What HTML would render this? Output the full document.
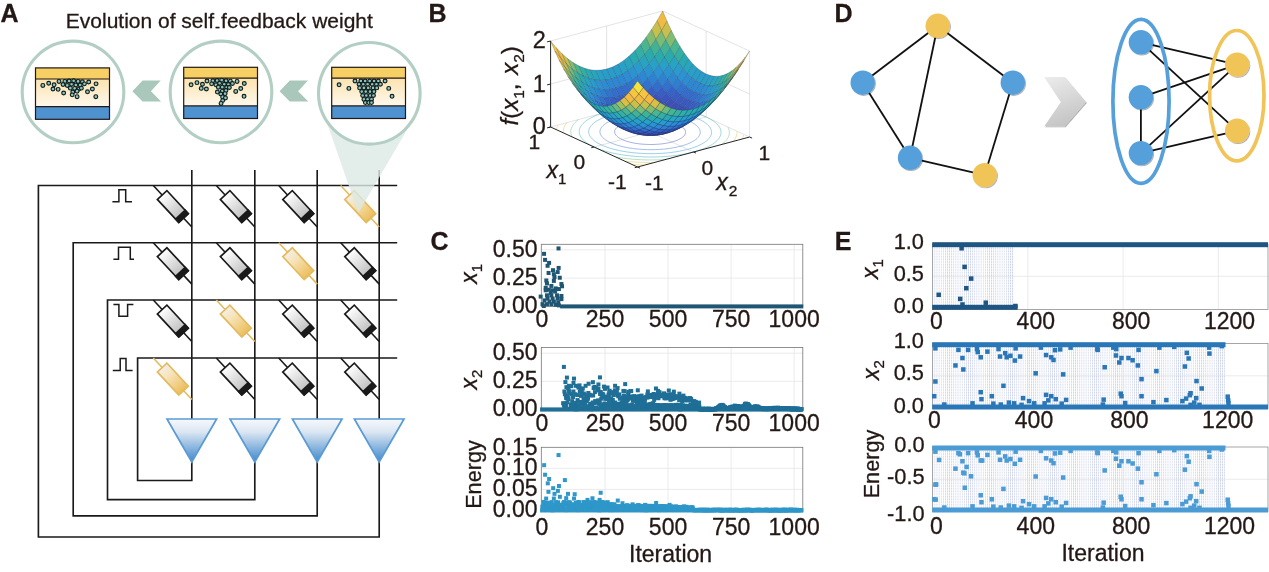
<!DOCTYPE html>
<html lang="en"><head><meta charset="utf-8"><title>Figure</title>
<style>
html,body{margin:0;padding:0;background:#fff;}
body{width:1269px;height:572px;overflow:hidden;font-family:'Liberation Sans', Arial, sans-serif;}
svg{display:block;font-family:'Liberation Sans', Arial, sans-serif;will-change:transform;}
svg text{stroke:#231815;stroke-width:0.3px;}
</style></head><body>
<svg width="1269" height="572" viewBox="0 0 1269 572">
<rect width="1269" height="572" fill="#ffffff"/>
<text x="0.4" y="22" font-size="25" font-weight="bold" fill="#231815">A</text>
<text x="65.8" y="28.3" font-size="21" fill="#231815">Evolution of self<tspan dx="1" dy="3.2" font-size="15">-</tspan><tspan dx="1" dy="-3.2">feedback weight</tspan></text>
<g stroke="#1a1a1a" stroke-width="1.65" fill="none" stroke-linejoin="miter">
<polyline points="397.2,185.5 38.4,185.5 38.4,537.0 379.2,537.0 379.2,462"/>
<polyline points="397.2,242.7 73.2,242.7 73.2,515.8 317.2,515.8 317.2,462"/>
<polyline points="397.2,300.0 107.5,300.0 107.5,499.6 254.8,499.6 254.8,462"/>
<polyline points="397.2,358.0 137.6,358.0 137.6,480.5 191.8,480.5 191.8,462"/>
<line x1="191.8" y1="170" x2="191.8" y2="419"/>
<line x1="254.8" y1="170" x2="254.8" y2="419"/>
<line x1="317.2" y1="170" x2="317.2" y2="419"/>
<line x1="379.2" y1="170" x2="379.2" y2="419"/>
</g>
<g stroke="#1a1a1a" stroke-width="1.5" fill="none">
<polyline points="112.4,201.8 118.9,201.8 118.9,189.7 125.7,189.7 125.7,201.8 132,201.8"/>
<polyline points="113.4,259.3 118.5,259.3 118.5,247.2 130.3,247.2 130.3,259.3 134,259.3"/>
<polyline points="113.4,304.6 118.9,304.6 118.9,316.2 127.6,316.2 127.6,304.6 133.4,304.6"/>
<polyline points="112.8,370.6 120.2,370.6 120.2,358.6 126,358.6 126,370.6 132.6,370.6"/>
</g>
<defs>
<linearGradient id="mg" x1="0" y1="0" x2="1" y2="0"><stop offset="0" stop-color="#ffffff"/><stop offset="1" stop-color="#b9b9b9"/></linearGradient>
<linearGradient id="my" x1="0" y1="0" x2="1" y2="0"><stop offset="0" stop-color="#f3efe6"/><stop offset="0.35" stop-color="#f6e3b8"/><stop offset="1" stop-color="#ecbe5c"/></linearGradient>
<g id="mem"><line x1="0" y1="0" x2="56.6" y2="0" stroke="#1a1a1a" stroke-width="1.6"/><rect x="13" y="-6.5" width="31.4" height="13" fill="url(#mg)" stroke="#1a1a1a" stroke-width="1.7"/><rect x="39.8" y="-6.5" width="4.6" height="13" fill="#1a1a1a" stroke="#1a1a1a" stroke-width="1.6"/></g>
<g id="memy"><line x1="0" y1="0" x2="56.6" y2="0" stroke="#e4ba5e" stroke-width="1.6"/><rect x="13" y="-6.5" width="31.4" height="13" fill="url(#my)" stroke="#e4ba5e" stroke-width="1.7"/></g>
</defs>
<use href="#mem" transform="translate(153.3,185.5) rotate(47.1)"/>
<use href="#mem" transform="translate(216.3,185.5) rotate(47.1)"/>
<use href="#mem" transform="translate(278.7,185.5) rotate(47.1)"/>
<use href="#memy" transform="translate(340.7,185.5) rotate(47.1)"/>
<use href="#mem" transform="translate(153.3,242.7) rotate(47.1)"/>
<use href="#mem" transform="translate(216.3,242.7) rotate(47.1)"/>
<use href="#memy" transform="translate(278.7,242.7) rotate(47.1)"/>
<use href="#mem" transform="translate(340.7,242.7) rotate(47.1)"/>
<use href="#mem" transform="translate(153.3,300) rotate(47.1)"/>
<use href="#memy" transform="translate(216.3,300) rotate(47.1)"/>
<use href="#mem" transform="translate(278.7,300) rotate(47.1)"/>
<use href="#mem" transform="translate(340.7,300) rotate(47.1)"/>
<use href="#memy" transform="translate(153.3,358) rotate(47.1)"/>
<use href="#mem" transform="translate(216.3,358) rotate(47.1)"/>
<use href="#mem" transform="translate(278.7,358) rotate(47.1)"/>
<use href="#mem" transform="translate(340.7,358) rotate(47.1)"/>
<defs><linearGradient id="tri" x1="0" y1="0" x2="0" y2="1"><stop offset="0" stop-color="#f7f9fc"/><stop offset="0.3" stop-color="#dbe6f2"/><stop offset="1" stop-color="#3f88cc"/></linearGradient></defs>
<polygon points="167,419 216.6,419 191.8,462" fill="url(#tri)" stroke="#5b9bd5" stroke-width="1.7" stroke-linejoin="miter"/>
<polygon points="230,419 279.6,419 254.8,462" fill="url(#tri)" stroke="#5b9bd5" stroke-width="1.7" stroke-linejoin="miter"/>
<polygon points="292.4,419 342,419 317.2,462" fill="url(#tri)" stroke="#5b9bd5" stroke-width="1.7" stroke-linejoin="miter"/>
<polygon points="354.4,419 404,419 379.2,462" fill="url(#tri)" stroke="#5b9bd5" stroke-width="1.7" stroke-linejoin="miter"/>
<polygon points="323.2,112 417.5,112 358.3,213" fill="#dce8e3" opacity="0.8"/>
<circle cx="73" cy="91.9" r="50.8" fill="#fff" stroke="#b3cfc3" stroke-width="3.1"/>
<circle cx="221" cy="91.9" r="50.8" fill="#fff" stroke="#b3cfc3" stroke-width="3.1"/>
<circle cx="369.3" cy="93.3" r="50.8" fill="#fff" stroke="#b3cfc3" stroke-width="3.1"/>
<polygon points="132.4,91.2 142.6,80.5 160.7,80.5 150.9,91.2 161.1,101.6 142.6,101.6" fill="#a9c7ba"/>
<polygon points="279.6,91.2 289.8,80.5 307.9,80.5 298.1,91.2 308.3,101.6 289.8,101.6" fill="#a9c7ba"/>
<defs><linearGradient id="cream" x1="0" y1="0" x2="0" y2="1"><stop offset="0" stop-color="#fce3b0"/><stop offset="1" stop-color="#fef8ec"/></linearGradient></defs>
<rect x="35.5" y="79" width="74" height="27.7" fill="url(#cream)"/>
<rect x="35.5" y="67.9" width="74" height="11.1" fill="#f6cf65"/>
<rect x="35.5" y="106.7" width="74" height="12.6" fill="#4e92d0"/>
<g stroke="#231815" stroke-width="1.2" fill="none"><rect x="35.5" y="67.9" width="74" height="51.4"/><line x1="35.5" y1="79" x2="109.5" y2="79"/><line x1="35.5" y1="106.7" x2="109.5" y2="106.7"/></g>
<g fill="#8cc4bd" stroke="#0f1c1c" stroke-width="1.15">
<circle cx="42.84" cy="85.44" r="1.9"/>
<circle cx="48.71" cy="83.24" r="1.9"/>
<circle cx="54.09" cy="84.83" r="1.9"/>
<circle cx="52.99" cy="88.99" r="1.9"/>
<circle cx="58.13" cy="89.35" r="1.9"/>
<circle cx="63.64" cy="93.02" r="1.9"/>
<circle cx="58.99" cy="81.4" r="1.9"/>
<circle cx="64.86" cy="81.4" r="1.9"/>
<circle cx="69.14" cy="81.04" r="1.9"/>
<circle cx="73.66" cy="80.79" r="1.9"/>
<circle cx="78.07" cy="81.4" r="1.9"/>
<circle cx="82.35" cy="81.77" r="1.9"/>
<circle cx="88.71" cy="82.02" r="1.9"/>
<circle cx="96.05" cy="83.85" r="1.9"/>
<circle cx="63.02" cy="84.46" r="1.9"/>
<circle cx="67.3" cy="85.44" r="1.9"/>
<circle cx="71.59" cy="84.22" r="1.9"/>
<circle cx="75.87" cy="85.07" r="1.9"/>
<circle cx="80.15" cy="85.07" r="1.9"/>
<circle cx="84.43" cy="83.85" r="1.9"/>
<circle cx="70.36" cy="88.13" r="1.9"/>
<circle cx="74.64" cy="88.38" r="1.9"/>
<circle cx="78.92" cy="89.11" r="1.9"/>
<circle cx="81.37" cy="88.13" r="1.9"/>
<circle cx="72.81" cy="92.05" r="1.9"/>
<circle cx="77.09" cy="91.19" r="1.9"/>
<circle cx="72.2" cy="94.86" r="1.9"/>
<circle cx="77.09" cy="96.69" r="1.9"/>
<circle cx="87.49" cy="91.8" r="1.9"/>
<circle cx="92.38" cy="88.99" r="1.9"/>
<circle cx="95.8" cy="96.69" r="1.9"/>
</g>
<rect x="183.7" y="78.1" width="73.8" height="27.8" fill="url(#cream)"/>
<rect x="183.7" y="67.3" width="73.8" height="10.8" fill="#f6cf65"/>
<rect x="183.7" y="105.9" width="73.8" height="12.6" fill="#4e92d0"/>
<g stroke="#231815" stroke-width="1.2" fill="none"><rect x="183.7" y="67.3" width="73.8" height="51.2"/><line x1="183.7" y1="78.1" x2="257.5" y2="78.1"/><line x1="183.7" y1="105.9" x2="257.5" y2="105.9"/></g>
<g fill="#8cc4bd" stroke="#0f1c1c" stroke-width="1.15">
<circle cx="191.09" cy="84.83" r="1.9"/>
<circle cx="196.96" cy="82.63" r="1.9"/>
<circle cx="202.46" cy="84.22" r="1.9"/>
<circle cx="201.24" cy="88.38" r="1.9"/>
<circle cx="206.38" cy="88.99" r="1.9"/>
<circle cx="206.99" cy="81.04" r="1.9"/>
<circle cx="212.86" cy="80.79" r="1.9"/>
<circle cx="217.14" cy="80.55" r="1.9"/>
<circle cx="221.66" cy="80.18" r="1.9"/>
<circle cx="226.07" cy="80.79" r="1.9"/>
<circle cx="230.35" cy="81.16" r="1.9"/>
<circle cx="237.08" cy="81.4" r="1.9"/>
<circle cx="244.29" cy="83.48" r="1.9"/>
<circle cx="211.64" cy="83.85" r="1.9"/>
<circle cx="215.92" cy="84.83" r="1.9"/>
<circle cx="219.59" cy="83.24" r="1.9"/>
<circle cx="224.23" cy="84.22" r="1.9"/>
<circle cx="228.39" cy="84.46" r="1.9"/>
<circle cx="232.43" cy="83.48" r="1.9"/>
<circle cx="218.36" cy="87.15" r="1.9"/>
<circle cx="222.28" cy="87.15" r="1.9"/>
<circle cx="226.68" cy="87.52" r="1.9"/>
<circle cx="229.37" cy="87.52" r="1.9"/>
<circle cx="217.38" cy="92.05" r="1.9"/>
<circle cx="222.28" cy="91.19" r="1.9"/>
<circle cx="225.95" cy="90.58" r="1.9"/>
<circle cx="220.81" cy="94" r="1.9"/>
<circle cx="225.09" cy="93.64" r="1.9"/>
<circle cx="222.64" cy="96.94" r="1.9"/>
<circle cx="225.46" cy="97.92" r="1.9"/>
<circle cx="222.64" cy="100.61" r="1.9"/>
<circle cx="221.05" cy="103.42" r="1.9"/>
<circle cx="235.73" cy="91.43" r="1.9"/>
<circle cx="240.74" cy="88.5" r="1.9"/>
<circle cx="244.05" cy="96.33" r="1.9"/>
</g>
<rect x="331.7" y="78.1" width="73.8" height="27.8" fill="url(#cream)"/>
<rect x="331.7" y="67.3" width="73.8" height="10.8" fill="#f6cf65"/>
<rect x="331.7" y="105.9" width="73.8" height="12.6" fill="#4e92d0"/>
<g stroke="#231815" stroke-width="1.2" fill="none"><rect x="331.7" y="67.3" width="73.8" height="51.2"/><line x1="331.7" y1="78.1" x2="405.5" y2="78.1"/><line x1="331.7" y1="105.9" x2="405.5" y2="105.9"/></g>
<g fill="#8cc4bd" stroke="#0f1c1c" stroke-width="1.15">
<circle cx="339.09" cy="84.83" r="1.9"/>
<circle cx="348.87" cy="88.38" r="1.9"/>
<circle cx="388.74" cy="88.38" r="1.9"/>
<circle cx="392.05" cy="96.33" r="1.9"/>
<circle cx="354.99" cy="81.04" r="1.9"/>
<circle cx="360.86" cy="81.04" r="1.9"/>
<circle cx="365.14" cy="81.04" r="1.9"/>
<circle cx="369.66" cy="81.04" r="1.9"/>
<circle cx="374.07" cy="81.04" r="1.9"/>
<circle cx="378.35" cy="81.04" r="1.9"/>
<circle cx="385.08" cy="81.04" r="1.9"/>
<circle cx="359.02" cy="84.22" r="1.9"/>
<circle cx="363.3" cy="84.22" r="1.9"/>
<circle cx="367.59" cy="84.22" r="1.9"/>
<circle cx="372.23" cy="84.22" r="1.9"/>
<circle cx="376.39" cy="84.22" r="1.9"/>
<circle cx="380.43" cy="84.22" r="1.9"/>
<circle cx="359.64" cy="87.89" r="1.9"/>
<circle cx="363.92" cy="87.89" r="1.9"/>
<circle cx="368.2" cy="87.89" r="1.9"/>
<circle cx="373.09" cy="87.89" r="1.9"/>
<circle cx="376.76" cy="87.89" r="1.9"/>
<circle cx="361.71" cy="91.56" r="1.9"/>
<circle cx="365.75" cy="91.56" r="1.9"/>
<circle cx="370.03" cy="91.56" r="1.9"/>
<circle cx="373.95" cy="91.56" r="1.9"/>
<circle cx="362.69" cy="95.47" r="1.9"/>
<circle cx="366.36" cy="95.47" r="1.9"/>
<circle cx="370.28" cy="95.47" r="1.9"/>
<circle cx="373.46" cy="95.47" r="1.9"/>
<circle cx="363.92" cy="99.38" r="1.9"/>
<circle cx="367.59" cy="99.38" r="1.9"/>
<circle cx="371.5" cy="99.38" r="1.9"/>
<circle cx="365.38" cy="102.56" r="1.9"/>
<circle cx="368.81" cy="102.56" r="1.9"/>
<circle cx="371.5" cy="102.56" r="1.9"/>
</g>
<text x="428.6" y="21.6" font-size="25" font-weight="bold" fill="#231815">B</text>
<g stroke="#dcdcdc" stroke-width="0.8" fill="none">
<polyline points="550.6,127 662.7,97 749.6,137"/>
<polyline points="550.6,41 662.7,11 749.6,51"/>
<line x1="662.7" y1="97" x2="662.7" y2="11"/>
<line x1="749.6" y1="137" x2="749.6" y2="51"/>
<polyline points="550.6,84 662.7,54 749.6,94"/>
<polyline points="606.65,26 606.65,112 693.55,152"/>
<polyline points="706.15,31 706.15,117 594.05,147"/>
</g>
<g fill="none" stroke-width="0.55" stroke-opacity="0.85">
<polyline points="628.38,122 629.12,121.81 629.87,121.62 630.64,121.44 631.42,121.27 632.22,121.11 633.03,120.95 633.85,120.8 634.68,120.66 635.52,120.53 636.37,120.4 637.23,120.28 638.1,120.17 638.98,120.07 639.86,119.98 640.75,119.89 641.65,119.81 642.56,119.75 643.47,119.69 644.38,119.63 645.3,119.59 646.22,119.55 647.14,119.53 648.07,119.51 649,119.5 649.92,119.5 650.85,119.51 651.78,119.53 652.71,119.55 653.63,119.58 654.55,119.63 655.47,119.68 656.39,119.74 657.3,119.8 658.21,119.88 659.11,119.96 660,120.05 660.89,120.15 661.77,120.26 662.64,120.38 663.51,120.5 664.36,120.64 665.21,120.78 666.04,120.93 666.87,121.08 667.68,121.24 668.48,121.41 669.27,121.59 670.04,121.78 670.8,121.97 671.55,122.17 672.28,122.37 673,122.58 673.7,122.8 674.38,123.03 675.05,123.26 675.7,123.5 676.33,123.74 676.95,123.99 677.55,124.24 678.12,124.5 678.68,124.76 679.22,125.03 679.74,125.31 680.24,125.59 680.72,125.87 681.18,126.16 681.61,126.45 682.03,126.74 682.42,127.04 682.79,127.34 683.14,127.65 683.47,127.96 683.77,128.27 684.05,128.58 684.31,128.9 684.54,129.22 684.75,129.54 684.93,129.86 685.1,130.18 685.23,130.5 685.35,130.83 685.44,131.16 685.5,131.48 685.54,131.81 685.56,132.14 685.55,132.46 685.52,132.79 685.46,133.12 685.38,133.44 685.28,133.77 685.15,134.09 685,134.41 684.82,134.73 684.62,135.05 684.4,135.37 684.15,135.68 683.88,135.99 683.58,136.3 683.27,136.61 682.93,136.91 682.56,137.21 682.18,137.51 681.77,137.8 681.35,138.08 680.9,138.37 680.43,138.65 679.93,138.92 679.42,139.19 678.89,139.46 678.34,139.72 677.77,139.97 677.18,140.22 676.57,140.47 675.94,140.7 675.3,140.94 674.64,141.16 673.96,141.38 673.26,141.59 672.55,141.8 671.83,142 671.08,142.19 670.33,142.38 669.56,142.56 668.78,142.73 667.98,142.89 667.17,143.05 666.35,143.2 665.52,143.34 664.68,143.47 663.83,143.6 662.97,143.72 662.1,143.83 661.22,143.93 660.34,144.02 659.45,144.11 658.55,144.19 657.64,144.25 656.73,144.31 655.82,144.37 654.9,144.41 653.98,144.45 653.06,144.47 652.13,144.49 651.2,144.5 650.28,144.5 649.35,144.49 648.42,144.47 647.49,144.45 646.57,144.42 645.65,144.37 644.73,144.32 643.81,144.26 642.9,144.2 641.99,144.12 641.09,144.04 640.2,143.95 639.31,143.85 638.43,143.74 637.56,143.62 636.69,143.5 635.84,143.36 634.99,143.22 634.16,143.07 633.33,142.92 632.52,142.76 631.72,142.59 630.93,142.41 630.16,142.22 629.4,142.03 628.65,141.83 627.92,141.63 627.2,141.42 626.5,141.2 625.82,140.97 625.15,140.74 624.5,140.5 623.87,140.26 623.25,140.01 622.65,139.76 622.08,139.5 621.52,139.24 620.98,138.97 620.46,138.69 619.96,138.41 619.48,138.13 619.02,137.84 618.59,137.55 618.17,137.26 617.78,136.96 617.41,136.66 617.06,136.35 616.73,136.04 616.43,135.73 616.15,135.42 615.89,135.1 615.66,134.78 615.45,134.46 615.27,134.14 615.1,133.82 614.97,133.5 614.85,133.17 614.76,132.84 614.7,132.52 614.66,132.19 614.64,131.86 614.65,131.54 614.68,131.21 614.74,130.88 614.82,130.56 614.92,130.23 615.05,129.91 615.2,129.59 615.38,129.27 615.58,128.95 615.8,128.63 616.05,128.32 616.32,128.01 616.62,127.7 616.93,127.39 617.27,127.09 617.64,126.79 618.02,126.49 618.43,126.2 618.85,125.92 619.3,125.63 619.77,125.35 620.27,125.08 620.78,124.81 621.31,124.54 621.86,124.28 622.43,124.03 623.02,123.78 623.63,123.53 624.26,123.3 624.9,123.06 625.56,122.84 626.24,122.62 626.94,122.41 627.65,122.2 628.38,122" stroke="#3d4db5"/>
<polyline points="619.38,117.86 620.42,117.59 621.49,117.32 622.58,117.07 623.69,116.83 624.81,116.59 625.95,116.37 627.11,116.16 628.29,115.96 629.48,115.77 630.68,115.59 631.9,115.43 633.13,115.27 634.37,115.13 635.62,115 636.88,114.88 638.15,114.77 639.43,114.67 640.72,114.58 642.01,114.51 643.31,114.45 644.61,114.4 645.92,114.36 647.23,114.34 648.54,114.32 649.85,114.32 651.17,114.33 652.48,114.36 653.79,114.39 655.1,114.44 656.4,114.5 657.7,114.57 659,114.65 660.28,114.75 661.57,114.86 662.84,114.98 664.11,115.11 665.36,115.25 666.61,115.4 667.84,115.57 669.06,115.74 670.27,115.93 671.47,116.13 672.65,116.34 673.81,116.56 674.96,116.79 676.09,117.03 677.2,117.28 678.3,117.54 679.38,117.81 680.43,118.09 681.47,118.39 682.48,118.68 683.47,118.99 684.44,119.31 685.38,119.64 686.3,119.97 687.2,120.32 688.07,120.67 688.92,121.03 689.73,121.39 690.52,121.77 691.29,122.15 692.02,122.54 692.73,122.93 693.4,123.33 694.05,123.74 694.67,124.15 695.26,124.57 695.81,124.99 696.33,125.42 696.83,125.85 697.29,126.28 697.72,126.72 698.11,127.17 698.47,127.61 698.8,128.06 699.1,128.51 699.36,128.97 699.59,129.43 699.79,129.89 699.95,130.35 700.07,130.81 700.17,131.27 700.22,131.73 700.25,132.19 700.24,132.66 700.19,133.12 700.11,133.58 700,134.04 699.85,134.5 699.67,134.96 699.45,135.41 699.2,135.87 698.92,136.32 698.6,136.76 698.25,137.21 697.87,137.65 697.45,138.08 697,138.52 696.52,138.94 696.01,139.37 695.47,139.79 694.89,140.2 694.29,140.61 693.65,141.01 692.99,141.4 692.29,141.79 691.57,142.17 690.82,142.55 690.03,142.92 689.23,143.28 688.39,143.63 687.53,143.97 686.65,144.31 685.73,144.64 684.8,144.96 683.84,145.27 682.86,145.57 681.85,145.86 680.82,146.14 679.78,146.41 678.71,146.68 677.62,146.93 676.51,147.17 675.39,147.41 674.25,147.63 673.09,147.84 671.91,148.04 670.72,148.23 669.52,148.41 668.3,148.57 667.07,148.73 665.83,148.87 664.58,149 663.32,149.12 662.05,149.23 660.77,149.33 659.48,149.42 658.19,149.49 656.89,149.55 655.59,149.6 654.28,149.64 652.97,149.66 651.66,149.68 650.35,149.68 649.03,149.67 647.72,149.64 646.41,149.61 645.1,149.56 643.8,149.5 642.5,149.43 641.2,149.35 639.92,149.25 638.63,149.14 637.36,149.02 636.09,148.89 634.84,148.75 633.59,148.6 632.36,148.43 631.14,148.26 629.93,148.07 628.73,147.87 627.55,147.66 626.39,147.44 625.24,147.21 624.11,146.97 623,146.72 621.9,146.46 620.82,146.19 619.77,145.91 618.73,145.61 617.72,145.32 616.73,145.01 615.76,144.69 614.82,144.36 613.9,144.03 613,143.68 612.13,143.33 611.28,142.97 610.47,142.61 609.68,142.23 608.91,141.85 608.18,141.46 607.47,141.07 606.8,140.67 606.15,140.26 605.53,139.85 604.94,139.43 604.39,139.01 603.87,138.58 603.37,138.15 602.91,137.72 602.48,137.28 602.09,136.83 601.73,136.39 601.4,135.94 601.1,135.49 600.84,135.03 600.61,134.57 600.41,134.11 600.25,133.65 600.13,133.19 600.03,132.73 599.98,132.27 599.95,131.81 599.96,131.34 600.01,130.88 600.09,130.42 600.2,129.96 600.35,129.5 600.53,129.04 600.75,128.59 601,128.13 601.28,127.68 601.6,127.24 601.95,126.79 602.33,126.35 602.75,125.92 603.2,125.48 603.68,125.06 604.19,124.63 604.73,124.21 605.31,123.8 605.91,123.39 606.55,122.99 607.21,122.6 607.91,122.21 608.63,121.83 609.38,121.45 610.17,121.08 610.97,120.72 611.81,120.37 612.67,120.03 613.55,119.69 614.47,119.36 615.4,119.04 616.36,118.73 617.34,118.43 618.35,118.14 619.38,117.86" stroke="#336ecd"/>
<polyline points="612.47,114.68 613.75,114.35 615.06,114.02 616.4,113.71 617.75,113.42 619.13,113.13 620.53,112.86 621.95,112.6 623.39,112.36 624.84,112.13 626.32,111.91 627.81,111.7 629.31,111.51 630.83,111.34 632.37,111.17 633.91,111.03 635.47,110.89 637.03,110.77 638.61,110.67 640.19,110.58 641.78,110.5 643.38,110.44 644.98,110.4 646.58,110.37 648.19,110.35 649.8,110.35 651.4,110.36 653.01,110.39 654.62,110.44 656.22,110.49 657.82,110.57 659.41,110.65 660.99,110.76 662.57,110.87 664.14,111 665.7,111.15 667.25,111.31 668.79,111.48 670.32,111.67 671.83,111.87 673.32,112.09 674.8,112.32 676.27,112.56 677.71,112.82 679.14,113.09 680.55,113.37 681.93,113.67 683.3,113.97 684.64,114.29 685.95,114.63 687.25,114.97 688.52,115.33 689.76,115.69 690.97,116.07 692.16,116.46 693.31,116.86 694.44,117.27 695.54,117.69 696.6,118.12 697.64,118.56 698.64,119.01 699.61,119.47 700.54,119.93 701.44,120.41 702.31,120.89 703.14,121.38 703.93,121.88 704.69,122.38 705.4,122.89 706.08,123.41 706.73,123.94 707.33,124.46 707.89,125 708.42,125.54 708.9,126.08 709.35,126.63 709.75,127.18 710.11,127.73 710.43,128.29 710.71,128.85 710.95,129.41 711.15,129.97 711.3,130.54 711.42,131.1 711.49,131.67 711.52,132.24 711.5,132.8 711.45,133.37 711.35,133.94 711.21,134.5 711.03,135.06 710.81,135.62 710.54,136.18 710.24,136.73 709.89,137.29 709.5,137.83 709.07,138.38 708.6,138.92 708.1,139.45 707.55,139.98 706.96,140.5 706.33,141.02 705.66,141.54 704.96,142.04 704.22,142.54 703.44,143.03 702.62,143.51 701.77,143.99 700.89,144.46 699.97,144.92 699.01,145.37 698.02,145.81 697,146.24 695.94,146.66 694.86,147.08 693.74,147.48 692.6,147.87 691.42,148.25 690.22,148.62 688.99,148.97 687.73,149.32 686.45,149.65 685.14,149.98 683.8,150.29 682.45,150.58 681.07,150.87 679.67,151.14 678.25,151.4 676.81,151.64 675.36,151.87 673.88,152.09 672.39,152.3 670.89,152.49 669.37,152.66 667.83,152.83 666.29,152.97 664.73,153.11 663.17,153.23 661.59,153.33 660.01,153.42 658.42,153.5 656.82,153.56 655.22,153.6 653.62,153.63 652.01,153.65 650.4,153.65 648.8,153.64 647.19,153.61 645.58,153.56 643.98,153.51 642.38,153.43 640.79,153.35 639.21,153.24 637.63,153.13 636.06,153 634.5,152.85 632.95,152.69 631.41,152.52 629.88,152.33 628.37,152.13 626.88,151.91 625.4,151.68 623.93,151.44 622.49,151.18 621.06,150.91 619.65,150.63 618.27,150.33 616.9,150.03 615.56,149.71 614.25,149.37 612.95,149.03 611.68,148.67 610.44,148.31 609.23,147.93 608.04,147.54 606.89,147.14 605.76,146.73 604.66,146.31 603.6,145.88 602.56,145.44 601.56,144.99 600.59,144.53 599.66,144.07 598.76,143.59 597.89,143.11 597.06,142.62 596.27,142.12 595.51,141.62 594.8,141.11 594.12,140.59 593.47,140.06 592.87,139.54 592.31,139 591.78,138.46 591.3,137.92 590.85,137.37 590.45,136.82 590.09,136.27 589.77,135.71 589.49,135.15 589.25,134.59 589.05,134.03 588.9,133.46 588.78,132.9 588.71,132.33 588.68,131.76 588.7,131.2 588.75,130.63 588.85,130.06 588.99,129.5 589.17,128.94 589.39,128.38 589.66,127.82 589.96,127.27 590.31,126.71 590.7,126.17 591.13,125.62 591.6,125.08 592.1,124.55 592.65,124.02 593.24,123.5 593.87,122.98 594.54,122.46 595.24,121.96 595.98,121.46 596.76,120.97 597.58,120.49 598.43,120.01 599.31,119.54 600.23,119.08 601.19,118.63 602.18,118.19 603.2,117.76 604.26,117.34 605.34,116.92 606.46,116.52 607.6,116.13 608.78,115.75 609.98,115.38 611.21,115.03 612.47,114.68" stroke="#2a95d2"/>
<polyline points="606.65,112 608.13,111.61 609.64,111.24 611.18,110.88 612.75,110.54 614.34,110.21 615.95,109.9 617.59,109.6 619.25,109.32 620.94,109.05 622.64,108.8 624.36,108.56 626.1,108.34 627.85,108.14 629.62,107.95 631.41,107.78 633.2,107.63 635.01,107.49 636.83,107.37 638.66,107.27 640.5,107.18 642.34,107.11 644.19,107.06 646.04,107.02 647.89,107 649.75,107 651.61,107.02 653.46,107.05 655.32,107.1 657.16,107.17 659.01,107.25 660.85,107.35 662.68,107.47 664.5,107.6 666.32,107.76 668.12,107.92 669.91,108.11 671.68,108.31 673.44,108.53 675.19,108.76 676.92,109.01 678.63,109.27 680.32,109.56 681.98,109.85 683.63,110.16 685.26,110.49 686.86,110.83 688.43,111.18 689.98,111.55 691.5,111.94 692.99,112.33 694.46,112.75 695.89,113.17 697.29,113.61 698.66,114.06 700,114.52 701.3,114.99 702.57,115.48 703.8,115.97 704.99,116.48 706.15,117 707.27,117.53 708.35,118.07 709.39,118.62 710.38,119.17 711.34,119.74 712.26,120.31 713.13,120.9 713.96,121.49 714.74,122.08 715.49,122.69 716.18,123.3 716.83,123.91 717.44,124.54 718,125.16 718.51,125.8 718.98,126.43 719.4,127.07 719.77,127.71 720.09,128.36 720.37,129.01 720.59,129.66 720.77,130.31 720.9,130.97 720.98,131.62 721.02,132.27 721,132.93 720.94,133.58 720.83,134.24 720.67,134.89 720.46,135.54 720.2,136.18 719.89,136.83 719.54,137.47 719.14,138.1 718.69,138.74 718.2,139.36 717.66,139.99 717.07,140.6 716.43,141.22 715.75,141.82 715.03,142.42 714.26,143.01 713.45,143.59 712.59,144.17 711.69,144.74 710.75,145.3 709.77,145.85 708.74,146.39 707.68,146.92 706.58,147.44 705.43,147.95 704.25,148.44 703.04,148.93 701.78,149.41 700.49,149.87 699.17,150.32 697.81,150.76 696.42,151.19 695,151.6 693.55,152 692.07,152.39 690.56,152.76 689.02,153.12 687.45,153.46 685.86,153.79 684.25,154.1 682.61,154.4 680.95,154.68 679.26,154.95 677.56,155.2 675.84,155.44 674.1,155.66 672.35,155.86 670.58,156.05 668.79,156.22 667,156.37 665.19,156.51 663.37,156.63 661.54,156.73 659.7,156.82 657.86,156.89 656.01,156.94 654.16,156.98 652.31,157 650.45,157 648.59,156.98 646.74,156.95 644.88,156.9 643.04,156.83 641.19,156.75 639.35,156.65 637.52,156.53 635.7,156.4 633.88,156.24 632.08,156.08 630.29,155.89 628.52,155.69 626.76,155.47 625.01,155.24 623.28,154.99 621.57,154.73 619.88,154.44 618.22,154.15 616.57,153.84 614.94,153.51 613.34,153.17 611.77,152.82 610.22,152.45 608.7,152.06 607.21,151.67 605.74,151.25 604.31,150.83 602.91,150.39 601.54,149.94 600.2,149.48 598.9,149.01 597.63,148.52 596.4,148.03 595.21,147.52 594.05,147 592.93,146.47 591.85,145.93 590.81,145.38 589.82,144.83 588.86,144.26 587.94,143.69 587.07,143.1 586.24,142.51 585.46,141.92 584.71,141.31 584.02,140.7 583.37,140.09 582.76,139.46 582.2,138.84 581.69,138.2 581.22,137.57 580.8,136.93 580.43,136.29 580.11,135.64 579.83,134.99 579.61,134.34 579.43,133.69 579.3,133.03 579.22,132.38 579.18,131.73 579.2,131.07 579.26,130.42 579.37,129.76 579.53,129.11 579.74,128.46 580,127.82 580.31,127.17 580.66,126.53 581.06,125.9 581.51,125.26 582,124.64 582.54,124.01 583.13,123.4 583.77,122.78 584.45,122.18 585.17,121.58 585.94,120.99 586.75,120.41 587.61,119.83 588.51,119.26 589.45,118.7 590.43,118.15 591.46,117.61 592.52,117.08 593.62,116.56 594.77,116.05 595.95,115.56 597.16,115.07 598.42,114.59 599.71,114.13 601.03,113.68 602.39,113.24 603.78,112.81 605.2,112.4 606.65,112" stroke="#29abae"/>
<polyline points="635.27,104.46 637.31,104.35 639.36,104.25 641.42,104.17 643.49,104.11 645.56,104.07 647.63,104.05 649.71,104.05 651.78,104.07 653.86,104.11 655.93,104.16 658,104.24 660.06,104.33 662.12,104.44 664.16,104.57 666.2,104.73 668.23,104.89 670.24,105.08 672.24,105.29 674.23,105.51 676.2,105.76 678.15,106.02 680.08,106.3 681.99,106.59 683.88,106.91" stroke="#68ba80"/>
<polyline points="727.99,127.21 728.35,127.93 728.66,128.66 728.91,129.38 729.11,130.11 729.26,130.84 729.35,131.58 729.39,132.31 729.37,133.04 729.3,133.77 729.18,134.5 729,135.23 728.76,135.95 728.47,136.68 728.13,137.4 727.74,138.11 727.29,138.82 726.79,139.53 726.23,140.23 725.63,140.93 724.97,141.62 724.26,142.3 723.5,142.98 722.69,143.65 721.83,144.31" stroke="#68ba80"/>
<polyline points="664.93,159.54 662.89,159.65 660.84,159.75 658.78,159.83 656.71,159.89 654.64,159.93 652.57,159.95 650.49,159.95 648.42,159.93 646.34,159.89 644.27,159.84 642.2,159.76 640.14,159.67 638.08,159.56 636.04,159.43 634,159.27 631.97,159.11 629.96,158.92 627.96,158.71 625.97,158.49 624,158.24 622.05,157.98 620.12,157.7 618.21,157.41 616.32,157.09" stroke="#68ba80"/>
<polyline points="572.21,136.79 571.85,136.07 571.54,135.34 571.29,134.62 571.09,133.89 570.94,133.16 570.85,132.42 570.81,131.69 570.83,130.96 570.9,130.23 571.02,129.5 571.2,128.77 571.44,128.05 571.73,127.32 572.07,126.6 572.46,125.89 572.91,125.18 573.41,124.47 573.97,123.77 574.57,123.07 575.23,122.38 575.94,121.7 576.7,121.02 577.51,120.35 578.37,119.69" stroke="#68ba80"/>
<polyline points="647.4,101.38 649.67,101.38 651.94,101.4 654.22,101.44 656.49,101.5 658.75,101.59 661.01,101.69 663.26,101.81 665.51,101.96 667.74,102.12 669.96,102.31 672.17,102.51 674.36,102.74" stroke="#dac044"/>
<polyline points="736.92,131.54 736.96,132.34 736.94,133.14 736.86,133.94 736.72,134.74 736.53,135.54 736.27,136.33 735.95,137.12 735.58,137.91 735.15,138.69 734.66,139.47 734.11,140.25 733.5,141.02" stroke="#dac044"/>
<polyline points="652.8,162.62 650.53,162.62 648.26,162.6 645.98,162.56 643.71,162.5 641.45,162.41 639.19,162.31 636.94,162.19 634.69,162.04 632.46,161.88 630.24,161.69 628.03,161.49 625.84,161.26" stroke="#dac044"/>
<polyline points="563.28,132.46 563.24,131.66 563.26,130.86 563.34,130.06 563.48,129.26 563.67,128.46 563.93,127.67 564.25,126.88 564.62,126.09 565.05,125.31 565.54,124.53 566.09,123.75 566.7,122.98" stroke="#dac044"/>
<polyline points="657,99.06 659.45,99.15 661.89,99.26 664.32,99.39 666.74,99.55" stroke="#f7c13f"/>
<polyline points="743.66,134.96 743.45,135.82 743.17,136.68 742.83,137.53 742.43,138.38" stroke="#f7c13f"/>
<polyline points="643.2,164.94 640.75,164.85 638.31,164.74 635.88,164.61 633.46,164.45" stroke="#f7c13f"/>
<polyline points="556.54,129.04 556.75,128.18 557.03,127.32 557.37,126.47 557.77,125.62" stroke="#f7c13f"/>
</g>
<g stroke="#10203a" stroke-opacity="0.5" stroke-width="0.4" stroke-linejoin="round">
<polygon points="661.44,30.84 657.1,20.67 662.7,11 667.04,21.17" fill="#f1ba41"/>
<polygon points="655.84,39.65 651.49,29.48 657.1,20.67 661.44,30.84" fill="#c7c04d"/>
<polygon points="665.79,40.15 661.44,30.84 667.04,21.17 671.39,30.48" fill="#c7c04d"/>
<polygon points="650.23,47.6 645.88,37.43 651.49,29.48 655.84,39.65" fill="#81bd71"/>
<polygon points="660.18,48.96 655.84,39.65 661.44,30.84 665.79,40.15" fill="#77bc77"/>
<polygon points="670.13,48.6 665.79,40.15 671.39,30.48 675.74,38.93" fill="#81bd71"/>
<polygon points="644.62,54.69 640.28,44.52 645.88,37.43 650.23,47.6" fill="#49b690"/>
<polygon points="654.58,56.91 650.23,47.6 655.84,39.65 660.18,48.96" fill="#40b397"/>
<polygon points="664.53,57.41 660.18,48.96 665.79,40.15 670.13,48.6" fill="#40b397"/>
<polygon points="674.47,56.19 670.13,48.6 675.74,38.93 680.08,46.52" fill="#49b690"/>
<polygon points="639.02,60.92 634.67,50.75 640.28,44.52 644.62,54.69" fill="#33afa4"/>
<polygon points="648.97,64 644.62,54.69 650.23,47.6 654.58,56.91" fill="#29abae"/>
<polygon points="658.92,65.36 654.58,56.91 660.18,48.96 664.53,57.41" fill="#29aab1"/>
<polygon points="668.87,65 664.53,57.41 670.13,48.6 674.47,56.19" fill="#29abae"/>
<polygon points="678.82,62.92 674.47,56.19 680.08,46.52 684.42,53.25" fill="#33afa4"/>
<polygon points="633.41,66.29 629.07,56.12 634.67,50.75 639.02,60.92" fill="#29a9b3"/>
<polygon points="643.37,70.23 639.02,60.92 644.62,54.69 648.97,64" fill="#27a4c1"/>
<polygon points="653.32,72.45 648.97,64 654.58,56.91 658.92,65.36" fill="#27a1c7"/>
<polygon points="663.26,72.95 658.92,65.36 664.53,57.41 668.87,65" fill="#27a1c7"/>
<polygon points="673.22,71.73 668.87,65 674.47,56.19 678.82,62.92" fill="#27a4c1"/>
<polygon points="627.81,70.8 623.47,60.63 629.07,56.12 633.41,66.29" fill="#28a5bf"/>
<polygon points="683.16,68.79 678.82,62.92 684.42,53.25 688.77,59.12" fill="#29a9b3"/>
<polygon points="637.76,75.6 633.41,66.29 639.02,60.92 643.37,70.23" fill="#299bcc"/>
<polygon points="647.71,78.68 643.37,70.23 648.97,64 653.32,72.45" fill="#2a94d3"/>
<polygon points="657.66,80.04 653.32,72.45 658.92,65.36 663.26,72.95" fill="#2b92d5"/>
<polygon points="667.61,79.68 663.26,72.95 668.87,65 673.22,71.73" fill="#2a94d3"/>
<polygon points="622.21,74.45 617.86,64.28 623.47,60.63 627.81,70.8" fill="#27a1c7"/>
<polygon points="677.56,77.6 673.22,71.73 678.82,62.92 683.16,68.79" fill="#299bcc"/>
<polygon points="632.16,80.11 627.81,70.8 633.41,66.29 637.76,75.6" fill="#2b93d4"/>
<polygon points="642.11,84.05 637.76,75.6 643.37,70.23 647.71,78.68" fill="#2d88d4"/>
<polygon points="687.51,73.8 683.16,68.79 688.77,59.12 693.12,64.13" fill="#28a5bf"/>
<polygon points="652.05,86.27 647.71,78.68 653.32,72.45 657.66,80.04" fill="#2e82d3"/>
<polygon points="662,86.77 657.66,80.04 663.26,72.95 667.61,79.68" fill="#2e82d3"/>
<polygon points="616.6,77.24 612.25,67.07 617.86,64.28 622.21,74.45" fill="#289dca"/>
<polygon points="626.55,83.76 622.21,74.45 627.81,70.8 632.16,80.11" fill="#2c8cd4"/>
<polygon points="671.96,85.55 667.61,79.68 673.22,71.73 677.56,77.6" fill="#2d88d4"/>
<polygon points="681.91,82.61 677.56,77.6 683.16,68.79 687.51,73.8" fill="#2b93d4"/>
<polygon points="636.5,88.56 632.16,80.11 637.76,75.6 642.11,84.05" fill="#2f7ed2"/>
<polygon points="646.45,91.64 642.11,84.05 647.71,78.68 652.05,86.27" fill="#3272ce"/>
<polygon points="691.86,77.95 687.51,73.8 693.12,64.13 697.46,68.28" fill="#27a1c7"/>
<polygon points="656.4,93 652.05,86.27 657.66,80.04 662,86.77" fill="#336ecd"/>
<polygon points="611,79.17 606.65,69 612.25,67.07 616.6,77.24" fill="#289ccb"/>
<polygon points="666.35,92.64 662,86.77 667.61,79.68 671.96,85.55" fill="#3272ce"/>
<polygon points="620.95,86.55 616.6,77.24 622.21,74.45 626.55,83.76" fill="#2d88d4"/>
<polygon points="630.9,92.21 626.55,83.76 632.16,80.11 636.5,88.56" fill="#3174cf"/>
<polygon points="676.3,90.56 671.96,85.55 677.56,77.6 681.91,82.61" fill="#2f7ed2"/>
<polygon points="686.25,86.76 681.91,82.61 687.51,73.8 691.86,77.95" fill="#2c8cd4"/>
<polygon points="640.85,96.15 636.5,88.56 642.11,84.05 646.45,91.64" fill="#3564c9"/>
<polygon points="696.2,81.24 691.86,77.95 697.46,68.28 701.8,71.57" fill="#289dca"/>
<polygon points="650.79,98.37 646.45,91.64 652.05,86.27 656.4,93" fill="#375ec5"/>
<polygon points="605.39,80.24 601.04,70.07 606.65,69 611,79.17" fill="#289dca"/>
<polygon points="660.75,98.87 656.4,93 662,86.77 666.35,92.64" fill="#375ec5"/>
<polygon points="615.34,88.48 611,79.17 616.6,77.24 620.95,86.55" fill="#2d87d3"/>
<polygon points="670.7,97.65 666.35,92.64 671.96,85.55 676.3,90.56" fill="#3564c9"/>
<polygon points="625.29,95 620.95,86.55 626.55,83.76 630.9,92.21" fill="#336ecd"/>
<polygon points="635.24,99.8 630.9,92.21 636.5,88.56 640.85,96.15" fill="#385dc4"/>
<polygon points="680.64,94.71 676.3,90.56 681.91,82.61 686.25,86.76" fill="#3174cf"/>
<polygon points="690.6,90.05 686.25,86.76 691.86,77.95 696.2,81.24" fill="#2d88d4"/>
<polygon points="645.19,102.88 640.85,96.15 646.45,91.64 650.79,98.37" fill="#3a56be"/>
<polygon points="599.78,80.45 595.44,70.28 601.04,70.07 605.39,80.24" fill="#27a1c7"/>
<polygon points="700.55,83.67 696.2,81.24 701.8,71.57 706.15,74" fill="#289ccb"/>
<polygon points="655.14,104.24 650.79,98.37 656.4,93 660.75,98.87" fill="#3b54bc"/>
<polygon points="609.74,89.55 605.39,80.24 611,79.17 615.34,88.48" fill="#2d88d4"/>
<polygon points="665.09,103.88 660.75,98.87 666.35,92.64 670.7,97.65" fill="#3a56be"/>
<polygon points="619.69,96.93 615.34,88.48 620.95,86.55 625.29,95" fill="#336ccc"/>
<polygon points="675.04,101.8 670.7,97.65 676.3,90.56 680.64,94.71" fill="#385dc4"/>
<polygon points="629.63,102.59 625.29,95 630.9,92.21 635.24,99.8" fill="#395ac1"/>
<polygon points="684.99,98 680.64,94.71 686.25,86.76 690.6,90.05" fill="#336ecd"/>
<polygon points="639.59,106.53 635.24,99.8 640.85,96.15 645.19,102.88" fill="#3c50b8"/>
<polygon points="594.18,79.8 589.83,69.63 595.44,70.28 599.78,80.45" fill="#28a5bf"/>
<polygon points="694.94,92.48 690.6,90.05 696.2,81.24 700.55,83.67" fill="#2d87d3"/>
<polygon points="649.54,108.75 645.19,102.88 650.79,98.37 655.14,104.24" fill="#3d4db5"/>
<polygon points="604.13,89.76 599.78,80.45 605.39,80.24 609.74,89.55" fill="#2c8cd4"/>
<polygon points="704.89,85.24 700.55,83.67 706.15,74 710.5,75.57" fill="#289dca"/>
<polygon points="659.49,109.25 655.14,104.24 660.75,98.87 665.09,103.88" fill="#3d4db5"/>
<polygon points="614.08,98 609.74,89.55 615.34,88.48 619.69,96.93" fill="#336ecd"/>
<polygon points="669.43,108.03 665.09,103.88 670.7,97.65 675.04,101.8" fill="#3c50b8"/>
<polygon points="624.03,104.52 619.69,96.93 625.29,95 629.63,102.59" fill="#3959c0"/>
<polygon points="679.38,105.09 675.04,101.8 680.64,94.71 684.99,98" fill="#395ac1"/>
<polygon points="633.98,109.32 629.63,102.59 635.24,99.8 639.59,106.53" fill="#3d4eb6"/>
<polygon points="588.58,78.29 584.23,68.12 589.83,69.63 594.18,79.8" fill="#29a9b3"/>
<polygon points="689.34,100.43 684.99,98 690.6,90.05 694.94,92.48" fill="#336ccc"/>
<polygon points="643.93,112.4 639.59,106.53 645.19,102.88 649.54,108.75" fill="#3e4ab0"/>
<polygon points="598.52,89.11 594.18,79.8 599.78,80.45 604.13,89.76" fill="#2b93d4"/>
<polygon points="699.29,94.05 694.94,92.48 700.55,83.67 704.89,85.24" fill="#2d88d4"/>
<polygon points="608.48,98.21 604.13,89.76 609.74,89.55 614.08,98" fill="#3174cf"/>
<polygon points="653.88,113.76 649.54,108.75 655.14,104.24 659.49,109.25" fill="#3e48af"/>
<polygon points="618.42,105.59 614.08,98 619.69,96.93 624.03,104.52" fill="#395ac1"/>
<polygon points="709.24,85.95 704.89,85.24 710.5,75.57 714.84,76.28" fill="#27a1c7"/>
<polygon points="663.83,113.4 659.49,109.25 665.09,103.88 669.43,108.03" fill="#3e4ab0"/>
<polygon points="628.38,111.25 624.03,104.52 629.63,102.59 633.98,109.32" fill="#3d4db5"/>
<polygon points="673.78,111.32 669.43,108.03 675.04,101.8 679.38,105.09" fill="#3d4eb6"/>
<polygon points="582.97,75.92 578.62,65.75 584.23,68.12 588.58,78.29" fill="#33afa4"/>
<polygon points="683.73,107.52 679.38,105.09 684.99,98 689.34,100.43" fill="#3959c0"/>
<polygon points="638.33,115.19 633.98,109.32 639.59,106.53 643.93,112.4" fill="#3e47ae"/>
<polygon points="592.92,87.6 588.58,78.29 594.18,79.8 598.52,89.11" fill="#299bcc"/>
<polygon points="693.68,102 689.34,100.43 694.94,92.48 699.29,94.05" fill="#336ecd"/>
<polygon points="648.28,117.41 643.93,112.4 649.54,108.75 653.88,113.76" fill="#3f44aa"/>
<polygon points="602.87,97.56 598.52,89.11 604.13,89.76 608.48,98.21" fill="#2f7ed2"/>
<polygon points="612.82,105.8 608.48,98.21 614.08,98 618.42,105.59" fill="#385dc4"/>
<polygon points="703.63,94.76 699.29,94.05 704.89,85.24 709.24,85.95" fill="#2c8cd4"/>
<polygon points="658.23,117.91 653.88,113.76 659.49,109.25 663.83,113.4" fill="#3f44aa"/>
<polygon points="622.77,112.32 618.42,105.59 624.03,104.52 628.38,111.25" fill="#3d4eb6"/>
<polygon points="713.58,85.8 709.24,85.95 714.84,76.28 719.18,76.13" fill="#28a5bf"/>
<polygon points="668.17,116.69 663.83,113.4 669.43,108.03 673.78,111.32" fill="#3e47ae"/>
<polygon points="577.37,72.69 573.02,62.52 578.62,65.75 582.97,75.92" fill="#49b690"/>
<polygon points="678.12,113.75 673.78,111.32 679.38,105.09 683.73,107.52" fill="#3d4db5"/>
<polygon points="632.72,117.12 628.38,111.25 633.98,109.32 638.33,115.19" fill="#3f47ad"/>
<polygon points="587.32,85.23 582.97,75.92 588.58,78.29 592.92,87.6" fill="#27a4c1"/>
<polygon points="688.08,109.09 683.73,107.52 689.34,100.43 693.68,102" fill="#395ac1"/>
<polygon points="642.67,120.2 638.33,115.19 643.93,112.4 648.28,117.41" fill="#3f42a7"/>
<polygon points="597.27,96.05 592.92,87.6 598.52,89.11 602.87,97.56" fill="#2d88d4"/>
<polygon points="652.62,121.56 648.28,117.41 653.88,113.76 658.23,117.91" fill="#3f41a5"/>
<polygon points="607.21,105.15 602.87,97.56 608.48,98.21 612.82,105.8" fill="#3564c9"/>
<polygon points="698.03,102.71 693.68,102 699.29,94.05 703.63,94.76" fill="#3174cf"/>
<polygon points="617.16,112.53 612.82,105.8 618.42,105.59 622.77,112.32" fill="#3c50b8"/>
<polygon points="707.98,94.61 703.63,94.76 709.24,85.95 713.58,85.8" fill="#2b93d4"/>
<polygon points="662.57,121.2 658.23,117.91 663.83,113.4 668.17,116.69" fill="#3f42a7"/>
<polygon points="571.76,68.6 567.41,58.43 573.02,62.52 577.37,72.69" fill="#81bd71"/>
<polygon points="672.52,119.12 668.17,116.69 673.78,111.32 678.12,113.75" fill="#3f47ad"/>
<polygon points="627.12,118.19 622.77,112.32 628.38,111.25 632.72,117.12" fill="#3e47ae"/>
<polygon points="717.92,84.79 713.58,85.8 719.18,76.13 723.53,75.12" fill="#29a9b3"/>
<polygon points="581.71,82 577.37,72.69 582.97,75.92 587.32,85.23" fill="#29abae"/>
<polygon points="682.47,115.32 678.12,113.75 683.73,107.52 688.08,109.09" fill="#3d4eb6"/>
<polygon points="637.07,122.13 632.72,117.12 638.33,115.19 642.67,120.2" fill="#3f42a6"/>
<polygon points="591.66,93.68 587.32,85.23 592.92,87.6 597.27,96.05" fill="#2a94d3"/>
<polygon points="692.42,109.8 688.08,109.09 693.68,102 698.03,102.71" fill="#385dc4"/>
<polygon points="647.01,124.35 642.67,120.2 648.28,117.41 652.62,121.56" fill="#403fa1"/>
<polygon points="601.61,103.64 597.27,96.05 602.87,97.56 607.21,105.15" fill="#3272ce"/>
<polygon points="611.56,111.88 607.21,105.15 612.82,105.8 617.16,112.53" fill="#3a56be"/>
<polygon points="656.97,124.85 652.62,121.56 658.23,117.91 662.57,121.2" fill="#403fa1"/>
<polygon points="702.37,102.56 698.03,102.71 703.63,94.76 707.98,94.61" fill="#2f7ed2"/>
<polygon points="566.15,63.65 561.81,53.48 567.41,58.43 571.76,68.6" fill="#c7c04d"/>
<polygon points="666.92,123.63 662.57,121.2 668.17,116.69 672.52,119.12" fill="#3f42a6"/>
<polygon points="712.32,93.6 707.98,94.61 713.58,85.8 717.92,84.79" fill="#299bcc"/>
<polygon points="621.51,118.4 617.16,112.53 622.77,112.32 627.12,118.19" fill="#3e4ab0"/>
<polygon points="576.11,77.91 571.76,68.6 577.37,72.69 581.71,82" fill="#40b397"/>
<polygon points="676.87,120.69 672.52,119.12 678.12,113.75 682.47,115.32" fill="#3e47ae"/>
<polygon points="586.06,90.45 581.71,82 587.32,85.23 591.66,93.68" fill="#27a1c7"/>
<polygon points="631.46,123.2 627.12,118.19 632.72,117.12 637.07,122.13" fill="#3f42a7"/>
<polygon points="722.27,82.92 717.92,84.79 723.53,75.12 727.88,73.25" fill="#33afa4"/>
<polygon points="686.82,116.03 682.47,115.32 688.08,109.09 692.42,109.8" fill="#3c50b8"/>
<polygon points="641.41,126.28 637.07,122.13 642.67,120.2 647.01,124.35" fill="#403fa0"/>
<polygon points="596,101.27 591.66,93.68 597.27,96.05 601.61,103.64" fill="#2e82d3"/>
<polygon points="696.76,109.65 692.42,109.8 698.03,102.71 702.37,102.56" fill="#3564c9"/>
<polygon points="651.36,127.64 647.01,124.35 652.62,121.56 656.97,124.85" fill="#403d9e"/>
<polygon points="605.96,110.37 601.61,103.64 607.21,105.15 611.56,111.88" fill="#375ec5"/>
<polygon points="560.55,57.84 556.2,47.67 561.81,53.48 566.15,63.65" fill="#f1ba41"/>
<polygon points="661.31,127.28 656.97,124.85 662.57,121.2 666.92,123.63" fill="#403fa0"/>
<polygon points="570.5,72.96 566.15,63.65 571.76,68.6 576.11,77.91" fill="#77bc77"/>
<polygon points="615.9,117.75 611.56,111.88 617.16,112.53 621.51,118.4" fill="#3d4db5"/>
<polygon points="706.72,101.55 702.37,102.56 707.98,94.61 712.32,93.6" fill="#2d88d4"/>
<polygon points="580.45,86.36 576.11,77.91 581.71,82 586.06,90.45" fill="#29aab1"/>
<polygon points="716.67,91.73 712.32,93.6 717.92,84.79 722.27,82.92" fill="#27a4c1"/>
<polygon points="671.26,125.2 666.92,123.63 672.52,119.12 676.87,120.69" fill="#3f42a7"/>
<polygon points="625.86,123.41 621.51,118.4 627.12,118.19 631.46,123.2" fill="#3f44aa"/>
<polygon points="590.4,98.04 586.06,90.45 591.66,93.68 596,101.27" fill="#2b92d5"/>
<polygon points="635.8,127.35 631.46,123.2 637.07,122.13 641.41,126.28" fill="#403fa1"/>
<polygon points="681.21,121.4 676.87,120.69 682.47,115.32 686.82,116.03" fill="#3e4ab0"/>
<polygon points="726.62,80.19 722.27,82.92 727.88,73.25 732.22,70.52" fill="#49b690"/>
<polygon points="645.75,129.57 641.41,126.28 647.01,124.35 651.36,127.64" fill="#403d9d"/>
<polygon points="691.16,115.88 686.82,116.03 692.42,109.8 696.76,109.65" fill="#3a56be"/>
<polygon points="600.35,108 596,101.27 601.61,103.64 605.96,110.37" fill="#336ecd"/>
<polygon points="554.95,51.17 550.6,41 556.2,47.67 560.55,57.84" fill="#f8c63e"/>
<polygon points="655.71,130.07 651.36,127.64 656.97,124.85 661.31,127.28" fill="#403d9d"/>
<polygon points="701.11,108.64 696.76,109.65 702.37,102.56 706.72,101.55" fill="#3272ce"/>
<polygon points="610.3,116.24 605.96,110.37 611.56,111.88 615.9,117.75" fill="#3b54bc"/>
<polygon points="564.89,67.15 560.55,57.84 566.15,63.65 570.5,72.96" fill="#c7c04d"/>
<polygon points="574.85,81.41 570.5,72.96 576.11,77.91 580.45,86.36" fill="#40b397"/>
<polygon points="665.66,128.85 661.31,127.28 666.92,123.63 671.26,125.2" fill="#403fa1"/>
<polygon points="620.25,122.76 615.9,117.75 621.51,118.4 625.86,123.41" fill="#3e48af"/>
<polygon points="711.06,99.68 706.72,101.55 712.32,93.6 716.67,91.73" fill="#2a94d3"/>
<polygon points="584.79,93.95 580.45,86.36 586.06,90.45 590.4,98.04" fill="#27a1c7"/>
<polygon points="675.61,125.91 671.26,125.2 676.87,120.69 681.21,121.4" fill="#3f44aa"/>
<polygon points="630.2,127.56 625.86,123.41 631.46,123.2 635.8,127.35" fill="#3f41a5"/>
<polygon points="721.01,89 716.67,91.73 722.27,82.92 726.62,80.19" fill="#29abae"/>
<polygon points="730.96,76.6 726.62,80.19 732.22,70.52 736.56,66.93" fill="#81bd71"/>
<polygon points="640.15,130.64 635.8,127.35 641.41,126.28 645.75,129.57" fill="#403d9e"/>
<polygon points="594.75,104.77 590.4,98.04 596,101.27 600.35,108" fill="#2e82d3"/>
<polygon points="685.55,121.25 681.21,121.4 686.82,116.03 691.16,115.88" fill="#3d4db5"/>
<polygon points="650.1,132 645.75,129.57 651.36,127.64 655.71,130.07" fill="#403c9c"/>
<polygon points="695.5,114.87 691.16,115.88 696.76,109.65 701.11,108.64" fill="#375ec5"/>
<polygon points="559.29,60.48 554.95,51.17 560.55,57.84 564.89,67.15" fill="#f5b940"/>
<polygon points="604.7,113.87 600.35,108 605.96,110.37 610.3,116.24" fill="#375ec5"/>
<polygon points="660.05,131.64 655.71,130.07 661.31,127.28 665.66,128.85" fill="#403d9e"/>
<polygon points="705.46,106.77 701.11,108.64 706.72,101.55 711.06,99.68" fill="#2e82d3"/>
<polygon points="569.24,75.6 564.89,67.15 570.5,72.96 574.85,81.41" fill="#81bd71"/>
<polygon points="614.65,121.25 610.3,116.24 615.9,117.75 620.25,122.76" fill="#3d4db5"/>
<polygon points="579.19,89 574.85,81.41 580.45,86.36 584.79,93.95" fill="#29abae"/>
<polygon points="670,129.56 665.66,128.85 671.26,125.2 675.61,125.91" fill="#3f41a5"/>
<polygon points="624.59,126.91 620.25,122.76 625.86,123.41 630.2,127.56" fill="#3f44aa"/>
<polygon points="715.41,96.95 711.06,99.68 716.67,91.73 721.01,89" fill="#27a1c7"/>
<polygon points="725.36,85.41 721.01,89 726.62,80.19 730.96,76.6" fill="#40b397"/>
<polygon points="589.14,100.68 584.79,93.95 590.4,98.04 594.75,104.77" fill="#2a94d3"/>
<polygon points="634.54,130.85 630.2,127.56 635.8,127.35 640.15,130.64" fill="#403fa1"/>
<polygon points="679.95,125.76 675.61,125.91 681.21,121.4 685.55,121.25" fill="#3e48af"/>
<polygon points="644.5,133.07 640.15,130.64 645.75,129.57 650.1,132" fill="#403d9d"/>
<polygon points="735.31,72.15 730.96,76.6 736.56,66.93 740.91,62.48" fill="#c7c04d"/>
<polygon points="689.9,120.24 685.55,121.25 691.16,115.88 695.5,114.87" fill="#3b54bc"/>
<polygon points="599.09,110.64 594.75,104.77 600.35,108 604.7,113.87" fill="#3272ce"/>
<polygon points="563.64,68.93 559.29,60.48 564.89,67.15 569.24,75.6" fill="#d8c044"/>
<polygon points="654.45,133.57 650.1,132 655.71,130.07 660.05,131.64" fill="#403d9d"/>
<polygon points="699.85,113 695.5,114.87 701.11,108.64 705.46,106.77" fill="#336ecd"/>
<polygon points="609.04,118.88 604.7,113.87 610.3,116.24 614.65,121.25" fill="#3a56be"/>
<polygon points="664.4,132.35 660.05,131.64 665.66,128.85 670,129.56" fill="#403fa1"/>
<polygon points="573.58,83.19 569.24,75.6 574.85,81.41 579.19,89" fill="#49b690"/>
<polygon points="709.8,104.04 705.46,106.77 711.06,99.68 715.41,96.95" fill="#2b92d5"/>
<polygon points="618.99,125.4 614.65,121.25 620.25,122.76 624.59,126.91" fill="#3e4ab0"/>
<polygon points="583.53,95.73 579.19,89 584.79,93.95 589.14,100.68" fill="#27a4c1"/>
<polygon points="719.75,93.36 715.41,96.95 721.01,89 725.36,85.41" fill="#29aab1"/>
<polygon points="628.94,130.2 624.59,126.91 630.2,127.56 634.54,130.85" fill="#3f42a7"/>
<polygon points="674.35,129.41 670,129.56 675.61,125.91 679.95,125.76" fill="#3f44aa"/>
<polygon points="638.89,133.28 634.54,130.85 640.15,130.64 644.5,133.07" fill="#403fa0"/>
<polygon points="729.7,80.96 725.36,85.41 730.96,76.6 735.31,72.15" fill="#77bc77"/>
<polygon points="593.49,106.55 589.14,100.68 594.75,104.77 599.09,110.64" fill="#2d88d4"/>
<polygon points="684.3,124.75 679.95,125.76 685.55,121.25 689.9,120.24" fill="#3d4db5"/>
<polygon points="648.84,134.64 644.5,133.07 650.1,132 654.45,133.57" fill="#403d9e"/>
<polygon points="694.25,118.37 689.9,120.24 695.5,114.87 699.85,113" fill="#375ec5"/>
<polygon points="603.44,115.65 599.09,110.64 604.7,113.87 609.04,118.88" fill="#3564c9"/>
<polygon points="739.65,66.84 735.31,72.15 740.91,62.48 745.25,57.17" fill="#f1ba41"/>
<polygon points="567.98,76.52 563.64,68.93 569.24,75.6 573.58,83.19" fill="#a0c060"/>
<polygon points="658.79,134.28 654.45,133.57 660.05,131.64 664.4,132.35" fill="#403fa0"/>
<polygon points="704.2,110.27 699.85,113 705.46,106.77 709.8,104.04" fill="#2e82d3"/>
<polygon points="613.38,123.03 609.04,118.88 614.65,121.25 618.99,125.4" fill="#3c50b8"/>
<polygon points="714.14,100.45 709.8,104.04 715.41,96.95 719.75,93.36" fill="#27a1c7"/>
<polygon points="577.93,89.92 573.58,83.19 579.19,89 583.53,95.73" fill="#34afa4"/>
<polygon points="668.74,132.2 664.4,132.35 670,129.56 674.35,129.41" fill="#3f42a7"/>
<polygon points="623.34,128.69 618.99,125.4 624.59,126.91 628.94,130.2" fill="#3e47ae"/>
<polygon points="633.28,132.63 628.94,130.2 634.54,130.85 638.89,133.28" fill="#3f42a6"/>
<polygon points="587.88,101.6 583.53,95.73 589.14,100.68 593.49,106.55" fill="#299bcc"/>
<polygon points="678.69,128.4 674.35,129.41 679.95,125.76 684.3,124.75" fill="#3e4ab0"/>
<polygon points="724.1,88.91 719.75,93.36 725.36,85.41 729.7,80.96" fill="#40b397"/>
<polygon points="643.24,134.85 638.89,133.28 644.5,133.07 648.84,134.64" fill="#403fa1"/>
<polygon points="597.83,111.56 593.49,106.55 599.09,110.64 603.44,115.65" fill="#2f7ed2"/>
<polygon points="688.64,122.88 684.3,124.75 689.9,120.24 694.25,118.37" fill="#3a56be"/>
<polygon points="734.05,75.65 729.7,80.96 735.31,72.15 739.65,66.84" fill="#c7c04d"/>
<polygon points="744,60.67 739.65,66.84 745.25,57.17 749.6,51" fill="#f8c63e"/>
<polygon points="653.19,135.35 648.84,134.64 654.45,133.57 658.79,134.28" fill="#403fa1"/>
<polygon points="607.78,119.8 603.44,115.65 609.04,118.88 613.38,123.03" fill="#385dc4"/>
<polygon points="698.59,115.64 694.25,118.37 699.85,113 704.2,110.27" fill="#3272ce"/>
<polygon points="708.54,106.68 704.2,110.27 709.8,104.04 714.14,100.45" fill="#2a94d3"/>
<polygon points="572.33,83.25 567.98,76.52 573.58,83.19 577.93,89.92" fill="#68ba80"/>
<polygon points="663.13,134.13 658.79,134.28 664.4,132.35 668.74,132.2" fill="#3f42a6"/>
<polygon points="617.73,126.32 613.38,123.03 618.99,125.4 623.34,128.69" fill="#3d4eb6"/>
<polygon points="718.49,96 714.14,100.45 719.75,93.36 724.1,88.91" fill="#29abae"/>
<polygon points="673.09,131.19 668.74,132.2 674.35,129.41 678.69,128.4" fill="#3e47ae"/>
<polygon points="627.68,131.12 623.34,128.69 628.94,130.2 633.28,132.63" fill="#3f47ad"/>
<polygon points="582.27,95.79 577.93,89.92 583.53,95.73 587.88,101.6" fill="#29a9b3"/>
<polygon points="637.63,134.2 633.28,132.63 638.89,133.28 643.24,134.85" fill="#3f42a7"/>
<polygon points="592.23,106.61 587.88,101.6 593.49,106.55 597.83,111.56" fill="#2b93d4"/>
<polygon points="683.04,126.53 678.69,128.4 684.3,124.75 688.64,122.88" fill="#3c50b8"/>
<polygon points="728.44,83.6 724.1,88.91 729.7,80.96 734.05,75.65" fill="#81bd71"/>
<polygon points="738.39,69.48 734.05,75.65 739.65,66.84 744,60.67" fill="#f5b940"/>
<polygon points="647.58,135.56 643.24,134.85 648.84,134.64 653.19,135.35" fill="#3f41a5"/>
<polygon points="602.17,115.71 597.83,111.56 603.44,115.65 607.78,119.8" fill="#3174cf"/>
<polygon points="692.99,120.15 688.64,122.88 694.25,118.37 698.59,115.64" fill="#3564c9"/>
<polygon points="702.93,112.05 698.59,115.64 704.2,110.27 708.54,106.68" fill="#2d88d4"/>
<polygon points="657.53,135.2 653.19,135.35 658.79,134.28 663.13,134.13" fill="#3f42a7"/>
<polygon points="612.12,123.09 607.78,119.8 613.38,123.03 617.73,126.32" fill="#395ac1"/>
<polygon points="712.88,102.23 708.54,106.68 714.14,100.45 718.49,96" fill="#27a4c1"/>
<polygon points="667.48,133.12 663.13,134.13 668.74,132.2 673.09,131.19" fill="#3f47ad"/>
<polygon points="622.08,128.75 617.73,126.32 623.34,128.69 627.68,131.12" fill="#3d4db5"/>
<polygon points="576.67,89.12 572.33,83.25 577.93,89.92 582.27,95.79" fill="#45b592"/>
<polygon points="677.43,129.32 673.09,131.19 678.69,128.4 683.04,126.53" fill="#3d4eb6"/>
<polygon points="632.03,132.69 627.68,131.12 633.28,132.63 637.63,134.2" fill="#3e47ae"/>
<polygon points="722.84,90.69 718.49,96 724.1,88.91 728.44,83.6" fill="#49b690"/>
<polygon points="586.62,100.8 582.27,95.79 587.88,101.6 592.23,106.61" fill="#28a5bf"/>
<polygon points="732.79,77.43 728.44,83.6 734.05,75.65 738.39,69.48" fill="#d8c044"/>
<polygon points="641.98,134.91 637.63,134.2 643.24,134.85 647.58,135.56" fill="#3f44aa"/>
<polygon points="596.57,110.76 592.23,106.61 597.83,111.56 602.17,115.71" fill="#2c8cd4"/>
<polygon points="687.38,123.8 683.04,126.53 688.64,122.88 692.99,120.15" fill="#385dc4"/>
<polygon points="697.33,116.56 692.99,120.15 698.59,115.64 702.93,112.05" fill="#2f7ed2"/>
<polygon points="651.92,135.41 647.58,135.56 653.19,135.35 657.53,135.2" fill="#3f44aa"/>
<polygon points="606.52,119 602.17,115.71 607.78,119.8 612.12,123.09" fill="#336ecd"/>
<polygon points="661.88,134.19 657.53,135.2 663.13,134.13 667.48,133.12" fill="#3e47ae"/>
<polygon points="616.47,125.52 612.12,123.09 617.73,126.32 622.08,128.75" fill="#3959c0"/>
<polygon points="707.28,107.6 702.93,112.05 708.54,106.68 712.88,102.23" fill="#299bcc"/>
<polygon points="671.83,131.25 667.48,133.12 673.09,131.19 677.43,129.32" fill="#3d4db5"/>
<polygon points="626.42,130.32 622.08,128.75 627.68,131.12 632.03,132.69" fill="#3d4eb6"/>
<polygon points="581.02,94.13 576.67,89.12 582.27,95.79 586.62,100.8" fill="#39b19e"/>
<polygon points="717.23,96.92 712.88,102.23 718.49,96 722.84,90.69" fill="#34afa4"/>
<polygon points="727.18,84.52 722.84,90.69 728.44,83.6 732.79,77.43" fill="#a0c060"/>
<polygon points="681.78,126.59 677.43,129.32 683.04,126.53 687.38,123.8" fill="#395ac1"/>
<polygon points="636.37,133.4 632.03,132.69 637.63,134.2 641.98,134.91" fill="#3e4ab0"/>
<polygon points="590.96,104.95 586.62,100.8 592.23,106.61 596.57,110.76" fill="#27a1c7"/>
<polygon points="691.73,120.21 687.38,123.8 692.99,120.15 697.33,116.56" fill="#3174cf"/>
<polygon points="600.91,114.05 596.57,110.76 602.17,115.71 606.52,119" fill="#2d88d4"/>
<polygon points="646.32,134.76 641.98,134.91 647.58,135.56 651.92,135.41" fill="#3e48af"/>
<polygon points="610.87,121.43 606.52,119 612.12,123.09 616.47,125.52" fill="#336ccc"/>
<polygon points="656.27,134.4 651.92,135.41 657.53,135.2 661.88,134.19" fill="#3e4ab0"/>
<polygon points="701.68,112.11 697.33,116.56 702.93,112.05 707.28,107.6" fill="#2b93d4"/>
<polygon points="666.22,132.32 661.88,134.19 667.48,133.12 671.83,131.25" fill="#3d4eb6"/>
<polygon points="620.82,127.09 616.47,125.52 622.08,128.75 626.42,130.32" fill="#395ac1"/>
<polygon points="711.62,102.29 707.28,107.6 712.88,102.23 717.23,96.92" fill="#29a9b3"/>
<polygon points="721.58,90.75 717.23,96.92 722.84,90.69 727.18,84.52" fill="#68ba80"/>
<polygon points="585.36,98.28 581.02,94.13 586.62,100.8 590.96,104.95" fill="#30aea7"/>
<polygon points="676.17,128.52 671.83,131.25 677.43,129.32 681.78,126.59" fill="#3959c0"/>
<polygon points="630.77,131.03 626.42,130.32 632.03,132.69 636.37,133.4" fill="#3c50b8"/>
<polygon points="686.12,123 681.78,126.59 687.38,123.8 691.73,120.21" fill="#336ecd"/>
<polygon points="595.31,108.24 590.96,104.95 596.57,110.76 600.91,114.05" fill="#289dca"/>
<polygon points="640.72,133.25 636.37,133.4 641.98,134.91 646.32,134.76" fill="#3d4db5"/>
<polygon points="605.26,116.48 600.91,114.05 606.52,119 610.87,121.43" fill="#2d87d3"/>
<polygon points="696.07,115.76 691.73,120.21 697.33,116.56 701.68,112.11" fill="#2c8cd4"/>
<polygon points="650.66,133.75 646.32,134.76 651.92,135.41 656.27,134.4" fill="#3d4db5"/>
<polygon points="615.21,123 610.87,121.43 616.47,125.52 620.82,127.09" fill="#336ecd"/>
<polygon points="660.62,132.53 656.27,134.4 661.88,134.19 666.22,132.32" fill="#3c50b8"/>
<polygon points="706.02,106.8 701.68,112.11 707.28,107.6 711.62,102.29" fill="#28a5bf"/>
<polygon points="715.97,96.12 711.62,102.29 717.23,96.92 721.58,90.75" fill="#45b592"/>
<polygon points="670.57,129.59 666.22,132.32 671.83,131.25 676.17,128.52" fill="#395ac1"/>
<polygon points="625.16,127.8 620.82,127.09 626.42,130.32 630.77,131.03" fill="#385dc4"/>
<polygon points="680.51,124.93 676.17,128.52 681.78,126.59 686.12,123" fill="#336ccc"/>
<polygon points="589.71,101.57 585.36,98.28 590.96,104.95 595.31,108.24" fill="#2bacac"/>
<polygon points="635.11,130.88 630.77,131.03 636.37,133.4 640.72,133.25" fill="#3a56be"/>
<polygon points="690.47,118.55 686.12,123 691.73,120.21 696.07,115.76" fill="#2d88d4"/>
<polygon points="599.65,110.67 595.31,108.24 600.91,114.05 605.26,116.48" fill="#289ccb"/>
<polygon points="645.06,132.24 640.72,133.25 646.32,134.76 650.66,133.75" fill="#3b54bc"/>
<polygon points="609.61,118.05 605.26,116.48 610.87,121.43 615.21,123" fill="#2d88d4"/>
<polygon points="700.42,110.45 696.07,115.76 701.68,112.11 706.02,106.8" fill="#27a1c7"/>
<polygon points="655.01,131.88 650.66,133.75 656.27,134.4 660.62,132.53" fill="#3a56be"/>
<polygon points="710.37,100.63 706.02,106.8 711.62,102.29 715.97,96.12" fill="#39b19e"/>
<polygon points="619.56,123.71 615.21,123 620.82,127.09 625.16,127.8" fill="#3174cf"/>
<polygon points="664.96,129.8 660.62,132.53 666.22,132.32 670.57,129.59" fill="#385dc4"/>
<polygon points="674.91,126 670.57,129.59 676.17,128.52 680.51,124.93" fill="#336ecd"/>
<polygon points="629.5,127.65 625.16,127.8 630.77,131.03 635.11,130.88" fill="#3564c9"/>
<polygon points="684.86,120.48 680.51,124.93 686.12,123 690.47,118.55" fill="#2d87d3"/>
<polygon points="639.46,129.87 635.11,130.88 640.72,133.25 645.06,132.24" fill="#375ec5"/>
<polygon points="594.05,104 589.71,101.57 595.31,108.24 599.65,110.67" fill="#29abae"/>
<polygon points="604,112.24 599.65,110.67 605.26,116.48 609.61,118.05" fill="#289dca"/>
<polygon points="694.81,113.24 690.47,118.55 696.07,115.76 700.42,110.45" fill="#289dca"/>
<polygon points="649.41,130.37 645.06,132.24 650.66,133.75 655.01,131.88" fill="#375ec5"/>
<polygon points="704.76,104.28 700.42,110.45 706.02,106.8 710.37,100.63" fill="#30aea7"/>
<polygon points="613.95,118.76 609.61,118.05 615.21,123 619.56,123.71" fill="#2c8cd4"/>
<polygon points="659.36,129.15 655.01,131.88 660.62,132.53 664.96,129.8" fill="#3564c9"/>
<polygon points="669.3,126.21 664.96,129.8 670.57,129.59 674.91,126" fill="#3174cf"/>
<polygon points="623.9,123.56 619.56,123.71 625.16,127.8 629.5,127.65" fill="#2f7ed2"/>
<polygon points="679.25,121.55 674.91,126 680.51,124.93 684.86,120.48" fill="#2d88d4"/>
<polygon points="633.85,126.64 629.5,127.65 635.11,130.88 639.46,129.87" fill="#3272ce"/>
<polygon points="598.4,105.57 594.05,104 599.65,110.67 604,112.24" fill="#2bacac"/>
<polygon points="689.21,115.17 684.86,120.48 690.47,118.55 694.81,113.24" fill="#289ccb"/>
<polygon points="643.8,128 639.46,129.87 645.06,132.24 649.41,130.37" fill="#336ecd"/>
<polygon points="699.16,107.07 694.81,113.24 700.42,110.45 704.76,104.28" fill="#2bacac"/>
<polygon points="608.35,112.95 604,112.24 609.61,118.05 613.95,118.76" fill="#27a1c7"/>
<polygon points="653.75,127.64 649.41,130.37 655.01,131.88 659.36,129.15" fill="#3272ce"/>
<polygon points="663.7,125.56 659.36,129.15 664.96,129.8 669.3,126.21" fill="#2f7ed2"/>
<polygon points="618.29,118.61 613.95,118.76 619.56,123.71 623.9,123.56" fill="#2b93d4"/>
<polygon points="673.65,121.76 669.3,126.21 674.91,126 679.25,121.55" fill="#2c8cd4"/>
<polygon points="628.25,122.55 623.9,123.56 629.5,127.65 633.85,126.64" fill="#2d88d4"/>
<polygon points="638.2,124.77 633.85,126.64 639.46,129.87 643.8,128" fill="#2e82d3"/>
<polygon points="683.6,116.24 679.25,121.55 684.86,120.48 689.21,115.17" fill="#289dca"/>
<polygon points="693.55,109 689.21,115.17 694.81,113.24 699.16,107.07" fill="#29abae"/>
<polygon points="602.74,106.28 598.4,105.57 604,112.24 608.35,112.95" fill="#30aea7"/>
<polygon points="648.15,125.27 643.8,128 649.41,130.37 653.75,127.64" fill="#2e82d3"/>
<polygon points="658.1,124.05 653.75,127.64 659.36,129.15 663.7,125.56" fill="#2d88d4"/>
<polygon points="612.69,112.8 608.35,112.95 613.95,118.76 618.29,118.61" fill="#28a5bf"/>
<polygon points="622.64,117.6 618.29,118.61 623.9,123.56 628.25,122.55" fill="#299bcc"/>
<polygon points="668.04,121.11 663.7,125.56 669.3,126.21 673.65,121.76" fill="#2b93d4"/>
<polygon points="678,116.45 673.65,121.76 679.25,121.55 683.6,116.24" fill="#27a1c7"/>
<polygon points="632.59,120.68 628.25,122.55 633.85,126.64 638.2,124.77" fill="#2a94d3"/>
<polygon points="687.95,110.07 683.6,116.24 689.21,115.17 693.55,109" fill="#2bacac"/>
<polygon points="642.54,122.04 638.2,124.77 643.8,128 648.15,125.27" fill="#2b92d5"/>
<polygon points="652.49,121.68 648.15,125.27 653.75,127.64 658.1,124.05" fill="#2a94d3"/>
<polygon points="607.09,106.13 602.74,106.28 608.35,112.95 612.69,112.8" fill="#39b19e"/>
<polygon points="662.44,119.6 658.1,124.05 663.7,125.56 668.04,121.11" fill="#299bcc"/>
<polygon points="617.03,111.79 612.69,112.8 618.29,118.61 622.64,117.6" fill="#29a9b3"/>
<polygon points="626.99,115.73 622.64,117.6 628.25,122.55 632.59,120.68" fill="#27a4c1"/>
<polygon points="672.39,115.8 668.04,121.11 673.65,121.76 678,116.45" fill="#28a5bf"/>
<polygon points="682.34,110.28 678,116.45 683.6,116.24 687.95,110.07" fill="#30aea7"/>
<polygon points="636.94,117.95 632.59,120.68 638.2,124.77 642.54,122.04" fill="#27a1c7"/>
<polygon points="646.88,118.45 642.54,122.04 648.15,125.27 652.49,121.68" fill="#27a1c7"/>
<polygon points="656.84,117.23 652.49,121.68 658.1,124.05 662.44,119.6" fill="#27a4c1"/>
<polygon points="611.43,105.12 607.09,106.13 612.69,112.8 617.03,111.79" fill="#45b592"/>
<polygon points="621.38,109.92 617.03,111.79 622.64,117.6 626.99,115.73" fill="#34afa4"/>
<polygon points="666.79,114.29 662.44,119.6 668.04,121.11 672.39,115.8" fill="#29a9b3"/>
<polygon points="676.74,109.63 672.39,115.8 678,116.45 682.34,110.28" fill="#39b19e"/>
<polygon points="631.33,113 626.99,115.73 632.59,120.68 636.94,117.95" fill="#29abae"/>
<polygon points="641.28,114.36 636.94,117.95 642.54,122.04 646.88,118.45" fill="#29aab1"/>
<polygon points="651.23,114 646.88,118.45 652.49,121.68 656.84,117.23" fill="#29abae"/>
<polygon points="615.78,103.25 611.43,105.12 617.03,111.79 621.38,109.92" fill="#68ba80"/>
<polygon points="661.18,111.92 656.84,117.23 662.44,119.6 666.79,114.29" fill="#34afa4"/>
<polygon points="671.13,108.12 666.79,114.29 672.39,115.8 676.74,109.63" fill="#45b592"/>
<polygon points="625.73,107.19 621.38,109.92 626.99,115.73 631.33,113" fill="#49b690"/>
<polygon points="635.67,109.41 631.33,113 636.94,117.95 641.28,114.36" fill="#40b397"/>
<polygon points="645.62,109.91 641.28,114.36 646.88,118.45 651.23,114" fill="#40b397"/>
<polygon points="655.58,108.69 651.23,114 656.84,117.23 661.18,111.92" fill="#49b690"/>
<polygon points="665.53,105.75 661.18,111.92 666.79,114.29 671.13,108.12" fill="#68ba80"/>
<polygon points="620.12,100.52 615.78,103.25 621.38,109.92 625.73,107.19" fill="#a0c060"/>
<polygon points="630.07,103.6 625.73,107.19 631.33,113 635.67,109.41" fill="#81bd71"/>
<polygon points="640.02,104.96 635.67,109.41 641.28,114.36 645.62,109.91" fill="#77bc77"/>
<polygon points="649.97,104.6 645.62,109.91 651.23,114 655.58,108.69" fill="#81bd71"/>
<polygon points="659.92,102.52 655.58,108.69 661.18,111.92 665.53,105.75" fill="#a0c060"/>
<polygon points="624.47,96.93 620.12,100.52 625.73,107.19 630.07,103.6" fill="#d8c044"/>
<polygon points="634.41,99.15 630.07,103.6 635.67,109.41 640.02,104.96" fill="#c7c04d"/>
<polygon points="644.37,99.65 640.02,104.96 645.62,109.91 649.97,104.6" fill="#c7c04d"/>
<polygon points="654.32,98.43 649.97,104.6 655.58,108.69 659.92,102.52" fill="#d8c044"/>
<polygon points="628.81,92.48 624.47,96.93 630.07,103.6 634.41,99.15" fill="#f5b940"/>
<polygon points="638.76,93.84 634.41,99.15 640.02,104.96 644.37,99.65" fill="#f1ba41"/>
<polygon points="648.71,93.48 644.37,99.65 649.97,104.6 654.32,98.43" fill="#f5b940"/>
<polygon points="633.16,87.17 628.81,92.48 634.41,99.15 638.76,93.84" fill="#f8c63e"/>
<polygon points="643.11,87.67 638.76,93.84 644.37,99.65 648.71,93.48" fill="#f8c63e"/>
<polygon points="637.5,81 633.16,87.17 638.76,93.84 643.11,87.67" fill="#f2e43c"/>
</g>
<g stroke="#262626" stroke-width="1" fill="none">
<polyline points="550.6,41 550.6,127 637.5,167 749.6,137"/>
<line x1="550.6" y1="127" x2="547.1" y2="127.9"/>
<line x1="550.6" y1="84" x2="547.1" y2="84.9"/>
<line x1="550.6" y1="41" x2="547.1" y2="41.9"/>
<line x1="550.6" y1="127" x2="547.8" y2="127.7"/>
<line x1="594.05" y1="147" x2="591.25" y2="147.7"/>
<line x1="637.5" y1="167" x2="634.7" y2="167.7"/>
<line x1="637.5" y1="167" x2="640" y2="168.1"/>
<line x1="693.55" y1="152" x2="696.05" y2="153.1"/>
<line x1="749.6" y1="137" x2="752.1" y2="138.1"/>
</g>
<text x="545.8" y="47.6" text-anchor="end" font-size="23.5" fill="#231815">2</text>
<text x="545.8" y="91.7" text-anchor="end" font-size="23.5" fill="#231815">1</text>
<text x="545.8" y="133.6" text-anchor="end" font-size="23.5" fill="#231815">0</text>
<text x="540.2" y="149.3" text-anchor="end" font-size="21" fill="#231815">1</text>
<text x="585.3" y="169" text-anchor="end" font-size="21" fill="#231815">0</text>
<text x="626.6" y="188.8" text-anchor="end" font-size="21" fill="#231815">-1</text>
<text x="645" y="190" font-size="21" fill="#231815">-1</text>
<text x="701.5" y="174.7" font-size="21" fill="#231815">0</text>
<text x="758.5" y="160" font-size="21" fill="#231815">1</text>
<text x="546.5" y="178.3" font-size="23" font-style="italic" fill="#231815">x<tspan font-size="15" font-style="normal" dy="5.5">1</tspan></text>
<text x="716.3" y="190" font-size="23" font-style="italic" fill="#231815">x<tspan font-size="15.5" font-style="normal" dx="1" dy="5.5">2</tspan></text>
<text transform="translate(518,125.5) rotate(-90)" font-size="24" fill="#231815"><tspan font-style="italic">f</tspan>(<tspan font-style="italic">x</tspan><tspan font-size="15.5" dy="5.5">1</tspan><tspan dy="-5.5">, </tspan><tspan font-style="italic" dx="2">x</tspan><tspan font-size="15.5" dy="5.5">2</tspan><tspan dy="-5.5">)</tspan></text>
<text x="430.4" y="249.8" font-size="25" font-weight="bold" fill="#231815">C</text>
<rect x="541.3" y="244.3" width="261.5" height="62.2" fill="#fff" stroke="none"/>
<g stroke="#e6e6e6" stroke-width="0.8">
<line x1="605" y1="244.3" x2="605" y2="306.5"/>
<line x1="668.05" y1="244.3" x2="668.05" y2="306.5"/>
<line x1="731.1" y1="244.3" x2="731.1" y2="306.5"/>
<line x1="794.15" y1="244.3" x2="794.15" y2="306.5"/>
<line x1="541.3" y1="249.8" x2="802.8" y2="249.8"/>
<line x1="541.3" y1="278.1" x2="802.8" y2="278.1"/>
</g>
<rect x="541.3" y="244.3" width="261.5" height="62.2" fill="none" stroke="#757575" stroke-width="0.8"/>
<g fill="#1e5674">
<rect x="556.52" y="246.43" width="4" height="4"/>
<rect x="542.06" y="251.84" width="4" height="4"/>
<rect x="543.06" y="257.87" width="4" height="4"/>
<rect x="547.09" y="260.89" width="4" height="4"/>
<rect x="545.58" y="263.79" width="4" height="4"/>
<rect x="556.65" y="265.92" width="4" height="4"/>
<rect x="550.99" y="268.19" width="4" height="4"/>
<rect x="555.64" y="270.08" width="4" height="4"/>
<rect x="546.58" y="270.96" width="4" height="4"/>
<rect x="551.87" y="272.21" width="4" height="4"/>
<rect x="552.5" y="275.11" width="4" height="4"/>
<rect x="557.78" y="275.74" width="4" height="4"/>
<rect x="544.32" y="278.5" width="4" height="4"/>
<rect x="551.87" y="278.88" width="4" height="4"/>
<rect x="544.95" y="281.4" width="4" height="4"/>
<rect x="559.42" y="282.03" width="4" height="4"/>
<rect x="560.04" y="284.29" width="4" height="4"/>
<rect x="549.35" y="283.91" width="4" height="4"/>
<rect x="543.69" y="285.8" width="4" height="4"/>
<rect x="553.75" y="286.43" width="4" height="4"/>
<rect x="556.9" y="287.06" width="4" height="4"/>
<rect x="546.84" y="287.69" width="4" height="4"/>
<rect x="550.61" y="288.31" width="4" height="4"/>
<rect x="543.69" y="288.31" width="4" height="4"/>
<rect x="553.13" y="289.57" width="4" height="4"/>
<rect x="548.72" y="290.83" width="4" height="4"/>
<rect x="538.66" y="294.6" width="4" height="4"/>
<rect x="544.95" y="293.35" width="4" height="4"/>
<rect x="549.35" y="293.35" width="4" height="4"/>
<rect x="555.01" y="293.35" width="4" height="4"/>
<rect x="559.42" y="293.97" width="4" height="4"/>
<rect x="545.58" y="296.49" width="4" height="4"/>
<rect x="550.61" y="296.49" width="4" height="4"/>
<rect x="555.64" y="296.49" width="4" height="4"/>
<rect x="559.42" y="297.12" width="4" height="4"/>
<rect x="542.43" y="298.38" width="4" height="4"/>
<rect x="547.47" y="299.64" width="4" height="4"/>
<rect x="551.87" y="299.64" width="4" height="4"/>
<rect x="556.27" y="300.26" width="4" height="4"/>
<rect x="540.55" y="302.15" width="4" height="4"/>
<rect x="544.95" y="302.15" width="4" height="4"/>
<rect x="549.35" y="302.15" width="4" height="4"/>
<rect x="553.75" y="302.78" width="4" height="4"/>
<rect x="541.81" y="304.04" width="4" height="4"/>
<rect x="556.9" y="303.41" width="4" height="4"/>
<rect x="560.11" y="304.4" width="243.19" height="4.0"/>
</g>
<text x="537.5" y="256.6" text-anchor="end" font-size="23" fill="#231815">0.50</text>
<text x="537.5" y="284.9" text-anchor="end" font-size="23" fill="#231815">0.25</text>
<text x="537.5" y="312.8" text-anchor="end" font-size="23" fill="#231815">0.00</text>
<text x="541.95" y="327" text-anchor="middle" font-size="23" fill="#231815">0</text>
<text x="605" y="327" text-anchor="middle" font-size="23" fill="#231815">250</text>
<text x="668.05" y="327" text-anchor="middle" font-size="23" fill="#231815">500</text>
<text x="731.1" y="327" text-anchor="middle" font-size="23" fill="#231815">750</text>
<text x="794.15" y="327" text-anchor="middle" font-size="23" fill="#231815">1000</text>
<text transform="translate(477,273.8) rotate(-90)" text-anchor="middle" font-size="23" font-style="italic" fill="#231815">x<tspan font-size="15" font-style="normal" dy="5">1</tspan></text>
<rect x="541.3" y="347.5" width="261.5" height="62.3" fill="#fff" stroke="none"/>
<g stroke="#e6e6e6" stroke-width="0.8">
<line x1="605" y1="347.5" x2="605" y2="409.8"/>
<line x1="668.05" y1="347.5" x2="668.05" y2="409.8"/>
<line x1="731.1" y1="347.5" x2="731.1" y2="409.8"/>
<line x1="794.15" y1="347.5" x2="794.15" y2="409.8"/>
<line x1="541.3" y1="353.2" x2="802.8" y2="353.2"/>
<line x1="541.3" y1="381.3" x2="802.8" y2="381.3"/>
</g>
<rect x="541.3" y="347.5" width="261.5" height="62.3" fill="none" stroke="#757575" stroke-width="0.8"/>
<g fill="#1f6f97">
<rect x="540.05" y="407.4" width="263.25" height="4.2"/>
<rect x="561.13" y="401.19" width="4" height="4"/>
<rect x="561.89" y="402.75" width="4" height="4"/>
<rect x="562.14" y="403.87" width="4" height="4"/>
<rect x="562.4" y="389.45" width="4" height="4"/>
<rect x="562.9" y="392.29" width="4" height="4"/>
<rect x="563.15" y="402.81" width="4" height="4"/>
<rect x="563.4" y="403.81" width="4" height="4"/>
<rect x="563.66" y="401.14" width="4" height="4"/>
<rect x="563.91" y="403.58" width="4" height="4"/>
<rect x="564.16" y="395.86" width="4" height="4"/>
<rect x="564.41" y="393.74" width="4" height="4"/>
<rect x="564.67" y="395.97" width="4" height="4"/>
<rect x="564.92" y="394.4" width="4" height="4"/>
<rect x="565.17" y="406.74" width="4" height="4"/>
<rect x="565.42" y="400.24" width="4" height="4"/>
<rect x="565.93" y="395.98" width="4" height="4"/>
<rect x="566.18" y="386.1" width="4" height="4"/>
<rect x="566.43" y="397.17" width="4" height="4"/>
<rect x="566.68" y="388.58" width="4" height="4"/>
<rect x="567.19" y="391.73" width="4" height="4"/>
<rect x="567.44" y="389.58" width="4" height="4"/>
<rect x="568.7" y="402.5" width="4" height="4"/>
<rect x="568.95" y="404.31" width="4" height="4"/>
<rect x="569.21" y="384.2" width="4" height="4"/>
<rect x="569.46" y="405.38" width="4" height="4"/>
<rect x="569.71" y="392.22" width="4" height="4"/>
<rect x="569.96" y="406.09" width="4" height="4"/>
<rect x="570.21" y="399.12" width="4" height="4"/>
<rect x="570.47" y="405.32" width="4" height="4"/>
<rect x="570.72" y="394.79" width="4" height="4"/>
<rect x="570.97" y="394.94" width="4" height="4"/>
<rect x="571.22" y="403.02" width="4" height="4"/>
<rect x="571.48" y="389.5" width="4" height="4"/>
<rect x="572.23" y="406.49" width="4" height="4"/>
<rect x="572.99" y="407.26" width="4" height="4"/>
<rect x="573.24" y="392.24" width="4" height="4"/>
<rect x="573.49" y="405.35" width="4" height="4"/>
<rect x="573.74" y="401.82" width="4" height="4"/>
<rect x="574" y="400.91" width="4" height="4"/>
<rect x="574.25" y="405.91" width="4" height="4"/>
<rect x="574.75" y="404.43" width="4" height="4"/>
<rect x="575.01" y="407.25" width="4" height="4"/>
<rect x="575.26" y="393.05" width="4" height="4"/>
<rect x="575.51" y="398.07" width="4" height="4"/>
<rect x="575.76" y="404.41" width="4" height="4"/>
<rect x="576.01" y="399.52" width="4" height="4"/>
<rect x="576.27" y="384.33" width="4" height="4"/>
<rect x="576.52" y="385.6" width="4" height="4"/>
<rect x="576.77" y="405.4" width="4" height="4"/>
<rect x="577.28" y="403.51" width="4" height="4"/>
<rect x="577.53" y="383.38" width="4" height="4"/>
<rect x="577.78" y="389.81" width="4" height="4"/>
<rect x="578.03" y="406.29" width="4" height="4"/>
<rect x="578.28" y="402.34" width="4" height="4"/>
<rect x="578.54" y="386.57" width="4" height="4"/>
<rect x="579.04" y="393.87" width="4" height="4"/>
<rect x="579.29" y="399.97" width="4" height="4"/>
<rect x="579.55" y="393.68" width="4" height="4"/>
<rect x="579.8" y="389.4" width="4" height="4"/>
<rect x="580.05" y="392" width="4" height="4"/>
<rect x="580.55" y="392.27" width="4" height="4"/>
<rect x="580.81" y="386.52" width="4" height="4"/>
<rect x="581.06" y="400.45" width="4" height="4"/>
<rect x="581.31" y="403.75" width="4" height="4"/>
<rect x="581.56" y="397.39" width="4" height="4"/>
<rect x="581.82" y="391.54" width="4" height="4"/>
<rect x="582.07" y="406.05" width="4" height="4"/>
<rect x="582.32" y="397.54" width="4" height="4"/>
<rect x="582.57" y="405.41" width="4" height="4"/>
<rect x="582.82" y="392.63" width="4" height="4"/>
<rect x="583.08" y="396.71" width="4" height="4"/>
<rect x="583.33" y="401.59" width="4" height="4"/>
<rect x="583.83" y="406.43" width="4" height="4"/>
<rect x="584.09" y="396.15" width="4" height="4"/>
<rect x="584.34" y="404.28" width="4" height="4"/>
<rect x="584.84" y="398.98" width="4" height="4"/>
<rect x="585.09" y="396.1" width="4" height="4"/>
<rect x="585.35" y="397.3" width="4" height="4"/>
<rect x="585.6" y="396.6" width="4" height="4"/>
<rect x="585.85" y="396.39" width="4" height="4"/>
<rect x="586.1" y="394.71" width="4" height="4"/>
<rect x="586.35" y="390.99" width="4" height="4"/>
<rect x="586.61" y="393.28" width="4" height="4"/>
<rect x="587.62" y="392.71" width="4" height="4"/>
<rect x="587.87" y="403.69" width="4" height="4"/>
<rect x="588.12" y="401.96" width="4" height="4"/>
<rect x="588.37" y="405.16" width="4" height="4"/>
<rect x="588.62" y="393.36" width="4" height="4"/>
<rect x="588.88" y="404.5" width="4" height="4"/>
<rect x="589.38" y="407.29" width="4" height="4"/>
<rect x="589.63" y="401.6" width="4" height="4"/>
<rect x="589.89" y="404.52" width="4" height="4"/>
<rect x="590.14" y="402.97" width="4" height="4"/>
<rect x="590.89" y="400.47" width="4" height="4"/>
<rect x="591.15" y="393.5" width="4" height="4"/>
<rect x="591.65" y="386.04" width="4" height="4"/>
<rect x="592.16" y="401.05" width="4" height="4"/>
<rect x="592.41" y="384.9" width="4" height="4"/>
<rect x="592.66" y="407.03" width="4" height="4"/>
<rect x="592.91" y="390.1" width="4" height="4"/>
<rect x="593.16" y="399.07" width="4" height="4"/>
<rect x="593.42" y="406.06" width="4" height="4"/>
<rect x="593.92" y="405.65" width="4" height="4"/>
<rect x="594.17" y="405.77" width="4" height="4"/>
<rect x="595.18" y="399.86" width="4" height="4"/>
<rect x="595.43" y="400.7" width="4" height="4"/>
<rect x="595.69" y="388.35" width="4" height="4"/>
<rect x="595.94" y="388.22" width="4" height="4"/>
<rect x="596.19" y="398.31" width="4" height="4"/>
<rect x="596.44" y="386.76" width="4" height="4"/>
<rect x="596.7" y="401.23" width="4" height="4"/>
<rect x="597.2" y="400.13" width="4" height="4"/>
<rect x="597.45" y="402.51" width="4" height="4"/>
<rect x="597.7" y="399.33" width="4" height="4"/>
<rect x="597.96" y="406.51" width="4" height="4"/>
<rect x="598.21" y="392.05" width="4" height="4"/>
<rect x="598.46" y="391.16" width="4" height="4"/>
<rect x="598.71" y="389.9" width="4" height="4"/>
<rect x="598.96" y="404.73" width="4" height="4"/>
<rect x="599.22" y="396.67" width="4" height="4"/>
<rect x="599.47" y="406.9" width="4" height="4"/>
<rect x="599.97" y="406.09" width="4" height="4"/>
<rect x="600.23" y="394.19" width="4" height="4"/>
<rect x="600.48" y="392.89" width="4" height="4"/>
<rect x="600.73" y="391.82" width="4" height="4"/>
<rect x="600.98" y="403.79" width="4" height="4"/>
<rect x="601.23" y="402.39" width="4" height="4"/>
<rect x="601.49" y="393.56" width="4" height="4"/>
<rect x="601.74" y="404.57" width="4" height="4"/>
<rect x="601.99" y="384.62" width="4" height="4"/>
<rect x="602.24" y="394.87" width="4" height="4"/>
<rect x="602.5" y="401.46" width="4" height="4"/>
<rect x="602.75" y="406.81" width="4" height="4"/>
<rect x="603" y="386.86" width="4" height="4"/>
<rect x="603.25" y="396.83" width="4" height="4"/>
<rect x="603.5" y="403.19" width="4" height="4"/>
<rect x="603.76" y="395.11" width="4" height="4"/>
<rect x="604.01" y="405.98" width="4" height="4"/>
<rect x="604.26" y="403.3" width="4" height="4"/>
<rect x="604.51" y="401.92" width="4" height="4"/>
<rect x="604.77" y="396.93" width="4" height="4"/>
<rect x="605.02" y="395.54" width="4" height="4"/>
<rect x="605.52" y="402.55" width="4" height="4"/>
<rect x="605.77" y="395.26" width="4" height="4"/>
<rect x="606.03" y="406.24" width="4" height="4"/>
<rect x="606.28" y="394.56" width="4" height="4"/>
<rect x="606.53" y="392.48" width="4" height="4"/>
<rect x="606.78" y="394.82" width="4" height="4"/>
<rect x="607.04" y="398.49" width="4" height="4"/>
<rect x="607.29" y="390.32" width="4" height="4"/>
<rect x="607.54" y="388.71" width="4" height="4"/>
<rect x="607.79" y="402.48" width="4" height="4"/>
<rect x="608.04" y="398.63" width="4" height="4"/>
<rect x="608.3" y="402.53" width="4" height="4"/>
<rect x="608.55" y="403.39" width="4" height="4"/>
<rect x="608.8" y="403.66" width="4" height="4"/>
<rect x="609.05" y="396.29" width="4" height="4"/>
<rect x="609.31" y="397.39" width="4" height="4"/>
<rect x="609.56" y="402.3" width="4" height="4"/>
<rect x="609.81" y="390.45" width="4" height="4"/>
<rect x="610.06" y="391.59" width="4" height="4"/>
<rect x="610.31" y="390.25" width="4" height="4"/>
<rect x="610.57" y="406.93" width="4" height="4"/>
<rect x="610.82" y="398" width="4" height="4"/>
<rect x="611.07" y="401.63" width="4" height="4"/>
<rect x="611.32" y="400.83" width="4" height="4"/>
<rect x="611.57" y="391.34" width="4" height="4"/>
<rect x="611.83" y="393.05" width="4" height="4"/>
<rect x="612.08" y="401.86" width="4" height="4"/>
<rect x="612.33" y="391.06" width="4" height="4"/>
<rect x="612.58" y="403.57" width="4" height="4"/>
<rect x="612.84" y="388.32" width="4" height="4"/>
<rect x="613.09" y="400.51" width="4" height="4"/>
<rect x="613.34" y="402.14" width="4" height="4"/>
<rect x="613.59" y="405.46" width="4" height="4"/>
<rect x="613.84" y="402.54" width="4" height="4"/>
<rect x="614.1" y="389.52" width="4" height="4"/>
<rect x="614.35" y="402.32" width="4" height="4"/>
<rect x="614.6" y="403.77" width="4" height="4"/>
<rect x="614.85" y="389.13" width="4" height="4"/>
<rect x="615.11" y="402.96" width="4" height="4"/>
<rect x="615.36" y="404.63" width="4" height="4"/>
<rect x="615.61" y="404.84" width="4" height="4"/>
<rect x="615.86" y="393.41" width="4" height="4"/>
<rect x="616.11" y="393.02" width="4" height="4"/>
<rect x="616.37" y="394.32" width="4" height="4"/>
<rect x="616.62" y="406.46" width="4" height="4"/>
<rect x="616.87" y="402.86" width="4" height="4"/>
<rect x="617.12" y="401.71" width="4" height="4"/>
<rect x="617.38" y="392.38" width="4" height="4"/>
<rect x="617.63" y="403.72" width="4" height="4"/>
<rect x="617.88" y="396.75" width="4" height="4"/>
<rect x="618.13" y="404.2" width="4" height="4"/>
<rect x="618.38" y="403.43" width="4" height="4"/>
<rect x="618.64" y="402.43" width="4" height="4"/>
<rect x="618.89" y="403.2" width="4" height="4"/>
<rect x="619.14" y="402.81" width="4" height="4"/>
<rect x="619.39" y="403.72" width="4" height="4"/>
<rect x="619.65" y="400.87" width="4" height="4"/>
<rect x="619.9" y="402.83" width="4" height="4"/>
<rect x="620.15" y="396.52" width="4" height="4"/>
<rect x="620.4" y="403.95" width="4" height="4"/>
<rect x="620.65" y="395.57" width="4" height="4"/>
<rect x="620.91" y="400.2" width="4" height="4"/>
<rect x="621.16" y="406.21" width="4" height="4"/>
<rect x="621.41" y="388.91" width="4" height="4"/>
<rect x="621.66" y="397.78" width="4" height="4"/>
<rect x="621.92" y="393.61" width="4" height="4"/>
<rect x="622.17" y="403.99" width="4" height="4"/>
<rect x="622.42" y="399.76" width="4" height="4"/>
<rect x="622.67" y="389.17" width="4" height="4"/>
<rect x="622.92" y="403.52" width="4" height="4"/>
<rect x="623.18" y="404.02" width="4" height="4"/>
<rect x="623.43" y="394.76" width="4" height="4"/>
<rect x="623.68" y="405.48" width="4" height="4"/>
<rect x="623.93" y="399.92" width="4" height="4"/>
<rect x="624.18" y="404.16" width="4" height="4"/>
<rect x="624.44" y="402.9" width="4" height="4"/>
<rect x="624.69" y="405.32" width="4" height="4"/>
<rect x="624.94" y="397.42" width="4" height="4"/>
<rect x="625.19" y="398.58" width="4" height="4"/>
<rect x="625.45" y="404.71" width="4" height="4"/>
<rect x="625.7" y="397.63" width="4" height="4"/>
<rect x="625.95" y="396.86" width="4" height="4"/>
<rect x="626.2" y="392.45" width="4" height="4"/>
<rect x="626.45" y="389.82" width="4" height="4"/>
<rect x="626.71" y="395.92" width="4" height="4"/>
<rect x="626.96" y="395.24" width="4" height="4"/>
<rect x="627.21" y="394.99" width="4" height="4"/>
<rect x="627.46" y="406.06" width="4" height="4"/>
<rect x="627.72" y="396.26" width="4" height="4"/>
<rect x="627.97" y="403.13" width="4" height="4"/>
<rect x="628.22" y="394.68" width="4" height="4"/>
<rect x="628.47" y="389.08" width="4" height="4"/>
<rect x="628.72" y="396.04" width="4" height="4"/>
<rect x="628.98" y="405.33" width="4" height="4"/>
<rect x="629.23" y="389.04" width="4" height="4"/>
<rect x="629.48" y="396.11" width="4" height="4"/>
<rect x="629.73" y="406.98" width="4" height="4"/>
<rect x="629.99" y="394.51" width="4" height="4"/>
<rect x="630.24" y="402.48" width="4" height="4"/>
<rect x="630.49" y="395.48" width="4" height="4"/>
<rect x="630.74" y="397.05" width="4" height="4"/>
<rect x="630.99" y="398.67" width="4" height="4"/>
<rect x="631.25" y="395.48" width="4" height="4"/>
<rect x="631.5" y="404.76" width="4" height="4"/>
<rect x="631.75" y="398.56" width="4" height="4"/>
<rect x="632" y="405.3" width="4" height="4"/>
<rect x="632.26" y="394.08" width="4" height="4"/>
<rect x="632.51" y="396.72" width="4" height="4"/>
<rect x="632.76" y="405.39" width="4" height="4"/>
<rect x="633.01" y="396.44" width="4" height="4"/>
<rect x="633.26" y="395.86" width="4" height="4"/>
<rect x="633.52" y="404.12" width="4" height="4"/>
<rect x="633.77" y="397.23" width="4" height="4"/>
<rect x="634.02" y="396.11" width="4" height="4"/>
<rect x="634.27" y="397.13" width="4" height="4"/>
<rect x="634.53" y="399.64" width="4" height="4"/>
<rect x="634.78" y="403.32" width="4" height="4"/>
<rect x="635.03" y="402.41" width="4" height="4"/>
<rect x="635.28" y="397.1" width="4" height="4"/>
<rect x="635.53" y="394.65" width="4" height="4"/>
<rect x="635.79" y="398.08" width="4" height="4"/>
<rect x="636.04" y="405.03" width="4" height="4"/>
<rect x="636.29" y="396.01" width="4" height="4"/>
<rect x="636.54" y="395.78" width="4" height="4"/>
<rect x="636.79" y="397.03" width="4" height="4"/>
<rect x="637.05" y="402.64" width="4" height="4"/>
<rect x="637.3" y="394.19" width="4" height="4"/>
<rect x="637.55" y="395.76" width="4" height="4"/>
<rect x="637.8" y="399.65" width="4" height="4"/>
<rect x="638.06" y="398.5" width="4" height="4"/>
<rect x="638.31" y="404.02" width="4" height="4"/>
<rect x="638.56" y="399.17" width="4" height="4"/>
<rect x="638.81" y="394.42" width="4" height="4"/>
<rect x="639.06" y="395.9" width="4" height="4"/>
<rect x="639.32" y="399.38" width="4" height="4"/>
<rect x="639.57" y="393.6" width="4" height="4"/>
<rect x="639.82" y="395.48" width="4" height="4"/>
<rect x="640.07" y="403.3" width="4" height="4"/>
<rect x="640.33" y="397.62" width="4" height="4"/>
<rect x="640.58" y="404.42" width="4" height="4"/>
<rect x="640.83" y="404.34" width="4" height="4"/>
<rect x="641.08" y="396.68" width="4" height="4"/>
<rect x="641.33" y="403.74" width="4" height="4"/>
<rect x="641.59" y="405.22" width="4" height="4"/>
<rect x="641.84" y="402.93" width="4" height="4"/>
<rect x="642.09" y="399.29" width="4" height="4"/>
<rect x="642.34" y="402.85" width="4" height="4"/>
<rect x="642.6" y="396.83" width="4" height="4"/>
<rect x="642.85" y="399.94" width="4" height="4"/>
<rect x="643.1" y="396.14" width="4" height="4"/>
<rect x="643.35" y="403.73" width="4" height="4"/>
<rect x="643.6" y="405.25" width="4" height="4"/>
<rect x="643.86" y="403.93" width="4" height="4"/>
<rect x="644.11" y="394.84" width="4" height="4"/>
<rect x="644.36" y="403" width="4" height="4"/>
<rect x="644.61" y="403.22" width="4" height="4"/>
<rect x="644.87" y="395.51" width="4" height="4"/>
<rect x="645.12" y="403.38" width="4" height="4"/>
<rect x="645.37" y="392.53" width="4" height="4"/>
<rect x="645.62" y="403.67" width="4" height="4"/>
<rect x="645.87" y="395.03" width="4" height="4"/>
<rect x="646.13" y="395.22" width="4" height="4"/>
<rect x="646.38" y="404.02" width="4" height="4"/>
<rect x="646.63" y="395.07" width="4" height="4"/>
<rect x="646.88" y="404.07" width="4" height="4"/>
<rect x="647.13" y="404.7" width="4" height="4"/>
<rect x="647.39" y="402.12" width="4" height="4"/>
<rect x="647.64" y="393.11" width="4" height="4"/>
<rect x="647.89" y="404.39" width="4" height="4"/>
<rect x="648.14" y="393.22" width="4" height="4"/>
<rect x="648.4" y="394.97" width="4" height="4"/>
<rect x="648.65" y="402.84" width="4" height="4"/>
<rect x="648.9" y="403.77" width="4" height="4"/>
<rect x="649.15" y="402.56" width="4" height="4"/>
<rect x="649.4" y="394.42" width="4" height="4"/>
<rect x="649.66" y="401.74" width="4" height="4"/>
<rect x="649.91" y="402.56" width="4" height="4"/>
<rect x="650.16" y="402.77" width="4" height="4"/>
<rect x="650.41" y="403.17" width="4" height="4"/>
<rect x="650.67" y="394.68" width="4" height="4"/>
<rect x="650.92" y="392.83" width="4" height="4"/>
<rect x="651.17" y="401.18" width="4" height="4"/>
<rect x="651.42" y="404.69" width="4" height="4"/>
<rect x="651.67" y="391.96" width="4" height="4"/>
<rect x="651.93" y="393.52" width="4" height="4"/>
<rect x="652.18" y="397.87" width="4" height="4"/>
<rect x="652.43" y="403.96" width="4" height="4"/>
<rect x="652.68" y="394.79" width="4" height="4"/>
<rect x="652.94" y="393.64" width="4" height="4"/>
<rect x="653.19" y="402.9" width="4" height="4"/>
<rect x="653.44" y="403.54" width="4" height="4"/>
<rect x="653.69" y="393.63" width="4" height="4"/>
<rect x="653.94" y="403.32" width="4" height="4"/>
<rect x="654.2" y="392.53" width="4" height="4"/>
<rect x="654.45" y="403.98" width="4" height="4"/>
<rect x="654.7" y="393.88" width="4" height="4"/>
<rect x="654.95" y="395.82" width="4" height="4"/>
<rect x="655.21" y="394.35" width="4" height="4"/>
<rect x="655.46" y="394.17" width="4" height="4"/>
<rect x="655.71" y="395.12" width="4" height="4"/>
<rect x="655.96" y="392.27" width="4" height="4"/>
<rect x="656.21" y="404.09" width="4" height="4"/>
<rect x="656.47" y="396.25" width="4" height="4"/>
<rect x="656.72" y="403.02" width="4" height="4"/>
<rect x="656.97" y="392.68" width="4" height="4"/>
<rect x="657.22" y="391.09" width="4" height="4"/>
<rect x="657.48" y="390.17" width="4" height="4"/>
<rect x="657.73" y="392.78" width="4" height="4"/>
<rect x="657.98" y="404.89" width="4" height="4"/>
<rect x="658.23" y="393.32" width="4" height="4"/>
<rect x="658.48" y="403.99" width="4" height="4"/>
<rect x="658.74" y="403.82" width="4" height="4"/>
<rect x="658.99" y="404.39" width="4" height="4"/>
<rect x="659.24" y="394.36" width="4" height="4"/>
<rect x="659.49" y="393.51" width="4" height="4"/>
<rect x="659.75" y="403.88" width="4" height="4"/>
<rect x="660" y="393.85" width="4" height="4"/>
<rect x="660.25" y="403.73" width="4" height="4"/>
<rect x="660.5" y="393.75" width="4" height="4"/>
<rect x="660.75" y="403.35" width="4" height="4"/>
<rect x="661.01" y="393.85" width="4" height="4"/>
<rect x="661.26" y="405.9" width="4" height="4"/>
<rect x="661.51" y="403.18" width="4" height="4"/>
<rect x="661.76" y="403.62" width="4" height="4"/>
<rect x="662.01" y="391.35" width="4" height="4"/>
<rect x="662.27" y="392.03" width="4" height="4"/>
<rect x="662.52" y="396.18" width="4" height="4"/>
<rect x="662.77" y="395.32" width="4" height="4"/>
<rect x="663.02" y="392.71" width="4" height="4"/>
<rect x="663.28" y="393.82" width="4" height="4"/>
<rect x="663.53" y="403.15" width="4" height="4"/>
<rect x="663.78" y="396.4" width="4" height="4"/>
<rect x="664.03" y="395" width="4" height="4"/>
<rect x="664.28" y="403.74" width="4" height="4"/>
<rect x="664.54" y="403.83" width="4" height="4"/>
<rect x="664.79" y="404.99" width="4" height="4"/>
<rect x="665.04" y="403.79" width="4" height="4"/>
<rect x="665.29" y="395.17" width="4" height="4"/>
<rect x="665.55" y="395.73" width="4" height="4"/>
<rect x="665.8" y="395.57" width="4" height="4"/>
<rect x="666.05" y="394.16" width="4" height="4"/>
<rect x="666.3" y="403.18" width="4" height="4"/>
<rect x="666.55" y="393.76" width="4" height="4"/>
<rect x="666.81" y="392.97" width="4" height="4"/>
<rect x="667.06" y="395.26" width="4" height="4"/>
<rect x="667.31" y="394.41" width="4" height="4"/>
<rect x="667.56" y="392.6" width="4" height="4"/>
<rect x="667.82" y="394.26" width="4" height="4"/>
<rect x="668.07" y="404.5" width="4" height="4"/>
<rect x="668.32" y="396.8" width="4" height="4"/>
<rect x="668.57" y="397.79" width="4" height="4"/>
<rect x="668.82" y="392.39" width="4" height="4"/>
<rect x="669.08" y="403.19" width="4" height="4"/>
<rect x="669.33" y="404.67" width="4" height="4"/>
<rect x="669.58" y="393.45" width="4" height="4"/>
<rect x="669.83" y="404.73" width="4" height="4"/>
<rect x="670.09" y="403.79" width="4" height="4"/>
<rect x="670.34" y="403.21" width="4" height="4"/>
<rect x="670.59" y="397.09" width="4" height="4"/>
<rect x="670.84" y="393.46" width="4" height="4"/>
<rect x="671.09" y="404.78" width="4" height="4"/>
<rect x="671.35" y="392.85" width="4" height="4"/>
<rect x="671.6" y="394.83" width="4" height="4"/>
<rect x="671.85" y="396.35" width="4" height="4"/>
<rect x="672.1" y="396.08" width="4" height="4"/>
<rect x="672.36" y="395.56" width="4" height="4"/>
<rect x="672.61" y="393.83" width="4" height="4"/>
<rect x="672.86" y="404.89" width="4" height="4"/>
<rect x="673.11" y="395.96" width="4" height="4"/>
<rect x="673.36" y="404.75" width="4" height="4"/>
<rect x="673.62" y="405.45" width="4" height="4"/>
<rect x="673.87" y="402.85" width="4" height="4"/>
<rect x="674.12" y="403.92" width="4" height="4"/>
<rect x="674.37" y="404.49" width="4" height="4"/>
<rect x="674.62" y="405.44" width="4" height="4"/>
<rect x="674.88" y="394.76" width="4" height="4"/>
<rect x="675.13" y="404.87" width="4" height="4"/>
<rect x="675.38" y="404.48" width="4" height="4"/>
<rect x="675.63" y="395.47" width="4" height="4"/>
<rect x="675.89" y="394.34" width="4" height="4"/>
<rect x="676.14" y="404.03" width="4" height="4"/>
<rect x="676.39" y="402.69" width="4" height="4"/>
<rect x="676.64" y="404.34" width="4" height="4"/>
<rect x="676.89" y="406.75" width="4" height="4"/>
<rect x="677.15" y="398.01" width="4" height="4"/>
<rect x="677.4" y="404.84" width="4" height="4"/>
<rect x="677.65" y="403.38" width="4" height="4"/>
<rect x="677.9" y="396.6" width="4" height="4"/>
<rect x="678.16" y="407.35" width="4" height="4"/>
<rect x="678.41" y="394.7" width="4" height="4"/>
<rect x="678.66" y="397.69" width="4" height="4"/>
<rect x="678.91" y="403.19" width="4" height="4"/>
<rect x="679.16" y="403.31" width="4" height="4"/>
<rect x="679.42" y="394.92" width="4" height="4"/>
<rect x="679.67" y="395.96" width="4" height="4"/>
<rect x="679.92" y="397.51" width="4" height="4"/>
<rect x="680.17" y="399.11" width="4" height="4"/>
<rect x="680.43" y="404.94" width="4" height="4"/>
<rect x="680.68" y="397.08" width="4" height="4"/>
<rect x="680.93" y="403.38" width="4" height="4"/>
<rect x="681.18" y="405.02" width="4" height="4"/>
<rect x="681.43" y="393.6" width="4" height="4"/>
<rect x="681.69" y="404.32" width="4" height="4"/>
<rect x="681.94" y="404.93" width="4" height="4"/>
<rect x="682.19" y="396.94" width="4" height="4"/>
<rect x="682.44" y="396" width="4" height="4"/>
<rect x="682.7" y="395.83" width="4" height="4"/>
<rect x="682.95" y="404.39" width="4" height="4"/>
<rect x="683.2" y="403.88" width="4" height="4"/>
<rect x="683.45" y="403.79" width="4" height="4"/>
<rect x="683.7" y="397.98" width="4" height="4"/>
<rect x="683.96" y="398.48" width="4" height="4"/>
<rect x="684.21" y="396.83" width="4" height="4"/>
<rect x="684.46" y="403.98" width="4" height="4"/>
<rect x="684.71" y="404.27" width="4" height="4"/>
<rect x="684.97" y="404.35" width="4" height="4"/>
<rect x="685.22" y="405.7" width="4" height="4"/>
<rect x="685.47" y="396.91" width="4" height="4"/>
<rect x="685.72" y="396.75" width="4" height="4"/>
<rect x="685.97" y="397.06" width="4" height="4"/>
<rect x="686.23" y="397.81" width="4" height="4"/>
<rect x="686.48" y="405.64" width="4" height="4"/>
<rect x="686.73" y="404.37" width="4" height="4"/>
<rect x="686.98" y="396.51" width="4" height="4"/>
<rect x="687.23" y="404.95" width="4" height="4"/>
<rect x="687.49" y="404.36" width="4" height="4"/>
<rect x="687.74" y="403.87" width="4" height="4"/>
<rect x="687.99" y="396.05" width="4" height="4"/>
<rect x="688.24" y="398.72" width="4" height="4"/>
<rect x="688.5" y="402.77" width="4" height="4"/>
<rect x="688.75" y="405.11" width="4" height="4"/>
<rect x="689" y="396.86" width="4" height="4"/>
<rect x="689.25" y="397.87" width="4" height="4"/>
<rect x="689.5" y="404.95" width="4" height="4"/>
<rect x="689.76" y="403.25" width="4" height="4"/>
<rect x="690.01" y="404.39" width="4" height="4"/>
<rect x="690.26" y="403.65" width="4" height="4"/>
<rect x="690.51" y="405.01" width="4" height="4"/>
<rect x="690.77" y="404.47" width="4" height="4"/>
<rect x="691.02" y="403.67" width="4" height="4"/>
<rect x="691.27" y="399.93" width="4" height="4"/>
<rect x="691.52" y="401.11" width="4" height="4"/>
<rect x="691.77" y="399.73" width="4" height="4"/>
<rect x="692.03" y="401.52" width="4" height="4"/>
<rect x="692.28" y="399.12" width="4" height="4"/>
<rect x="692.53" y="403.9" width="4" height="4"/>
<rect x="692.78" y="404.28" width="4" height="4"/>
<rect x="693.04" y="404.58" width="4" height="4"/>
<rect x="693.29" y="400.65" width="4" height="4"/>
<rect x="693.54" y="405.77" width="4" height="4"/>
<rect x="693.79" y="399.94" width="4" height="4"/>
<rect x="694.04" y="405.72" width="4" height="4"/>
<rect x="694.3" y="402.05" width="4" height="4"/>
<rect x="694.55" y="401.74" width="4" height="4"/>
<rect x="694.8" y="403.77" width="4" height="4"/>
<rect x="695.05" y="405.43" width="4" height="4"/>
<rect x="695.31" y="404.35" width="4" height="4"/>
<rect x="695.56" y="402.32" width="4" height="4"/>
<rect x="695.81" y="404.03" width="4" height="4"/>
<rect x="696.06" y="402.06" width="4" height="4"/>
<rect x="696.31" y="403.38" width="4" height="4"/>
<rect x="696.57" y="403.52" width="4" height="4"/>
<rect x="696.82" y="405.11" width="4" height="4"/>
<rect x="697.07" y="400.61" width="4" height="4"/>
<rect x="697.32" y="404.42" width="4" height="4"/>
<rect x="697.58" y="407.12" width="4" height="4"/>
<rect x="697.83" y="407.18" width="4" height="4"/>
<rect x="698.08" y="407.25" width="4" height="4"/>
<rect x="698.33" y="406.99" width="4" height="4"/>
<rect x="698.58" y="406.99" width="4" height="4"/>
<rect x="698.84" y="407.4" width="4" height="4"/>
<rect x="699.09" y="407.12" width="4" height="4"/>
<rect x="699.34" y="407.01" width="4" height="4"/>
<rect x="699.59" y="407.26" width="4" height="4"/>
<rect x="699.84" y="407.13" width="4" height="4"/>
<rect x="700.1" y="407.16" width="4" height="4"/>
<rect x="700.35" y="406.95" width="4" height="4"/>
<rect x="700.6" y="407.39" width="4" height="4"/>
<rect x="700.85" y="406.57" width="4" height="4"/>
<rect x="701.11" y="406.89" width="4" height="4"/>
<rect x="701.36" y="407.19" width="4" height="4"/>
<rect x="701.61" y="407.12" width="4" height="4"/>
<rect x="701.86" y="407.05" width="4" height="4"/>
<rect x="702.11" y="407.4" width="4" height="4"/>
<rect x="702.37" y="406.96" width="4" height="4"/>
<rect x="702.62" y="407.4" width="4" height="4"/>
<rect x="702.87" y="407.1" width="4" height="4"/>
<rect x="703.12" y="407.03" width="4" height="4"/>
<rect x="703.38" y="407.24" width="4" height="4"/>
<rect x="703.63" y="406.81" width="4" height="4"/>
<rect x="703.88" y="407.25" width="4" height="4"/>
<rect x="704.13" y="406.86" width="4" height="4"/>
<rect x="704.38" y="406.97" width="4" height="4"/>
<rect x="704.64" y="407.26" width="4" height="4"/>
<rect x="704.89" y="406.85" width="4" height="4"/>
<rect x="705.14" y="407.4" width="4" height="4"/>
<rect x="705.39" y="407.09" width="4" height="4"/>
<rect x="705.65" y="406.87" width="4" height="4"/>
<rect x="705.9" y="407.34" width="4" height="4"/>
<rect x="706.15" y="407.14" width="4" height="4"/>
<rect x="706.4" y="407.11" width="4" height="4"/>
<rect x="706.65" y="407.4" width="4" height="4"/>
<rect x="706.91" y="407.03" width="4" height="4"/>
<rect x="707.16" y="406.64" width="4" height="4"/>
<rect x="707.41" y="407.12" width="4" height="4"/>
<rect x="707.66" y="407.4" width="4" height="4"/>
<rect x="707.92" y="407.4" width="4" height="4"/>
<rect x="708.17" y="406.84" width="4" height="4"/>
<rect x="708.42" y="407.38" width="4" height="4"/>
<rect x="708.67" y="406.94" width="4" height="4"/>
<rect x="708.92" y="407.35" width="4" height="4"/>
<rect x="709.18" y="407.39" width="4" height="4"/>
<rect x="709.43" y="407.29" width="4" height="4"/>
<rect x="709.68" y="407" width="4" height="4"/>
<rect x="709.93" y="407.4" width="4" height="4"/>
<rect x="710.19" y="407.18" width="4" height="4"/>
<rect x="710.44" y="407.21" width="4" height="4"/>
<rect x="710.69" y="407.15" width="4" height="4"/>
<rect x="710.94" y="407.07" width="4" height="4"/>
<rect x="711.19" y="407.2" width="4" height="4"/>
<rect x="711.45" y="407.13" width="4" height="4"/>
<rect x="711.7" y="407.04" width="4" height="4"/>
<rect x="711.95" y="407.08" width="4" height="4"/>
<rect x="712.2" y="406.74" width="4" height="4"/>
<rect x="712.45" y="407" width="4" height="4"/>
<rect x="712.71" y="407.3" width="4" height="4"/>
<rect x="712.96" y="407.03" width="4" height="4"/>
<rect x="713.21" y="407.2" width="4" height="4"/>
<rect x="713.46" y="407.2" width="4" height="4"/>
<rect x="713.72" y="407.17" width="4" height="4"/>
<rect x="713.97" y="406.46" width="4" height="4"/>
<rect x="714.22" y="406.24" width="4" height="4"/>
<rect x="714.47" y="406.69" width="4" height="4"/>
<rect x="714.72" y="406.58" width="4" height="4"/>
<rect x="714.98" y="406.55" width="4" height="4"/>
<rect x="715.23" y="406.15" width="4" height="4"/>
<rect x="715.48" y="406.35" width="4" height="4"/>
<rect x="715.73" y="406.01" width="4" height="4"/>
<rect x="715.99" y="405.37" width="4" height="4"/>
<rect x="716.24" y="405.6" width="4" height="4"/>
<rect x="716.49" y="405.77" width="4" height="4"/>
<rect x="716.74" y="405.91" width="4" height="4"/>
<rect x="716.99" y="405.42" width="4" height="4"/>
<rect x="717.25" y="404.34" width="4" height="4"/>
<rect x="717.5" y="405" width="4" height="4"/>
<rect x="717.75" y="404.29" width="4" height="4"/>
<rect x="718" y="403.57" width="4" height="4"/>
<rect x="718.26" y="404.15" width="4" height="4"/>
<rect x="718.51" y="403.88" width="4" height="4"/>
<rect x="718.76" y="404.66" width="4" height="4"/>
<rect x="719.01" y="403.53" width="4" height="4"/>
<rect x="719.26" y="403.62" width="4" height="4"/>
<rect x="719.52" y="403.56" width="4" height="4"/>
<rect x="719.77" y="403.79" width="4" height="4"/>
<rect x="720.02" y="403.21" width="4" height="4"/>
<rect x="720.27" y="402.9" width="4" height="4"/>
<rect x="720.53" y="403.64" width="4" height="4"/>
<rect x="720.78" y="403.69" width="4" height="4"/>
<rect x="721.03" y="404.3" width="4" height="4"/>
<rect x="721.28" y="403.61" width="4" height="4"/>
<rect x="721.53" y="404.3" width="4" height="4"/>
<rect x="721.79" y="405.14" width="4" height="4"/>
<rect x="722.04" y="404.89" width="4" height="4"/>
<rect x="722.29" y="405.42" width="4" height="4"/>
<rect x="722.54" y="404.99" width="4" height="4"/>
<rect x="722.8" y="405.1" width="4" height="4"/>
<rect x="723.05" y="405.34" width="4" height="4"/>
<rect x="723.3" y="406.05" width="4" height="4"/>
<rect x="723.55" y="406.42" width="4" height="4"/>
<rect x="723.8" y="406.64" width="4" height="4"/>
<rect x="724.06" y="405.92" width="4" height="4"/>
<rect x="724.31" y="406.65" width="4" height="4"/>
<rect x="724.56" y="406.26" width="4" height="4"/>
<rect x="724.81" y="406.27" width="4" height="4"/>
<rect x="725.06" y="406.54" width="4" height="4"/>
<rect x="725.32" y="406.52" width="4" height="4"/>
<rect x="725.57" y="406.65" width="4" height="4"/>
<rect x="725.82" y="406.5" width="4" height="4"/>
<rect x="726.07" y="405.88" width="4" height="4"/>
<rect x="726.33" y="406.26" width="4" height="4"/>
<rect x="726.58" y="406.24" width="4" height="4"/>
<rect x="726.83" y="406.18" width="4" height="4"/>
<rect x="727.08" y="405.99" width="4" height="4"/>
<rect x="727.33" y="406.53" width="4" height="4"/>
<rect x="727.59" y="406.2" width="4" height="4"/>
<rect x="727.84" y="406.66" width="4" height="4"/>
<rect x="728.09" y="405.21" width="4" height="4"/>
<rect x="728.34" y="406.14" width="4" height="4"/>
<rect x="728.6" y="405.53" width="4" height="4"/>
<rect x="728.85" y="406.1" width="4" height="4"/>
<rect x="729.1" y="405.93" width="4" height="4"/>
<rect x="729.35" y="405.97" width="4" height="4"/>
<rect x="729.6" y="405.07" width="4" height="4"/>
<rect x="729.86" y="405.56" width="4" height="4"/>
<rect x="730.11" y="404.68" width="4" height="4"/>
<rect x="730.36" y="405.22" width="4" height="4"/>
<rect x="730.61" y="404.96" width="4" height="4"/>
<rect x="730.87" y="404.7" width="4" height="4"/>
<rect x="731.12" y="405.96" width="4" height="4"/>
<rect x="731.37" y="405.5" width="4" height="4"/>
<rect x="731.62" y="405.2" width="4" height="4"/>
<rect x="731.87" y="405.16" width="4" height="4"/>
<rect x="732.13" y="404.84" width="4" height="4"/>
<rect x="732.38" y="405" width="4" height="4"/>
<rect x="732.63" y="404.55" width="4" height="4"/>
<rect x="732.88" y="403.62" width="4" height="4"/>
<rect x="733.14" y="404.44" width="4" height="4"/>
<rect x="733.39" y="404.07" width="4" height="4"/>
<rect x="733.64" y="405.34" width="4" height="4"/>
<rect x="733.89" y="404.73" width="4" height="4"/>
<rect x="734.14" y="404.52" width="4" height="4"/>
<rect x="734.4" y="404.52" width="4" height="4"/>
<rect x="734.65" y="404.02" width="4" height="4"/>
<rect x="734.9" y="404.76" width="4" height="4"/>
<rect x="735.15" y="404.05" width="4" height="4"/>
<rect x="735.4" y="404.21" width="4" height="4"/>
<rect x="735.66" y="404.71" width="4" height="4"/>
<rect x="735.91" y="404.08" width="4" height="4"/>
<rect x="736.16" y="404.91" width="4" height="4"/>
<rect x="736.41" y="405.3" width="4" height="4"/>
<rect x="736.67" y="404.32" width="4" height="4"/>
<rect x="736.92" y="404.85" width="4" height="4"/>
<rect x="737.17" y="405.53" width="4" height="4"/>
<rect x="737.42" y="406.23" width="4" height="4"/>
<rect x="737.67" y="404.89" width="4" height="4"/>
<rect x="737.93" y="404.55" width="4" height="4"/>
<rect x="738.18" y="405.58" width="4" height="4"/>
<rect x="738.43" y="405.96" width="4" height="4"/>
<rect x="738.68" y="405.89" width="4" height="4"/>
<rect x="738.94" y="406.06" width="4" height="4"/>
<rect x="739.19" y="405" width="4" height="4"/>
<rect x="739.44" y="405.1" width="4" height="4"/>
<rect x="739.69" y="405.54" width="4" height="4"/>
<rect x="739.94" y="405.84" width="4" height="4"/>
<rect x="740.2" y="405.2" width="4" height="4"/>
<rect x="740.45" y="404.9" width="4" height="4"/>
<rect x="740.7" y="404.5" width="4" height="4"/>
<rect x="740.95" y="405.86" width="4" height="4"/>
<rect x="741.21" y="405.37" width="4" height="4"/>
<rect x="741.46" y="404.55" width="4" height="4"/>
<rect x="741.71" y="404.16" width="4" height="4"/>
<rect x="741.96" y="404.31" width="4" height="4"/>
<rect x="742.21" y="404.79" width="4" height="4"/>
<rect x="742.47" y="403.64" width="4" height="4"/>
<rect x="742.72" y="403.48" width="4" height="4"/>
<rect x="742.97" y="402.13" width="4" height="4"/>
<rect x="743.22" y="403.9" width="4" height="4"/>
<rect x="743.48" y="401.94" width="4" height="4"/>
<rect x="743.73" y="401.61" width="4" height="4"/>
<rect x="743.98" y="402.31" width="4" height="4"/>
<rect x="744.23" y="403.92" width="4" height="4"/>
<rect x="744.48" y="401.89" width="4" height="4"/>
<rect x="744.74" y="402.44" width="4" height="4"/>
<rect x="744.99" y="403.62" width="4" height="4"/>
<rect x="745.24" y="402.82" width="4" height="4"/>
<rect x="745.49" y="402.28" width="4" height="4"/>
<rect x="745.75" y="402.46" width="4" height="4"/>
<rect x="746" y="403.99" width="4" height="4"/>
<rect x="746.25" y="402.43" width="4" height="4"/>
<rect x="746.5" y="404.78" width="4" height="4"/>
<rect x="746.75" y="403.33" width="4" height="4"/>
<rect x="747.01" y="403.68" width="4" height="4"/>
<rect x="747.26" y="404.09" width="4" height="4"/>
<rect x="747.51" y="404.17" width="4" height="4"/>
<rect x="747.76" y="405.38" width="4" height="4"/>
<rect x="748.01" y="405.78" width="4" height="4"/>
<rect x="748.27" y="404.94" width="4" height="4"/>
<rect x="748.52" y="405.62" width="4" height="4"/>
<rect x="748.77" y="406.04" width="4" height="4"/>
<rect x="749.02" y="405.62" width="4" height="4"/>
<rect x="749.28" y="405.95" width="4" height="4"/>
<rect x="749.53" y="405.92" width="4" height="4"/>
<rect x="749.78" y="405.46" width="4" height="4"/>
<rect x="750.03" y="405.71" width="4" height="4"/>
<rect x="750.28" y="405.98" width="4" height="4"/>
<rect x="750.54" y="405.11" width="4" height="4"/>
<rect x="750.79" y="405.87" width="4" height="4"/>
<rect x="751.04" y="406.2" width="4" height="4"/>
<rect x="751.29" y="405.32" width="4" height="4"/>
<rect x="751.55" y="405.79" width="4" height="4"/>
<rect x="751.8" y="405.35" width="4" height="4"/>
<rect x="752.05" y="405.3" width="4" height="4"/>
<rect x="752.3" y="405.64" width="4" height="4"/>
<rect x="752.55" y="404.6" width="4" height="4"/>
<rect x="752.81" y="405.33" width="4" height="4"/>
<rect x="753.06" y="404.67" width="4" height="4"/>
<rect x="753.31" y="404.81" width="4" height="4"/>
<rect x="753.56" y="404.65" width="4" height="4"/>
<rect x="753.82" y="404.76" width="4" height="4"/>
<rect x="754.07" y="405.39" width="4" height="4"/>
<rect x="754.32" y="405.04" width="4" height="4"/>
<rect x="754.57" y="405.57" width="4" height="4"/>
<rect x="754.82" y="405.17" width="4" height="4"/>
<rect x="755.08" y="404.52" width="4" height="4"/>
<rect x="755.33" y="405.4" width="4" height="4"/>
<rect x="755.58" y="406.02" width="4" height="4"/>
<rect x="755.83" y="404.85" width="4" height="4"/>
<rect x="756.09" y="405.27" width="4" height="4"/>
<rect x="756.34" y="404.81" width="4" height="4"/>
<rect x="756.59" y="405.72" width="4" height="4"/>
<rect x="756.84" y="405.93" width="4" height="4"/>
<rect x="757.09" y="406.11" width="4" height="4"/>
<rect x="757.35" y="406.17" width="4" height="4"/>
<rect x="757.6" y="405.73" width="4" height="4"/>
<rect x="757.85" y="406.32" width="4" height="4"/>
<rect x="758.1" y="406.22" width="4" height="4"/>
<rect x="758.36" y="406.19" width="4" height="4"/>
<rect x="758.61" y="406.42" width="4" height="4"/>
<rect x="758.86" y="406.12" width="4" height="4"/>
<rect x="759.11" y="406.26" width="4" height="4"/>
<rect x="759.36" y="406.67" width="4" height="4"/>
<rect x="759.62" y="406.58" width="4" height="4"/>
<rect x="759.87" y="406.96" width="4" height="4"/>
<rect x="760.12" y="406.42" width="4" height="4"/>
<rect x="760.37" y="406.62" width="4" height="4"/>
<rect x="760.62" y="406.7" width="4" height="4"/>
<rect x="760.88" y="407.21" width="4" height="4"/>
<rect x="761.13" y="406.69" width="4" height="4"/>
<rect x="761.38" y="406.93" width="4" height="4"/>
<rect x="761.63" y="406.7" width="4" height="4"/>
<rect x="761.89" y="406.99" width="4" height="4"/>
<rect x="762.14" y="407.04" width="4" height="4"/>
<rect x="762.39" y="406.86" width="4" height="4"/>
<rect x="762.64" y="406.52" width="4" height="4"/>
<rect x="762.89" y="406.82" width="4" height="4"/>
<rect x="763.15" y="406.42" width="4" height="4"/>
<rect x="763.4" y="406.99" width="4" height="4"/>
<rect x="763.65" y="406.76" width="4" height="4"/>
<rect x="763.9" y="407.19" width="4" height="4"/>
<rect x="764.16" y="406.91" width="4" height="4"/>
<rect x="764.41" y="407.05" width="4" height="4"/>
<rect x="764.66" y="406.86" width="4" height="4"/>
<rect x="764.91" y="406.88" width="4" height="4"/>
<rect x="765.16" y="407.09" width="4" height="4"/>
<rect x="765.42" y="407.08" width="4" height="4"/>
<rect x="765.67" y="406.93" width="4" height="4"/>
<rect x="765.92" y="407.09" width="4" height="4"/>
<rect x="766.17" y="406.97" width="4" height="4"/>
<rect x="766.43" y="406.53" width="4" height="4"/>
<rect x="766.68" y="406.52" width="4" height="4"/>
<rect x="766.93" y="406.77" width="4" height="4"/>
<rect x="767.18" y="406.63" width="4" height="4"/>
<rect x="767.43" y="407.07" width="4" height="4"/>
<rect x="767.69" y="406.69" width="4" height="4"/>
<rect x="767.94" y="406.42" width="4" height="4"/>
<rect x="768.19" y="406.84" width="4" height="4"/>
<rect x="768.44" y="406.31" width="4" height="4"/>
<rect x="768.7" y="406.82" width="4" height="4"/>
<rect x="768.95" y="406.84" width="4" height="4"/>
<rect x="769.2" y="406.29" width="4" height="4"/>
<rect x="769.45" y="405.98" width="4" height="4"/>
<rect x="769.7" y="406.55" width="4" height="4"/>
<rect x="769.96" y="406.84" width="4" height="4"/>
<rect x="770.21" y="406.28" width="4" height="4"/>
<rect x="770.46" y="406.9" width="4" height="4"/>
<rect x="770.71" y="406.48" width="4" height="4"/>
<rect x="770.97" y="406.74" width="4" height="4"/>
<rect x="771.22" y="406.13" width="4" height="4"/>
<rect x="771.47" y="406.71" width="4" height="4"/>
<rect x="771.72" y="406.3" width="4" height="4"/>
<rect x="771.97" y="406.39" width="4" height="4"/>
<rect x="772.23" y="405.77" width="4" height="4"/>
<rect x="772.48" y="406.46" width="4" height="4"/>
<rect x="772.73" y="406.41" width="4" height="4"/>
<rect x="772.98" y="406.11" width="4" height="4"/>
<rect x="773.24" y="406.69" width="4" height="4"/>
<rect x="773.49" y="406.46" width="4" height="4"/>
<rect x="773.74" y="406.37" width="4" height="4"/>
<rect x="773.99" y="406.39" width="4" height="4"/>
<rect x="774.24" y="406.48" width="4" height="4"/>
<rect x="774.5" y="405.92" width="4" height="4"/>
<rect x="774.75" y="406.83" width="4" height="4"/>
<rect x="775" y="406.21" width="4" height="4"/>
<rect x="775.25" y="406.38" width="4" height="4"/>
<rect x="775.5" y="405.94" width="4" height="4"/>
<rect x="775.76" y="406.36" width="4" height="4"/>
<rect x="776.01" y="405.7" width="4" height="4"/>
<rect x="776.26" y="406.65" width="4" height="4"/>
<rect x="776.51" y="406.53" width="4" height="4"/>
<rect x="776.77" y="406.31" width="4" height="4"/>
<rect x="777.02" y="406.18" width="4" height="4"/>
<rect x="777.27" y="406.47" width="4" height="4"/>
<rect x="777.52" y="406.54" width="4" height="4"/>
<rect x="777.77" y="406.2" width="4" height="4"/>
<rect x="778.03" y="406.22" width="4" height="4"/>
<rect x="778.28" y="406.32" width="4" height="4"/>
<rect x="778.53" y="406.11" width="4" height="4"/>
<rect x="778.78" y="406.68" width="4" height="4"/>
<rect x="779.04" y="406.2" width="4" height="4"/>
<rect x="779.29" y="406.37" width="4" height="4"/>
<rect x="779.54" y="406.36" width="4" height="4"/>
<rect x="779.79" y="406.38" width="4" height="4"/>
<rect x="780.04" y="406.43" width="4" height="4"/>
<rect x="780.3" y="406.62" width="4" height="4"/>
<rect x="780.55" y="406.59" width="4" height="4"/>
<rect x="780.8" y="406.57" width="4" height="4"/>
<rect x="781.05" y="406.24" width="4" height="4"/>
<rect x="781.31" y="406.74" width="4" height="4"/>
<rect x="781.56" y="406.18" width="4" height="4"/>
<rect x="781.81" y="406.53" width="4" height="4"/>
<rect x="782.06" y="406.26" width="4" height="4"/>
<rect x="782.31" y="406.79" width="4" height="4"/>
<rect x="782.57" y="406.44" width="4" height="4"/>
<rect x="782.82" y="406.42" width="4" height="4"/>
<rect x="783.07" y="406.65" width="4" height="4"/>
<rect x="783.32" y="406.2" width="4" height="4"/>
<rect x="783.58" y="406.4" width="4" height="4"/>
<rect x="783.83" y="406.52" width="4" height="4"/>
<rect x="784.08" y="406.76" width="4" height="4"/>
<rect x="784.33" y="407.02" width="4" height="4"/>
<rect x="784.58" y="406.49" width="4" height="4"/>
<rect x="784.84" y="406.79" width="4" height="4"/>
<rect x="785.09" y="406.96" width="4" height="4"/>
<rect x="785.34" y="406.33" width="4" height="4"/>
<rect x="785.59" y="406.5" width="4" height="4"/>
<rect x="785.85" y="406.63" width="4" height="4"/>
<rect x="786.1" y="406.64" width="4" height="4"/>
<rect x="786.35" y="406.88" width="4" height="4"/>
<rect x="786.6" y="406.74" width="4" height="4"/>
<rect x="786.85" y="406.38" width="4" height="4"/>
<rect x="787.11" y="406.67" width="4" height="4"/>
<rect x="787.36" y="406.38" width="4" height="4"/>
<rect x="787.61" y="406.89" width="4" height="4"/>
<rect x="787.86" y="407.04" width="4" height="4"/>
<rect x="788.11" y="406.78" width="4" height="4"/>
<rect x="788.37" y="406.86" width="4" height="4"/>
<rect x="788.62" y="407.21" width="4" height="4"/>
<rect x="788.87" y="407.04" width="4" height="4"/>
<rect x="789.12" y="406.94" width="4" height="4"/>
<rect x="789.38" y="406.86" width="4" height="4"/>
<rect x="789.63" y="406.71" width="4" height="4"/>
<rect x="789.88" y="407.4" width="4" height="4"/>
<rect x="790.13" y="407.22" width="4" height="4"/>
<rect x="790.38" y="407.26" width="4" height="4"/>
<rect x="790.64" y="406.88" width="4" height="4"/>
<rect x="790.89" y="406.47" width="4" height="4"/>
<rect x="791.14" y="406.76" width="4" height="4"/>
<rect x="791.39" y="407.29" width="4" height="4"/>
<rect x="791.65" y="407" width="4" height="4"/>
<rect x="791.9" y="406.92" width="4" height="4"/>
<rect x="792.15" y="406.76" width="4" height="4"/>
<rect x="792.4" y="406.54" width="4" height="4"/>
<rect x="792.65" y="407.09" width="4" height="4"/>
<rect x="792.91" y="407.09" width="4" height="4"/>
<rect x="793.16" y="406.63" width="4" height="4"/>
<rect x="793.41" y="407.01" width="4" height="4"/>
<rect x="793.66" y="407.07" width="4" height="4"/>
<rect x="793.92" y="407.1" width="4" height="4"/>
<rect x="794.17" y="407.26" width="4" height="4"/>
<rect x="794.42" y="406.84" width="4" height="4"/>
<rect x="794.67" y="407.37" width="4" height="4"/>
<rect x="794.92" y="406.73" width="4" height="4"/>
<rect x="795.18" y="407.07" width="4" height="4"/>
<rect x="795.43" y="407.03" width="4" height="4"/>
<rect x="795.68" y="406.66" width="4" height="4"/>
<rect x="795.93" y="406.71" width="4" height="4"/>
<rect x="796.19" y="407.4" width="4" height="4"/>
<rect x="796.44" y="407.2" width="4" height="4"/>
<rect x="796.69" y="407.29" width="4" height="4"/>
<rect x="796.94" y="406.91" width="4" height="4"/>
<rect x="797.19" y="407.07" width="4" height="4"/>
<rect x="797.45" y="407.19" width="4" height="4"/>
<rect x="797.7" y="407.06" width="4" height="4"/>
<rect x="797.95" y="406.98" width="4" height="4"/>
<rect x="798.2" y="406.98" width="4" height="4"/>
<rect x="798.46" y="407.39" width="4" height="4"/>
<rect x="798.71" y="407.4" width="4" height="4"/>
<rect x="798.96" y="407.05" width="4" height="4"/>
<rect x="799.21" y="407.06" width="4" height="4"/>
<rect x="799.46" y="407.05" width="4" height="4"/>
<rect x="561.89" y="364.91" width="4" height="4"/>
<rect x="564.92" y="375.59" width="4" height="4"/>
<rect x="571.98" y="376.6" width="4" height="4"/>
<rect x="597.96" y="375.37" width="4" height="4"/>
<rect x="563.4" y="380.09" width="4" height="4"/>
<rect x="571.48" y="380.99" width="4" height="4"/>
<rect x="590.89" y="380.2" width="4" height="4"/>
<rect x="586.61" y="381.77" width="4" height="4"/>
<rect x="596.44" y="382.45" width="4" height="4"/>
<rect x="564.41" y="385.14" width="4" height="4"/>
<rect x="566.94" y="383.8" width="4" height="4"/>
<rect x="573.74" y="383.8" width="4" height="4"/>
<rect x="583.58" y="383.8" width="4" height="4"/>
<rect x="594.17" y="385.37" width="4" height="4"/>
<rect x="613.09" y="383.8" width="4" height="4"/>
<rect x="623.18" y="382.11" width="4" height="4"/>
<rect x="605.52" y="385.48" width="4" height="4"/>
<rect x="653.94" y="386.49" width="4" height="4"/>
<rect x="666.81" y="388.52" width="4" height="4"/>
<rect x="671.85" y="389.64" width="4" height="4"/>
<rect x="655.96" y="388.85" width="4" height="4"/>
<rect x="615.61" y="386.04" width="4" height="4"/>
<rect x="635.79" y="388.29" width="4" height="4"/>
<rect x="645.87" y="389.42" width="4" height="4"/>
<rect x="677.4" y="391.66" width="4" height="4"/>
</g>
<text x="537.5" y="360" text-anchor="end" font-size="23" fill="#231815">0.50</text>
<text x="537.5" y="388.1" text-anchor="end" font-size="23" fill="#231815">0.25</text>
<text x="537.5" y="416" text-anchor="end" font-size="23" fill="#231815">0.00</text>
<text x="541.95" y="430.5" text-anchor="middle" font-size="23" fill="#231815">0</text>
<text x="605" y="430.5" text-anchor="middle" font-size="23" fill="#231815">250</text>
<text x="668.05" y="430.5" text-anchor="middle" font-size="23" fill="#231815">500</text>
<text x="731.1" y="430.5" text-anchor="middle" font-size="23" fill="#231815">750</text>
<text x="794.15" y="430.5" text-anchor="middle" font-size="23" fill="#231815">1000</text>
<text transform="translate(477,379.5) rotate(-90)" text-anchor="middle" font-size="23" font-style="italic" fill="#231815">x<tspan font-size="15" font-style="normal" dy="5">2</tspan></text>
<rect x="541.3" y="447.3" width="261.5" height="64" fill="#fff" stroke="none"/>
<g stroke="#e6e6e6" stroke-width="0.8">
<line x1="605" y1="447.3" x2="605" y2="511.3"/>
<line x1="668.05" y1="447.3" x2="668.05" y2="511.3"/>
<line x1="731.1" y1="447.3" x2="731.1" y2="511.3"/>
<line x1="794.15" y1="447.3" x2="794.15" y2="511.3"/>
<line x1="541.3" y1="468.3" x2="802.8" y2="468.3"/>
<line x1="541.3" y1="489.4" x2="802.8" y2="489.4"/>
</g>
<rect x="541.3" y="447.3" width="261.5" height="64" fill="none" stroke="#757575" stroke-width="0.8"/>
<g fill="#2f97c9">
<rect x="540.05" y="508.3" width="263.25" height="4.2"/>
<rect x="556.55" y="453.07" width="4" height="4"/>
<rect x="542.15" y="463.17" width="4" height="4"/>
<rect x="543.09" y="472.72" width="4" height="4"/>
<rect x="547.13" y="477.03" width="4" height="4"/>
<rect x="545.79" y="481.34" width="4" height="4"/>
<rect x="562.88" y="478.11" width="4" height="4"/>
<rect x="556.96" y="484.03" width="4" height="4"/>
<rect x="551.17" y="486.18" width="4" height="4"/>
<rect x="555.88" y="488.87" width="4" height="4"/>
<rect x="546.46" y="489.82" width="4" height="4"/>
<rect x="552.52" y="491.84" width="4" height="4"/>
<rect x="565.97" y="491.84" width="4" height="4"/>
<rect x="572.7" y="492.24" width="4" height="4"/>
<rect x="598.68" y="490.76" width="4" height="4"/>
<rect x="557.9" y="494.8" width="4" height="4"/>
<rect x="544.17" y="496.55" width="4" height="4"/>
<rect x="551.84" y="496.55" width="4" height="4"/>
<rect x="564.22" y="496.14" width="4" height="4"/>
<rect x="572.03" y="496.55" width="4" height="4"/>
<rect x="590.47" y="496.28" width="4" height="4"/>
<rect x="585.49" y="497.89" width="4" height="4"/>
<rect x="597.6" y="497.89" width="4" height="4"/>
<rect x="615.77" y="498.57" width="4" height="4"/>
<rect x="605.68" y="500.18" width="4" height="4"/>
<rect x="620.48" y="501.26" width="4" height="4"/>
<rect x="654.13" y="500.99" width="4" height="4"/>
<rect x="630.58" y="502.33" width="4" height="4"/>
<rect x="643.36" y="502.87" width="4" height="4"/>
<rect x="667.59" y="502.87" width="4" height="4"/>
<rect x="540.45" y="504.53" width="4" height="4"/>
<rect x="540.71" y="505.57" width="4" height="4"/>
<rect x="540.96" y="505.24" width="4" height="4"/>
<rect x="541.21" y="507.7" width="4" height="4"/>
<rect x="541.46" y="499.95" width="4" height="4"/>
<rect x="541.97" y="502.26" width="4" height="4"/>
<rect x="542.47" y="507.38" width="4" height="4"/>
<rect x="542.72" y="504.64" width="4" height="4"/>
<rect x="542.98" y="503.73" width="4" height="4"/>
<rect x="543.23" y="500.56" width="4" height="4"/>
<rect x="543.48" y="503.01" width="4" height="4"/>
<rect x="543.99" y="506.18" width="4" height="4"/>
<rect x="544.24" y="507.13" width="4" height="4"/>
<rect x="544.49" y="501.78" width="4" height="4"/>
<rect x="544.99" y="506.74" width="4" height="4"/>
<rect x="545.25" y="501.18" width="4" height="4"/>
<rect x="545.75" y="501.69" width="4" height="4"/>
<rect x="546.25" y="505.55" width="4" height="4"/>
<rect x="546.51" y="501.35" width="4" height="4"/>
<rect x="546.76" y="505.2" width="4" height="4"/>
<rect x="547.01" y="505.19" width="4" height="4"/>
<rect x="547.52" y="507.95" width="4" height="4"/>
<rect x="547.77" y="503.01" width="4" height="4"/>
<rect x="548.27" y="500.68" width="4" height="4"/>
<rect x="548.78" y="504.09" width="4" height="4"/>
<rect x="549.03" y="505.78" width="4" height="4"/>
<rect x="549.28" y="507.62" width="4" height="4"/>
<rect x="549.53" y="506.92" width="4" height="4"/>
<rect x="549.79" y="500.13" width="4" height="4"/>
<rect x="550.04" y="507.96" width="4" height="4"/>
<rect x="550.29" y="506.69" width="4" height="4"/>
<rect x="550.54" y="508.28" width="4" height="4"/>
<rect x="551.55" y="505.91" width="4" height="4"/>
<rect x="551.8" y="503.97" width="4" height="4"/>
<rect x="552.06" y="505.45" width="4" height="4"/>
<rect x="552.31" y="502.69" width="4" height="4"/>
<rect x="553.06" y="505.81" width="4" height="4"/>
<rect x="553.32" y="503.56" width="4" height="4"/>
<rect x="553.57" y="506.65" width="4" height="4"/>
<rect x="553.82" y="505.57" width="4" height="4"/>
<rect x="554.07" y="500.12" width="4" height="4"/>
<rect x="555.33" y="501.47" width="4" height="4"/>
<rect x="555.59" y="502.6" width="4" height="4"/>
<rect x="555.84" y="505.8" width="4" height="4"/>
<rect x="556.09" y="500.28" width="4" height="4"/>
<rect x="556.34" y="502.85" width="4" height="4"/>
<rect x="556.6" y="505.41" width="4" height="4"/>
<rect x="557.1" y="506.71" width="4" height="4"/>
<rect x="557.35" y="504.53" width="4" height="4"/>
<rect x="557.6" y="502.74" width="4" height="4"/>
<rect x="557.86" y="503.41" width="4" height="4"/>
<rect x="558.11" y="503.84" width="4" height="4"/>
<rect x="558.36" y="504.96" width="4" height="4"/>
<rect x="558.61" y="506.78" width="4" height="4"/>
<rect x="559.12" y="507.35" width="4" height="4"/>
<rect x="559.62" y="507.5" width="4" height="4"/>
<rect x="559.87" y="506.18" width="4" height="4"/>
<rect x="560.13" y="503.64" width="4" height="4"/>
<rect x="560.38" y="503.48" width="4" height="4"/>
<rect x="560.63" y="503.98" width="4" height="4"/>
<rect x="560.88" y="507.62" width="4" height="4"/>
<rect x="561.13" y="507.68" width="4" height="4"/>
<rect x="561.39" y="501.03" width="4" height="4"/>
<rect x="561.64" y="502.28" width="4" height="4"/>
<rect x="562.14" y="499.96" width="4" height="4"/>
<rect x="562.4" y="507.44" width="4" height="4"/>
<rect x="562.9" y="506.86" width="4" height="4"/>
<rect x="563.4" y="501.77" width="4" height="4"/>
<rect x="563.66" y="501.76" width="4" height="4"/>
<rect x="563.91" y="506.31" width="4" height="4"/>
<rect x="564.16" y="508.17" width="4" height="4"/>
<rect x="564.41" y="506.51" width="4" height="4"/>
<rect x="564.67" y="502.34" width="4" height="4"/>
<rect x="564.92" y="500.82" width="4" height="4"/>
<rect x="565.17" y="500.96" width="4" height="4"/>
<rect x="565.42" y="500.57" width="4" height="4"/>
<rect x="565.93" y="502.02" width="4" height="4"/>
<rect x="566.18" y="501.87" width="4" height="4"/>
<rect x="566.43" y="501.35" width="4" height="4"/>
<rect x="566.68" y="505.16" width="4" height="4"/>
<rect x="566.94" y="500.32" width="4" height="4"/>
<rect x="567.19" y="507.93" width="4" height="4"/>
<rect x="567.44" y="507.46" width="4" height="4"/>
<rect x="567.69" y="501.54" width="4" height="4"/>
<rect x="567.94" y="500.51" width="4" height="4"/>
<rect x="568.2" y="506.16" width="4" height="4"/>
<rect x="568.45" y="504.54" width="4" height="4"/>
<rect x="568.95" y="507.34" width="4" height="4"/>
<rect x="569.21" y="507.37" width="4" height="4"/>
<rect x="569.71" y="503.63" width="4" height="4"/>
<rect x="569.96" y="502.51" width="4" height="4"/>
<rect x="570.21" y="507.09" width="4" height="4"/>
<rect x="570.72" y="502.49" width="4" height="4"/>
<rect x="571.48" y="505.42" width="4" height="4"/>
<rect x="571.73" y="504.08" width="4" height="4"/>
<rect x="572.48" y="506.77" width="4" height="4"/>
<rect x="572.99" y="504.99" width="4" height="4"/>
<rect x="573.24" y="506.97" width="4" height="4"/>
<rect x="573.74" y="500.95" width="4" height="4"/>
<rect x="574" y="507.66" width="4" height="4"/>
<rect x="574.25" y="506.48" width="4" height="4"/>
<rect x="574.75" y="507.93" width="4" height="4"/>
<rect x="575.01" y="505.26" width="4" height="4"/>
<rect x="575.26" y="503.44" width="4" height="4"/>
<rect x="575.51" y="505.32" width="4" height="4"/>
<rect x="575.76" y="503.42" width="4" height="4"/>
<rect x="576.01" y="508.13" width="4" height="4"/>
<rect x="576.27" y="499.99" width="4" height="4"/>
<rect x="576.52" y="507.07" width="4" height="4"/>
<rect x="576.77" y="506" width="4" height="4"/>
<rect x="577.02" y="504.09" width="4" height="4"/>
<rect x="577.28" y="503.51" width="4" height="4"/>
<rect x="577.53" y="500.24" width="4" height="4"/>
<rect x="578.03" y="503.58" width="4" height="4"/>
<rect x="579.04" y="502.96" width="4" height="4"/>
<rect x="579.29" y="505.93" width="4" height="4"/>
<rect x="580.3" y="505.74" width="4" height="4"/>
<rect x="580.81" y="504.02" width="4" height="4"/>
<rect x="581.06" y="505.35" width="4" height="4"/>
<rect x="581.31" y="504.88" width="4" height="4"/>
<rect x="581.56" y="505.46" width="4" height="4"/>
<rect x="581.82" y="499.98" width="4" height="4"/>
<rect x="582.07" y="505.21" width="4" height="4"/>
<rect x="582.32" y="506.32" width="4" height="4"/>
<rect x="582.57" y="507.16" width="4" height="4"/>
<rect x="582.82" y="500.97" width="4" height="4"/>
<rect x="583.08" y="504.55" width="4" height="4"/>
<rect x="583.33" y="505.75" width="4" height="4"/>
<rect x="583.58" y="507.74" width="4" height="4"/>
<rect x="583.83" y="505.7" width="4" height="4"/>
<rect x="584.09" y="503.66" width="4" height="4"/>
<rect x="584.59" y="500.54" width="4" height="4"/>
<rect x="584.84" y="507.63" width="4" height="4"/>
<rect x="585.09" y="503.41" width="4" height="4"/>
<rect x="585.6" y="501.78" width="4" height="4"/>
<rect x="585.85" y="500.99" width="4" height="4"/>
<rect x="586.1" y="504.22" width="4" height="4"/>
<rect x="586.61" y="506.13" width="4" height="4"/>
<rect x="586.86" y="506.91" width="4" height="4"/>
<rect x="587.11" y="502.37" width="4" height="4"/>
<rect x="587.36" y="504.94" width="4" height="4"/>
<rect x="587.62" y="503.22" width="4" height="4"/>
<rect x="588.12" y="506.64" width="4" height="4"/>
<rect x="588.37" y="500.19" width="4" height="4"/>
<rect x="588.62" y="507.63" width="4" height="4"/>
<rect x="589.38" y="507.15" width="4" height="4"/>
<rect x="589.63" y="503.78" width="4" height="4"/>
<rect x="590.14" y="500.53" width="4" height="4"/>
<rect x="590.39" y="505.55" width="4" height="4"/>
<rect x="590.64" y="502.84" width="4" height="4"/>
<rect x="590.89" y="502.58" width="4" height="4"/>
<rect x="591.15" y="507.82" width="4" height="4"/>
<rect x="591.4" y="507.92" width="4" height="4"/>
<rect x="591.65" y="505.48" width="4" height="4"/>
<rect x="591.9" y="503.27" width="4" height="4"/>
<rect x="592.16" y="504.4" width="4" height="4"/>
<rect x="592.41" y="500.51" width="4" height="4"/>
<rect x="592.66" y="499.99" width="4" height="4"/>
<rect x="592.91" y="503.13" width="4" height="4"/>
<rect x="593.16" y="505.53" width="4" height="4"/>
<rect x="593.42" y="506.98" width="4" height="4"/>
<rect x="593.67" y="501.84" width="4" height="4"/>
<rect x="593.92" y="501.45" width="4" height="4"/>
<rect x="594.17" y="503.76" width="4" height="4"/>
<rect x="594.43" y="503.63" width="4" height="4"/>
<rect x="594.68" y="503.23" width="4" height="4"/>
<rect x="594.93" y="502.06" width="4" height="4"/>
<rect x="595.18" y="502.31" width="4" height="4"/>
<rect x="595.94" y="501.79" width="4" height="4"/>
<rect x="596.44" y="505.96" width="4" height="4"/>
<rect x="596.7" y="500.38" width="4" height="4"/>
<rect x="596.95" y="508.22" width="4" height="4"/>
<rect x="597.2" y="502.78" width="4" height="4"/>
<rect x="597.7" y="499.97" width="4" height="4"/>
<rect x="597.96" y="501.93" width="4" height="4"/>
<rect x="598.21" y="508.06" width="4" height="4"/>
<rect x="598.46" y="507.79" width="4" height="4"/>
<rect x="598.71" y="503.62" width="4" height="4"/>
<rect x="598.96" y="500.39" width="4" height="4"/>
<rect x="599.22" y="507.04" width="4" height="4"/>
<rect x="599.47" y="502.09" width="4" height="4"/>
<rect x="599.97" y="508.06" width="4" height="4"/>
<rect x="600.48" y="500.03" width="4" height="4"/>
<rect x="600.73" y="502.94" width="4" height="4"/>
<rect x="600.98" y="501.56" width="4" height="4"/>
<rect x="601.23" y="505.57" width="4" height="4"/>
<rect x="601.74" y="502.12" width="4" height="4"/>
<rect x="601.99" y="502.87" width="4" height="4"/>
<rect x="602.24" y="501.02" width="4" height="4"/>
<rect x="602.5" y="503.55" width="4" height="4"/>
<rect x="602.75" y="500.56" width="4" height="4"/>
<rect x="603.25" y="506.41" width="4" height="4"/>
<rect x="603.5" y="506.09" width="4" height="4"/>
<rect x="603.76" y="506.35" width="4" height="4"/>
<rect x="604.01" y="501.91" width="4" height="4"/>
<rect x="604.26" y="505.79" width="4" height="4"/>
<rect x="604.77" y="503.5" width="4" height="4"/>
<rect x="605.02" y="501.03" width="4" height="4"/>
<rect x="605.52" y="503.55" width="4" height="4"/>
<rect x="606.03" y="506.21" width="4" height="4"/>
<rect x="606.28" y="502.7" width="4" height="4"/>
<rect x="606.53" y="504.01" width="4" height="4"/>
<rect x="606.78" y="505.46" width="4" height="4"/>
<rect x="607.04" y="502.77" width="4" height="4"/>
<rect x="607.29" y="502.77" width="4" height="4"/>
<rect x="607.54" y="503.43" width="4" height="4"/>
<rect x="608.04" y="502.92" width="4" height="4"/>
<rect x="608.55" y="508.15" width="4" height="4"/>
<rect x="608.8" y="502.25" width="4" height="4"/>
<rect x="609.05" y="502.65" width="4" height="4"/>
<rect x="609.31" y="503.75" width="4" height="4"/>
<rect x="609.56" y="507.26" width="4" height="4"/>
<rect x="609.81" y="507.74" width="4" height="4"/>
<rect x="610.06" y="502.64" width="4" height="4"/>
<rect x="610.31" y="502.87" width="4" height="4"/>
<rect x="610.82" y="506.86" width="4" height="4"/>
<rect x="611.32" y="508.07" width="4" height="4"/>
<rect x="611.57" y="506.88" width="4" height="4"/>
<rect x="611.83" y="507.66" width="4" height="4"/>
<rect x="612.08" y="502.26" width="4" height="4"/>
<rect x="612.33" y="502.95" width="4" height="4"/>
<rect x="612.58" y="505.34" width="4" height="4"/>
<rect x="612.84" y="505.7" width="4" height="4"/>
<rect x="613.09" y="504.14" width="4" height="4"/>
<rect x="613.34" y="503.83" width="4" height="4"/>
<rect x="613.59" y="507.62" width="4" height="4"/>
<rect x="613.84" y="505.3" width="4" height="4"/>
<rect x="614.35" y="507" width="4" height="4"/>
<rect x="615.11" y="506.66" width="4" height="4"/>
<rect x="615.36" y="506.72" width="4" height="4"/>
<rect x="615.61" y="508.04" width="4" height="4"/>
<rect x="615.86" y="505.86" width="4" height="4"/>
<rect x="616.11" y="506.14" width="4" height="4"/>
<rect x="616.37" y="504.2" width="4" height="4"/>
<rect x="616.62" y="505.07" width="4" height="4"/>
<rect x="616.87" y="504.2" width="4" height="4"/>
<rect x="617.63" y="505.94" width="4" height="4"/>
<rect x="617.88" y="505.83" width="4" height="4"/>
<rect x="618.38" y="506.03" width="4" height="4"/>
<rect x="618.64" y="507.46" width="4" height="4"/>
<rect x="619.14" y="504.74" width="4" height="4"/>
<rect x="619.65" y="504.73" width="4" height="4"/>
<rect x="619.9" y="506.9" width="4" height="4"/>
<rect x="620.15" y="507.62" width="4" height="4"/>
<rect x="621.16" y="504.28" width="4" height="4"/>
<rect x="621.41" y="504.56" width="4" height="4"/>
<rect x="621.66" y="506.48" width="4" height="4"/>
<rect x="622.17" y="504" width="4" height="4"/>
<rect x="622.67" y="504.9" width="4" height="4"/>
<rect x="623.18" y="504.7" width="4" height="4"/>
<rect x="623.43" y="506.13" width="4" height="4"/>
<rect x="623.68" y="506.05" width="4" height="4"/>
<rect x="623.93" y="504.81" width="4" height="4"/>
<rect x="624.18" y="506.47" width="4" height="4"/>
<rect x="624.44" y="505.21" width="4" height="4"/>
<rect x="624.69" y="504.82" width="4" height="4"/>
<rect x="624.94" y="503.15" width="4" height="4"/>
<rect x="625.19" y="504.22" width="4" height="4"/>
<rect x="625.45" y="505.61" width="4" height="4"/>
<rect x="625.7" y="507.5" width="4" height="4"/>
<rect x="626.2" y="505.35" width="4" height="4"/>
<rect x="626.45" y="503.73" width="4" height="4"/>
<rect x="626.71" y="507.33" width="4" height="4"/>
<rect x="627.21" y="504.72" width="4" height="4"/>
<rect x="628.22" y="506.18" width="4" height="4"/>
<rect x="628.98" y="507.45" width="4" height="4"/>
<rect x="629.23" y="507.73" width="4" height="4"/>
<rect x="629.48" y="503.87" width="4" height="4"/>
<rect x="629.73" y="505.81" width="4" height="4"/>
<rect x="629.99" y="506.13" width="4" height="4"/>
<rect x="630.49" y="505.84" width="4" height="4"/>
<rect x="630.74" y="503.93" width="4" height="4"/>
<rect x="631.25" y="504.59" width="4" height="4"/>
<rect x="631.5" y="505.46" width="4" height="4"/>
<rect x="631.75" y="506.28" width="4" height="4"/>
<rect x="632" y="506.23" width="4" height="4"/>
<rect x="632.26" y="507.21" width="4" height="4"/>
<rect x="632.51" y="507.99" width="4" height="4"/>
<rect x="632.76" y="504.42" width="4" height="4"/>
<rect x="633.01" y="506.55" width="4" height="4"/>
<rect x="633.26" y="503.8" width="4" height="4"/>
<rect x="633.52" y="504.88" width="4" height="4"/>
<rect x="634.02" y="506.03" width="4" height="4"/>
<rect x="634.53" y="506.31" width="4" height="4"/>
<rect x="634.78" y="505.94" width="4" height="4"/>
<rect x="635.03" y="504.5" width="4" height="4"/>
<rect x="635.28" y="506.13" width="4" height="4"/>
<rect x="635.53" y="503.99" width="4" height="4"/>
<rect x="635.79" y="506.26" width="4" height="4"/>
<rect x="636.04" y="503.4" width="4" height="4"/>
<rect x="636.29" y="503.16" width="4" height="4"/>
<rect x="636.54" y="506.33" width="4" height="4"/>
<rect x="636.79" y="506.56" width="4" height="4"/>
<rect x="637.05" y="504.32" width="4" height="4"/>
<rect x="637.3" y="505.54" width="4" height="4"/>
<rect x="637.55" y="503.57" width="4" height="4"/>
<rect x="638.06" y="505.2" width="4" height="4"/>
<rect x="638.31" y="505.89" width="4" height="4"/>
<rect x="638.81" y="505.84" width="4" height="4"/>
<rect x="639.32" y="505.75" width="4" height="4"/>
<rect x="639.57" y="504.03" width="4" height="4"/>
<rect x="639.82" y="504.47" width="4" height="4"/>
<rect x="640.07" y="508.09" width="4" height="4"/>
<rect x="640.33" y="505.45" width="4" height="4"/>
<rect x="641.08" y="507.17" width="4" height="4"/>
<rect x="641.33" y="504.12" width="4" height="4"/>
<rect x="641.59" y="507.85" width="4" height="4"/>
<rect x="642.09" y="508.02" width="4" height="4"/>
<rect x="642.34" y="504.68" width="4" height="4"/>
<rect x="642.6" y="508.02" width="4" height="4"/>
<rect x="642.85" y="506.18" width="4" height="4"/>
<rect x="643.1" y="503.25" width="4" height="4"/>
<rect x="643.86" y="506.62" width="4" height="4"/>
<rect x="644.11" y="508.27" width="4" height="4"/>
<rect x="644.61" y="506.99" width="4" height="4"/>
<rect x="644.87" y="507.02" width="4" height="4"/>
<rect x="645.37" y="505.75" width="4" height="4"/>
<rect x="645.62" y="508.05" width="4" height="4"/>
<rect x="645.87" y="503.99" width="4" height="4"/>
<rect x="646.63" y="507.3" width="4" height="4"/>
<rect x="646.88" y="505.65" width="4" height="4"/>
<rect x="647.13" y="506.01" width="4" height="4"/>
<rect x="647.39" y="505.43" width="4" height="4"/>
<rect x="647.64" y="504.37" width="4" height="4"/>
<rect x="647.89" y="503.79" width="4" height="4"/>
<rect x="648.14" y="508.05" width="4" height="4"/>
<rect x="648.4" y="505.7" width="4" height="4"/>
<rect x="648.65" y="505.55" width="4" height="4"/>
<rect x="648.9" y="506.97" width="4" height="4"/>
<rect x="649.4" y="504.85" width="4" height="4"/>
<rect x="649.91" y="506.1" width="4" height="4"/>
<rect x="650.41" y="504.07" width="4" height="4"/>
<rect x="650.67" y="506.21" width="4" height="4"/>
<rect x="650.92" y="508.07" width="4" height="4"/>
<rect x="651.42" y="505.45" width="4" height="4"/>
<rect x="651.67" y="503.9" width="4" height="4"/>
<rect x="651.93" y="504.48" width="4" height="4"/>
<rect x="652.18" y="505.09" width="4" height="4"/>
<rect x="652.43" y="506.9" width="4" height="4"/>
<rect x="652.68" y="504.33" width="4" height="4"/>
<rect x="652.94" y="503.96" width="4" height="4"/>
<rect x="653.19" y="507.82" width="4" height="4"/>
<rect x="653.44" y="504.6" width="4" height="4"/>
<rect x="653.94" y="505.2" width="4" height="4"/>
<rect x="654.2" y="504.05" width="4" height="4"/>
<rect x="654.45" y="507.58" width="4" height="4"/>
<rect x="654.7" y="505.05" width="4" height="4"/>
<rect x="654.95" y="504.4" width="4" height="4"/>
<rect x="655.21" y="507.22" width="4" height="4"/>
<rect x="655.46" y="506.82" width="4" height="4"/>
<rect x="655.71" y="507.59" width="4" height="4"/>
<rect x="656.21" y="504.41" width="4" height="4"/>
<rect x="656.47" y="504.61" width="4" height="4"/>
<rect x="656.97" y="508.15" width="4" height="4"/>
<rect x="657.22" y="505.36" width="4" height="4"/>
<rect x="657.48" y="505.8" width="4" height="4"/>
<rect x="657.73" y="506.18" width="4" height="4"/>
<rect x="657.98" y="506.34" width="4" height="4"/>
<rect x="658.23" y="507.78" width="4" height="4"/>
<rect x="658.74" y="504.11" width="4" height="4"/>
<rect x="659.49" y="506.99" width="4" height="4"/>
<rect x="659.75" y="504.92" width="4" height="4"/>
<rect x="660" y="504.12" width="4" height="4"/>
<rect x="660.25" y="506.12" width="4" height="4"/>
<rect x="660.75" y="505.88" width="4" height="4"/>
<rect x="661.01" y="507.68" width="4" height="4"/>
<rect x="661.26" y="504.32" width="4" height="4"/>
<rect x="661.76" y="504.2" width="4" height="4"/>
<rect x="662.01" y="505.65" width="4" height="4"/>
<rect x="662.52" y="504.13" width="4" height="4"/>
<rect x="662.77" y="508.08" width="4" height="4"/>
<rect x="663.02" y="506.32" width="4" height="4"/>
<rect x="663.28" y="505.04" width="4" height="4"/>
<rect x="663.53" y="504.85" width="4" height="4"/>
<rect x="663.78" y="508" width="4" height="4"/>
<rect x="664.03" y="507.88" width="4" height="4"/>
<rect x="664.28" y="504.87" width="4" height="4"/>
<rect x="664.54" y="506.3" width="4" height="4"/>
<rect x="664.79" y="506.07" width="4" height="4"/>
<rect x="665.04" y="505.5" width="4" height="4"/>
<rect x="665.29" y="505.8" width="4" height="4"/>
<rect x="665.55" y="506.68" width="4" height="4"/>
<rect x="665.8" y="507.59" width="4" height="4"/>
<rect x="666.05" y="504.26" width="4" height="4"/>
<rect x="666.3" y="504.69" width="4" height="4"/>
<rect x="666.81" y="507.66" width="4" height="4"/>
<rect x="667.06" y="504.55" width="4" height="4"/>
<rect x="667.31" y="506.19" width="4" height="4"/>
<rect x="667.56" y="507.8" width="4" height="4"/>
<rect x="667.82" y="507.61" width="4" height="4"/>
<rect x="668.07" y="506.16" width="4" height="4"/>
<rect x="668.32" y="507.47" width="4" height="4"/>
<rect x="668.57" y="507.44" width="4" height="4"/>
<rect x="668.82" y="507.29" width="4" height="4"/>
<rect x="669.33" y="504.57" width="4" height="4"/>
<rect x="669.58" y="504.36" width="4" height="4"/>
<rect x="669.83" y="505" width="4" height="4"/>
<rect x="670.09" y="505.43" width="4" height="4"/>
<rect x="670.34" y="505.19" width="4" height="4"/>
<rect x="670.59" y="507.21" width="4" height="4"/>
<rect x="670.84" y="506.67" width="4" height="4"/>
<rect x="671.09" y="507.1" width="4" height="4"/>
<rect x="671.6" y="505.92" width="4" height="4"/>
<rect x="671.85" y="505.86" width="4" height="4"/>
<rect x="672.36" y="508.05" width="4" height="4"/>
<rect x="672.61" y="505.86" width="4" height="4"/>
<rect x="673.11" y="505.79" width="4" height="4"/>
<rect x="673.36" y="505" width="4" height="4"/>
<rect x="673.62" y="505.02" width="4" height="4"/>
<rect x="673.87" y="504.59" width="4" height="4"/>
<rect x="674.12" y="504.52" width="4" height="4"/>
<rect x="674.37" y="506.66" width="4" height="4"/>
<rect x="674.62" y="507.32" width="4" height="4"/>
<rect x="674.88" y="505.59" width="4" height="4"/>
<rect x="675.13" y="506.93" width="4" height="4"/>
<rect x="675.38" y="507.51" width="4" height="4"/>
<rect x="675.63" y="506.98" width="4" height="4"/>
<rect x="676.64" y="506.34" width="4" height="4"/>
<rect x="677.65" y="507.52" width="4" height="4"/>
<rect x="677.9" y="505" width="4" height="4"/>
<rect x="678.41" y="505.52" width="4" height="4"/>
<rect x="678.66" y="507.67" width="4" height="4"/>
<rect x="679.16" y="505.42" width="4" height="4"/>
<rect x="679.42" y="505.11" width="4" height="4"/>
<rect x="680.17" y="505.12" width="4" height="4"/>
<rect x="680.68" y="506.64" width="4" height="4"/>
<rect x="681.69" y="504.68" width="4" height="4"/>
<rect x="681.94" y="504.74" width="4" height="4"/>
<rect x="682.19" y="504.66" width="4" height="4"/>
<rect x="682.7" y="505.17" width="4" height="4"/>
<rect x="682.95" y="507.56" width="4" height="4"/>
<rect x="683.2" y="507.42" width="4" height="4"/>
<rect x="683.45" y="504.93" width="4" height="4"/>
<rect x="683.7" y="505.67" width="4" height="4"/>
<rect x="683.96" y="505.4" width="4" height="4"/>
<rect x="684.46" y="504.83" width="4" height="4"/>
<rect x="684.97" y="507.98" width="4" height="4"/>
<rect x="685.22" y="505.24" width="4" height="4"/>
<rect x="685.47" y="506.13" width="4" height="4"/>
<rect x="686.23" y="506.53" width="4" height="4"/>
<rect x="686.48" y="507.9" width="4" height="4"/>
<rect x="686.98" y="506.13" width="4" height="4"/>
<rect x="687.23" y="507.1" width="4" height="4"/>
<rect x="687.49" y="507.03" width="4" height="4"/>
<rect x="687.99" y="507.26" width="4" height="4"/>
<rect x="688.24" y="507.34" width="4" height="4"/>
<rect x="688.5" y="506.73" width="4" height="4"/>
<rect x="688.75" y="505.45" width="4" height="4"/>
<rect x="689" y="505.89" width="4" height="4"/>
<rect x="689.25" y="505.4" width="4" height="4"/>
<rect x="689.5" y="507.35" width="4" height="4"/>
<rect x="690.01" y="507.52" width="4" height="4"/>
<rect x="690.51" y="505.19" width="4" height="4"/>
<rect x="690.77" y="506.57" width="4" height="4"/>
<rect x="691.27" y="507.8" width="4" height="4"/>
<rect x="691.52" y="507.88" width="4" height="4"/>
<rect x="691.77" y="508.03" width="4" height="4"/>
<rect x="692.03" y="508.21" width="4" height="4"/>
<rect x="692.53" y="507.89" width="4" height="4"/>
<rect x="692.78" y="508.12" width="4" height="4"/>
<rect x="693.04" y="508.02" width="4" height="4"/>
<rect x="693.54" y="508.11" width="4" height="4"/>
<rect x="694.3" y="508.26" width="4" height="4"/>
<rect x="694.55" y="508.08" width="4" height="4"/>
<rect x="695.05" y="507.97" width="4" height="4"/>
<rect x="695.31" y="508.11" width="4" height="4"/>
<rect x="695.56" y="507.96" width="4" height="4"/>
<rect x="696.06" y="508.12" width="4" height="4"/>
<rect x="696.57" y="507.88" width="4" height="4"/>
<rect x="696.82" y="508.02" width="4" height="4"/>
<rect x="697.07" y="507.92" width="4" height="4"/>
<rect x="697.58" y="507.92" width="4" height="4"/>
<rect x="697.83" y="508.14" width="4" height="4"/>
<rect x="698.08" y="507.82" width="4" height="4"/>
<rect x="698.58" y="508" width="4" height="4"/>
<rect x="698.84" y="508.28" width="4" height="4"/>
<rect x="699.09" y="507.92" width="4" height="4"/>
<rect x="699.34" y="508.16" width="4" height="4"/>
<rect x="699.84" y="508.03" width="4" height="4"/>
<rect x="700.1" y="507.81" width="4" height="4"/>
<rect x="700.35" y="507.89" width="4" height="4"/>
<rect x="700.6" y="508.11" width="4" height="4"/>
<rect x="701.11" y="507.95" width="4" height="4"/>
<rect x="701.36" y="508.22" width="4" height="4"/>
<rect x="701.61" y="507.88" width="4" height="4"/>
<rect x="702.11" y="508.23" width="4" height="4"/>
<rect x="702.37" y="507.86" width="4" height="4"/>
<rect x="702.62" y="507.93" width="4" height="4"/>
<rect x="702.87" y="508.14" width="4" height="4"/>
<rect x="703.12" y="508.15" width="4" height="4"/>
<rect x="703.38" y="507.81" width="4" height="4"/>
<rect x="703.88" y="508.14" width="4" height="4"/>
<rect x="704.38" y="508.14" width="4" height="4"/>
<rect x="704.64" y="508.25" width="4" height="4"/>
<rect x="704.89" y="508.1" width="4" height="4"/>
<rect x="705.14" y="507.81" width="4" height="4"/>
<rect x="705.39" y="508.2" width="4" height="4"/>
<rect x="705.9" y="507.88" width="4" height="4"/>
<rect x="706.15" y="507.91" width="4" height="4"/>
<rect x="706.4" y="508.22" width="4" height="4"/>
<rect x="706.91" y="508.02" width="4" height="4"/>
<rect x="707.16" y="507.92" width="4" height="4"/>
<rect x="707.41" y="508.12" width="4" height="4"/>
<rect x="707.92" y="508.15" width="4" height="4"/>
<rect x="708.17" y="508.17" width="4" height="4"/>
<rect x="708.67" y="507.88" width="4" height="4"/>
<rect x="708.92" y="508.12" width="4" height="4"/>
<rect x="709.43" y="508.18" width="4" height="4"/>
<rect x="709.68" y="508.02" width="4" height="4"/>
<rect x="710.19" y="508.09" width="4" height="4"/>
<rect x="710.69" y="508.14" width="4" height="4"/>
<rect x="710.94" y="507.81" width="4" height="4"/>
<rect x="711.19" y="507.95" width="4" height="4"/>
<rect x="711.7" y="507.82" width="4" height="4"/>
<rect x="711.95" y="508.13" width="4" height="4"/>
<rect x="712.2" y="507.89" width="4" height="4"/>
<rect x="712.45" y="508.21" width="4" height="4"/>
<rect x="712.96" y="508.04" width="4" height="4"/>
<rect x="713.21" y="507.84" width="4" height="4"/>
<rect x="713.46" y="508.13" width="4" height="4"/>
<rect x="713.72" y="508.09" width="4" height="4"/>
<rect x="713.97" y="507.87" width="4" height="4"/>
<rect x="714.22" y="508.01" width="4" height="4"/>
<rect x="714.47" y="508.01" width="4" height="4"/>
<rect x="714.72" y="507.87" width="4" height="4"/>
<rect x="715.48" y="507.96" width="4" height="4"/>
<rect x="715.99" y="507.85" width="4" height="4"/>
<rect x="716.49" y="507.89" width="4" height="4"/>
<rect x="716.74" y="507.86" width="4" height="4"/>
<rect x="716.99" y="507.94" width="4" height="4"/>
<rect x="717.25" y="507.99" width="4" height="4"/>
<rect x="717.5" y="508.27" width="4" height="4"/>
<rect x="717.75" y="507.88" width="4" height="4"/>
<rect x="718" y="508.19" width="4" height="4"/>
<rect x="718.26" y="508.25" width="4" height="4"/>
<rect x="718.51" y="507.81" width="4" height="4"/>
<rect x="719.01" y="507.95" width="4" height="4"/>
<rect x="719.26" y="507.88" width="4" height="4"/>
<rect x="719.52" y="508.3" width="4" height="4"/>
<rect x="719.77" y="508.23" width="4" height="4"/>
<rect x="720.02" y="508.27" width="4" height="4"/>
<rect x="720.27" y="508.02" width="4" height="4"/>
<rect x="720.78" y="507.88" width="4" height="4"/>
<rect x="721.03" y="508.19" width="4" height="4"/>
<rect x="721.28" y="508.13" width="4" height="4"/>
<rect x="721.53" y="508.01" width="4" height="4"/>
<rect x="721.79" y="507.9" width="4" height="4"/>
<rect x="722.04" y="507.88" width="4" height="4"/>
<rect x="722.54" y="508.28" width="4" height="4"/>
<rect x="723.05" y="508.05" width="4" height="4"/>
<rect x="723.3" y="508.27" width="4" height="4"/>
<rect x="723.55" y="507.93" width="4" height="4"/>
<rect x="723.8" y="508.1" width="4" height="4"/>
<rect x="724.06" y="508" width="4" height="4"/>
<rect x="724.31" y="507.86" width="4" height="4"/>
<rect x="725.32" y="507.8" width="4" height="4"/>
<rect x="725.57" y="508.06" width="4" height="4"/>
<rect x="725.82" y="508.07" width="4" height="4"/>
<rect x="726.07" y="507.94" width="4" height="4"/>
<rect x="726.33" y="508.13" width="4" height="4"/>
<rect x="726.58" y="508.1" width="4" height="4"/>
<rect x="726.83" y="508.2" width="4" height="4"/>
<rect x="727.08" y="508.04" width="4" height="4"/>
<rect x="727.33" y="508.2" width="4" height="4"/>
<rect x="727.59" y="508.2" width="4" height="4"/>
<rect x="727.84" y="508.02" width="4" height="4"/>
<rect x="728.09" y="507.81" width="4" height="4"/>
<rect x="728.34" y="507.82" width="4" height="4"/>
<rect x="728.85" y="507.94" width="4" height="4"/>
<rect x="729.1" y="508.2" width="4" height="4"/>
<rect x="729.35" y="507.86" width="4" height="4"/>
<rect x="729.6" y="507.98" width="4" height="4"/>
<rect x="729.86" y="508.12" width="4" height="4"/>
<rect x="730.11" y="507.98" width="4" height="4"/>
<rect x="730.61" y="508.28" width="4" height="4"/>
<rect x="730.87" y="508.12" width="4" height="4"/>
<rect x="731.62" y="508.25" width="4" height="4"/>
<rect x="731.87" y="508.22" width="4" height="4"/>
<rect x="732.38" y="507.8" width="4" height="4"/>
<rect x="733.14" y="507.88" width="4" height="4"/>
<rect x="733.39" y="508.25" width="4" height="4"/>
<rect x="733.64" y="508.04" width="4" height="4"/>
<rect x="733.89" y="508.17" width="4" height="4"/>
<rect x="734.14" y="507.84" width="4" height="4"/>
<rect x="734.4" y="507.82" width="4" height="4"/>
<rect x="734.9" y="507.93" width="4" height="4"/>
<rect x="735.15" y="507.89" width="4" height="4"/>
<rect x="735.66" y="508.29" width="4" height="4"/>
<rect x="735.91" y="508" width="4" height="4"/>
<rect x="736.16" y="508.3" width="4" height="4"/>
<rect x="736.92" y="508.28" width="4" height="4"/>
<rect x="737.42" y="508.26" width="4" height="4"/>
<rect x="737.67" y="507.98" width="4" height="4"/>
<rect x="738.18" y="507.98" width="4" height="4"/>
<rect x="738.43" y="508.18" width="4" height="4"/>
<rect x="738.94" y="508.25" width="4" height="4"/>
<rect x="739.19" y="508.24" width="4" height="4"/>
<rect x="739.44" y="508.07" width="4" height="4"/>
<rect x="739.69" y="507.98" width="4" height="4"/>
<rect x="739.94" y="508.08" width="4" height="4"/>
<rect x="740.2" y="507.93" width="4" height="4"/>
<rect x="740.45" y="508.06" width="4" height="4"/>
<rect x="740.7" y="507.96" width="4" height="4"/>
<rect x="740.95" y="508.18" width="4" height="4"/>
<rect x="741.21" y="507.95" width="4" height="4"/>
<rect x="741.46" y="508.23" width="4" height="4"/>
<rect x="741.96" y="508.27" width="4" height="4"/>
<rect x="742.21" y="507.8" width="4" height="4"/>
<rect x="742.47" y="508.1" width="4" height="4"/>
<rect x="743.22" y="507.93" width="4" height="4"/>
<rect x="743.48" y="508.25" width="4" height="4"/>
<rect x="744.23" y="508.28" width="4" height="4"/>
<rect x="744.48" y="507.83" width="4" height="4"/>
<rect x="744.74" y="507.96" width="4" height="4"/>
<rect x="745.24" y="507.84" width="4" height="4"/>
<rect x="745.49" y="508.22" width="4" height="4"/>
<rect x="745.75" y="507.92" width="4" height="4"/>
<rect x="746" y="507.81" width="4" height="4"/>
<rect x="746.25" y="508.21" width="4" height="4"/>
<rect x="746.75" y="508.04" width="4" height="4"/>
<rect x="747.01" y="507.9" width="4" height="4"/>
<rect x="747.76" y="507.87" width="4" height="4"/>
<rect x="748.01" y="507.89" width="4" height="4"/>
<rect x="748.27" y="507.99" width="4" height="4"/>
<rect x="748.52" y="507.9" width="4" height="4"/>
<rect x="748.77" y="508.27" width="4" height="4"/>
<rect x="749.02" y="508.15" width="4" height="4"/>
<rect x="749.28" y="508.3" width="4" height="4"/>
<rect x="749.53" y="508.29" width="4" height="4"/>
<rect x="750.28" y="508.24" width="4" height="4"/>
<rect x="750.54" y="508.2" width="4" height="4"/>
<rect x="750.79" y="508.24" width="4" height="4"/>
<rect x="751.29" y="508.12" width="4" height="4"/>
<rect x="751.55" y="507.93" width="4" height="4"/>
<rect x="752.3" y="508.11" width="4" height="4"/>
<rect x="752.55" y="507.91" width="4" height="4"/>
<rect x="752.81" y="507.99" width="4" height="4"/>
<rect x="753.56" y="508.26" width="4" height="4"/>
<rect x="753.82" y="507.95" width="4" height="4"/>
<rect x="754.07" y="508.04" width="4" height="4"/>
<rect x="754.32" y="508.09" width="4" height="4"/>
<rect x="754.57" y="507.97" width="4" height="4"/>
<rect x="755.08" y="507.9" width="4" height="4"/>
<rect x="755.83" y="508.28" width="4" height="4"/>
<rect x="756.09" y="507.87" width="4" height="4"/>
<rect x="756.34" y="507.86" width="4" height="4"/>
<rect x="756.59" y="507.82" width="4" height="4"/>
<rect x="756.84" y="507.94" width="4" height="4"/>
<rect x="757.09" y="508.15" width="4" height="4"/>
<rect x="757.35" y="508.14" width="4" height="4"/>
<rect x="757.6" y="508.08" width="4" height="4"/>
<rect x="758.1" y="507.83" width="4" height="4"/>
<rect x="759.36" y="508.17" width="4" height="4"/>
<rect x="759.62" y="508.29" width="4" height="4"/>
<rect x="759.87" y="507.85" width="4" height="4"/>
<rect x="760.37" y="507.91" width="4" height="4"/>
<rect x="761.38" y="508.25" width="4" height="4"/>
<rect x="761.89" y="507.98" width="4" height="4"/>
<rect x="762.14" y="508.03" width="4" height="4"/>
<rect x="762.64" y="508.03" width="4" height="4"/>
<rect x="762.89" y="508.03" width="4" height="4"/>
<rect x="763.4" y="507.84" width="4" height="4"/>
<rect x="763.65" y="507.81" width="4" height="4"/>
<rect x="763.9" y="508.19" width="4" height="4"/>
<rect x="764.16" y="507.84" width="4" height="4"/>
<rect x="764.41" y="508.17" width="4" height="4"/>
<rect x="764.66" y="507.8" width="4" height="4"/>
<rect x="764.91" y="508.08" width="4" height="4"/>
<rect x="765.16" y="507.95" width="4" height="4"/>
<rect x="765.42" y="507.92" width="4" height="4"/>
<rect x="765.67" y="508.17" width="4" height="4"/>
<rect x="765.92" y="507.95" width="4" height="4"/>
<rect x="766.17" y="508.17" width="4" height="4"/>
<rect x="766.68" y="508" width="4" height="4"/>
<rect x="766.93" y="508" width="4" height="4"/>
<rect x="767.18" y="508.15" width="4" height="4"/>
<rect x="767.43" y="508.27" width="4" height="4"/>
<rect x="767.69" y="508.12" width="4" height="4"/>
<rect x="767.94" y="508.24" width="4" height="4"/>
<rect x="768.19" y="507.81" width="4" height="4"/>
<rect x="768.44" y="508.16" width="4" height="4"/>
<rect x="768.95" y="508.25" width="4" height="4"/>
<rect x="769.2" y="508.09" width="4" height="4"/>
<rect x="769.45" y="508.08" width="4" height="4"/>
<rect x="769.7" y="508.25" width="4" height="4"/>
<rect x="770.21" y="507.88" width="4" height="4"/>
<rect x="770.46" y="507.88" width="4" height="4"/>
<rect x="770.71" y="507.87" width="4" height="4"/>
<rect x="771.22" y="508.16" width="4" height="4"/>
<rect x="771.47" y="508.2" width="4" height="4"/>
<rect x="771.97" y="507.97" width="4" height="4"/>
<rect x="772.23" y="507.97" width="4" height="4"/>
<rect x="772.48" y="508.23" width="4" height="4"/>
<rect x="772.73" y="507.8" width="4" height="4"/>
<rect x="772.98" y="507.97" width="4" height="4"/>
<rect x="773.24" y="508.19" width="4" height="4"/>
<rect x="773.49" y="508.29" width="4" height="4"/>
<rect x="773.99" y="507.81" width="4" height="4"/>
<rect x="774.24" y="507.93" width="4" height="4"/>
<rect x="774.5" y="507.9" width="4" height="4"/>
<rect x="774.75" y="508.11" width="4" height="4"/>
<rect x="775" y="508.24" width="4" height="4"/>
<rect x="775.25" y="507.9" width="4" height="4"/>
<rect x="775.5" y="508.11" width="4" height="4"/>
<rect x="776.01" y="508.2" width="4" height="4"/>
<rect x="776.26" y="508.11" width="4" height="4"/>
<rect x="776.51" y="507.98" width="4" height="4"/>
<rect x="776.77" y="507.86" width="4" height="4"/>
<rect x="777.02" y="507.96" width="4" height="4"/>
<rect x="777.52" y="508.29" width="4" height="4"/>
<rect x="777.77" y="508.24" width="4" height="4"/>
<rect x="778.03" y="507.94" width="4" height="4"/>
<rect x="778.28" y="508.24" width="4" height="4"/>
<rect x="778.53" y="508.21" width="4" height="4"/>
<rect x="778.78" y="508.08" width="4" height="4"/>
<rect x="779.04" y="508.27" width="4" height="4"/>
<rect x="779.29" y="508.06" width="4" height="4"/>
<rect x="779.79" y="508.26" width="4" height="4"/>
<rect x="780.04" y="507.92" width="4" height="4"/>
<rect x="780.3" y="507.86" width="4" height="4"/>
<rect x="781.05" y="507.82" width="4" height="4"/>
<rect x="781.31" y="508.18" width="4" height="4"/>
<rect x="781.56" y="507.86" width="4" height="4"/>
<rect x="781.81" y="508.26" width="4" height="4"/>
<rect x="782.06" y="507.83" width="4" height="4"/>
<rect x="782.31" y="507.93" width="4" height="4"/>
<rect x="782.57" y="508.07" width="4" height="4"/>
<rect x="782.82" y="508.2" width="4" height="4"/>
<rect x="783.07" y="508.12" width="4" height="4"/>
<rect x="783.32" y="507.8" width="4" height="4"/>
<rect x="783.58" y="508.21" width="4" height="4"/>
<rect x="783.83" y="507.97" width="4" height="4"/>
<rect x="784.08" y="508.29" width="4" height="4"/>
<rect x="784.33" y="507.93" width="4" height="4"/>
<rect x="784.58" y="508.18" width="4" height="4"/>
<rect x="784.84" y="507.99" width="4" height="4"/>
<rect x="785.09" y="508.23" width="4" height="4"/>
<rect x="785.85" y="507.87" width="4" height="4"/>
<rect x="786.1" y="507.84" width="4" height="4"/>
<rect x="786.35" y="508.19" width="4" height="4"/>
<rect x="786.6" y="507.84" width="4" height="4"/>
<rect x="786.85" y="508.19" width="4" height="4"/>
<rect x="787.11" y="508.08" width="4" height="4"/>
<rect x="787.36" y="508.2" width="4" height="4"/>
<rect x="787.61" y="508.01" width="4" height="4"/>
<rect x="788.11" y="507.96" width="4" height="4"/>
<rect x="788.37" y="507.82" width="4" height="4"/>
<rect x="788.62" y="508.06" width="4" height="4"/>
<rect x="788.87" y="507.82" width="4" height="4"/>
<rect x="789.12" y="507.8" width="4" height="4"/>
<rect x="789.38" y="508.19" width="4" height="4"/>
<rect x="789.88" y="507.8" width="4" height="4"/>
<rect x="790.13" y="508.19" width="4" height="4"/>
<rect x="790.64" y="508.09" width="4" height="4"/>
<rect x="790.89" y="507.96" width="4" height="4"/>
<rect x="791.14" y="508.11" width="4" height="4"/>
<rect x="791.39" y="507.88" width="4" height="4"/>
<rect x="791.65" y="507.99" width="4" height="4"/>
<rect x="791.9" y="508.07" width="4" height="4"/>
<rect x="792.15" y="507.94" width="4" height="4"/>
<rect x="792.4" y="508.18" width="4" height="4"/>
<rect x="792.65" y="507.81" width="4" height="4"/>
<rect x="792.91" y="508.23" width="4" height="4"/>
<rect x="793.16" y="508.01" width="4" height="4"/>
<rect x="793.66" y="508.18" width="4" height="4"/>
<rect x="793.92" y="508" width="4" height="4"/>
<rect x="794.17" y="508.09" width="4" height="4"/>
<rect x="794.67" y="507.87" width="4" height="4"/>
<rect x="795.18" y="507.82" width="4" height="4"/>
<rect x="795.43" y="508.27" width="4" height="4"/>
<rect x="795.93" y="508.29" width="4" height="4"/>
<rect x="796.19" y="508.15" width="4" height="4"/>
<rect x="796.94" y="508.03" width="4" height="4"/>
<rect x="797.7" y="508.04" width="4" height="4"/>
<rect x="797.95" y="508.18" width="4" height="4"/>
<rect x="798.2" y="508" width="4" height="4"/>
<rect x="799.21" y="508.26" width="4" height="4"/>
</g>
<text x="537.5" y="455" text-anchor="end" font-size="23" fill="#231815">0.15</text>
<text x="537.5" y="475.1" text-anchor="end" font-size="23" fill="#231815">0.10</text>
<text x="537.5" y="496.2" text-anchor="end" font-size="23" fill="#231815">0.05</text>
<text x="537.5" y="516.8" text-anchor="end" font-size="23" fill="#231815">0.00</text>
<text x="541.95" y="534.5" text-anchor="middle" font-size="23" fill="#231815">0</text>
<text x="605" y="534.5" text-anchor="middle" font-size="23" fill="#231815">250</text>
<text x="668.05" y="534.5" text-anchor="middle" font-size="23" fill="#231815">500</text>
<text x="731.1" y="534.5" text-anchor="middle" font-size="23" fill="#231815">750</text>
<text x="794.15" y="534.5" text-anchor="middle" font-size="23" fill="#231815">1000</text>
<text transform="translate(480.5,474.5) rotate(-90)" text-anchor="middle" font-size="21.7" fill="#231815">Energy</text>
<text x="670.6" y="561.9" text-anchor="middle" font-size="23" fill="#231815">Iteration</text>
<text x="834.5" y="21.9" font-size="25" font-weight="bold" fill="#231815">D</text>
<defs><filter id="sh" x="-30%" y="-30%" width="170%" height="170%"><feDropShadow dx="0.9" dy="0.9" stdDeviation="0.7" flood-color="#000" flood-opacity="0.35"/></filter><linearGradient id="chev" x1="0" y1="0" x2="0.3" y2="1"><stop offset="0" stop-color="#ececec"/><stop offset="1" stop-color="#c6c6c6"/></linearGradient></defs>
<g stroke="#111" stroke-width="1.8">
<line x1="937.7" y1="25.8" x2="862.7" y2="82.7"/>
<line x1="937.7" y1="25.8" x2="1012.8" y2="82.7"/>
<line x1="937.7" y1="25.8" x2="910.0" y2="157.8"/>
<line x1="862.7" y1="82.7" x2="910.0" y2="157.8"/>
<line x1="910.0" y1="157.8" x2="984.7" y2="175.1"/>
<line x1="1012.8" y1="82.7" x2="984.7" y2="175.1"/>
</g>
<g filter="url(#sh)">
<circle cx="937.7" cy="25.8" r="12.2" fill="#f1c459"/>
<circle cx="862.7" cy="82.7" r="12.2" fill="#55a0da"/>
<circle cx="1012.8" cy="82.7" r="12.2" fill="#55a0da"/>
<circle cx="910.0" cy="157.8" r="12.2" fill="#55a0da"/>
<circle cx="984.7" cy="175.1" r="12.2" fill="#f1c459"/>
</g>
<polygon points="1044.3,77 1064.7,77 1085.9,102 1064.7,126.2 1044.3,126.2 1060.9,102" fill="url(#chev)" filter="url(#sh)"/>
<g stroke="#111" stroke-width="1.8">
<line x1="1140.9" y1="42.3" x2="1237.1" y2="64.6"/>
<line x1="1140.9" y1="42.3" x2="1237.1" y2="130.8"/>
<line x1="1140.9" y1="97.3" x2="1237.1" y2="64.6"/>
<line x1="1140.9" y1="153.1" x2="1237.1" y2="64.6"/>
<line x1="1140.9" y1="153.1" x2="1237.1" y2="130.8"/>
<line x1="1140.9" y1="97.3" x2="1140.9" y2="153.1"/>
</g>
<g filter="url(#sh)">
<circle cx="1140.9" cy="42.3" r="12.2" fill="#55a0da"/>
<circle cx="1140.9" cy="97.3" r="12.2" fill="#55a0da"/>
<circle cx="1140.9" cy="153.1" r="12.2" fill="#55a0da"/>
<circle cx="1237.1" cy="64.6" r="12.2" fill="#f1c459"/>
<circle cx="1237.1" cy="130.8" r="12.2" fill="#f1c459"/>
</g>
<ellipse cx="1141" cy="101.3" rx="28.1" ry="82" fill="none" stroke="#55a0da" stroke-width="3.7"/>
<ellipse cx="1236.8" cy="95.7" rx="27.2" ry="65.2" fill="none" stroke="#f1c459" stroke-width="3.7"/>
<text x="834.8" y="250" font-size="25" font-weight="bold" fill="#231815">E</text>
<defs><pattern id="stem" width="2.1" height="1.6" patternUnits="userSpaceOnUse"><rect x="0" y="0" width="0.8" height="1.1" fill="#c6cee8"/></pattern></defs>
<rect x="932.6" y="244.5" width="335.4" height="65" fill="#fff"/>
<g stroke="#e6e6e6" stroke-width="0.8">
<line x1="1027.85" y1="244.5" x2="1027.85" y2="309.5"/>
<line x1="1123.1" y1="244.5" x2="1123.1" y2="309.5"/>
<line x1="1218.35" y1="244.5" x2="1218.35" y2="309.5"/>
<line x1="932.6" y1="276.3" x2="1268.0" y2="276.3"/>
</g>
<rect x="933.1" y="244.5" width="80.96" height="63" fill="url(#stem)"/>
<rect x="932.6" y="244.5" width="335.4" height="65" fill="none" stroke="#8f8f8f" stroke-width="0.8"/>
<g fill="#1e5582">
<rect x="932.2" y="242.2" width="335.8" height="5"/>
<rect x="932.2" y="304.8" width="85.4" height="5"/>
<rect x="936.45" y="292.55" width="4.5" height="4.5"/>
<rect x="957.95" y="296.65" width="4.5" height="4.5"/>
<rect x="964.05" y="285.95" width="4.5" height="4.5"/>
<rect x="968.95" y="276.35" width="4.5" height="4.5"/>
<rect x="962.35" y="264.65" width="4.5" height="4.5"/>
<rect x="959.35" y="246.05" width="4.5" height="4.5"/>
<rect x="983.55" y="300.45" width="4.5" height="4.5"/>
<rect x="1013.15" y="303.75" width="4.5" height="4.5"/>
<rect x="960.25" y="302.25" width="4.5" height="4.5"/>
</g>
<text x="924" y="248.9" text-anchor="end" font-size="21.8" fill="#231815">1.0</text>
<text x="924" y="281" text-anchor="end" font-size="21.8" fill="#231815">0.5</text>
<text x="924" y="313.2" text-anchor="end" font-size="21.8" fill="#231815">0.0</text>
<text x="936.3" y="329" text-anchor="middle" font-size="23" fill="#231815">0</text>
<text x="1035.8" y="329" text-anchor="middle" font-size="23" fill="#231815">400</text>
<text x="1131.2" y="329" text-anchor="middle" font-size="23" fill="#231815">800</text>
<text x="1229.5" y="329" text-anchor="middle" font-size="23" fill="#231815">1200</text>
<text transform="translate(878.3,269.2) rotate(-90)" text-anchor="middle" font-size="23" font-style="italic" fill="#231815">x<tspan font-size="15" font-style="normal" dy="5">1</tspan></text>
<rect x="932.6" y="343.5" width="335.4" height="65" fill="#fff"/>
<g stroke="#e6e6e6" stroke-width="0.8">
<line x1="1027.85" y1="343.5" x2="1027.85" y2="408.5"/>
<line x1="1123.1" y1="343.5" x2="1123.1" y2="408.5"/>
<line x1="1218.35" y1="343.5" x2="1218.35" y2="408.5"/>
<line x1="932.6" y1="375.8" x2="1268.0" y2="375.8"/>
</g>
<rect x="933.1" y="343.5" width="291.94" height="63" fill="url(#stem)"/>
<rect x="932.6" y="343.5" width="335.4" height="65" fill="none" stroke="#8f8f8f" stroke-width="0.8"/>
<g fill="#2a77b8">
<rect x="932.2" y="342.2" width="293.3" height="5"/>
<rect x="932.2" y="404.5" width="335.8" height="5"/>
<rect x="956.18" y="347.61" width="4.5" height="4.5"/>
<rect x="965.83" y="347.61" width="4.5" height="4.5"/>
<rect x="974.75" y="346.86" width="4.5" height="4.5"/>
<rect x="975.49" y="349.84" width="4.5" height="4.5"/>
<rect x="985.15" y="349.39" width="4.5" height="4.5"/>
<rect x="996.29" y="346.86" width="4.5" height="4.5"/>
<rect x="1002.98" y="350.88" width="4.5" height="4.5"/>
<rect x="997.78" y="354.29" width="4.5" height="4.5"/>
<rect x="1004.46" y="355.03" width="4.5" height="4.5"/>
<rect x="1008.18" y="353.55" width="4.5" height="4.5"/>
<rect x="1017.83" y="354.29" width="4.5" height="4.5"/>
<rect x="1012.63" y="358.3" width="4.5" height="4.5"/>
<rect x="960.19" y="355.78" width="4.5" height="4.5"/>
<rect x="978.46" y="355.03" width="4.5" height="4.5"/>
<rect x="953.21" y="363.21" width="4.5" height="4.5"/>
<rect x="961.08" y="367.22" width="4.5" height="4.5"/>
<rect x="933.15" y="379.25" width="4.5" height="4.5"/>
<rect x="1033.43" y="371.08" width="4.5" height="4.5"/>
<rect x="1060.92" y="372.12" width="4.5" height="4.5"/>
<rect x="1001.19" y="383.56" width="4.5" height="4.5"/>
<rect x="978.46" y="389.95" width="4.5" height="4.5"/>
<rect x="989.6" y="393.96" width="4.5" height="4.5"/>
<rect x="979.21" y="396.93" width="4.5" height="4.5"/>
<rect x="931.96" y="393.96" width="4.5" height="4.5"/>
<rect x="1043.83" y="352.81" width="4.5" height="4.5"/>
<rect x="1049.03" y="355.03" width="4.5" height="4.5"/>
<rect x="1051.26" y="357.71" width="4.5" height="4.5"/>
<rect x="1052.75" y="347.9" width="4.5" height="4.5"/>
<rect x="1057.95" y="347.16" width="4.5" height="4.5"/>
<rect x="1043.83" y="392.62" width="4.5" height="4.5"/>
<rect x="1049.03" y="393.96" width="4.5" height="4.5"/>
<rect x="1053.49" y="396.93" width="4.5" height="4.5"/>
<rect x="1046.06" y="398.12" width="4.5" height="4.5"/>
<rect x="1063.89" y="397.67" width="4.5" height="4.5"/>
<rect x="1020.8" y="395.89" width="4.5" height="4.5"/>
<rect x="1026.75" y="398.86" width="4.5" height="4.5"/>
<rect x="1031.95" y="401.09" width="4.5" height="4.5"/>
<rect x="1006.69" y="400.35" width="4.5" height="4.5"/>
<rect x="1011.89" y="401.09" width="4.5" height="4.5"/>
<rect x="970.29" y="401.09" width="4.5" height="4.5"/>
<rect x="991.09" y="401.39" width="4.5" height="4.5"/>
<rect x="1042.35" y="401.09" width="4.5" height="4.5"/>
<rect x="1059.43" y="401.39" width="4.5" height="4.5"/>
<rect x="933.15" y="346.12" width="4.5" height="4.5"/>
<rect x="1013.38" y="346.12" width="4.5" height="4.5"/>
<rect x="1038.63" y="345.38" width="4.5" height="4.5"/>
<rect x="1068.35" y="345.38" width="4.5" height="4.5"/>
<rect x="1095.09" y="346.86" width="4.5" height="4.5"/>
<rect x="942.06" y="402.28" width="4.5" height="4.5"/>
<rect x="998.52" y="402.28" width="4.5" height="4.5"/>
<rect x="1019.32" y="402.58" width="4.5" height="4.5"/>
<rect x="1095.46" y="347.61" width="4.5" height="4.5"/>
<rect x="1114.03" y="346.86" width="4.5" height="4.5"/>
<rect x="1136.32" y="347.61" width="4.5" height="4.5"/>
<rect x="1157.12" y="345.38" width="4.5" height="4.5"/>
<rect x="1113.74" y="353.25" width="4.5" height="4.5"/>
<rect x="1119.23" y="355.78" width="4.5" height="4.5"/>
<rect x="1117.01" y="360.23" width="4.5" height="4.5"/>
<rect x="1126.22" y="355.78" width="4.5" height="4.5"/>
<rect x="1130.38" y="358.01" width="4.5" height="4.5"/>
<rect x="1135.58" y="363.21" width="4.5" height="4.5"/>
<rect x="1102.45" y="364.99" width="4.5" height="4.5"/>
<rect x="1154.15" y="368.85" width="4.5" height="4.5"/>
<rect x="1139.29" y="376.87" width="4.5" height="4.5"/>
<rect x="1118.49" y="391.43" width="4.5" height="4.5"/>
<rect x="1119.23" y="393.96" width="4.5" height="4.5"/>
<rect x="1139.29" y="393.96" width="4.5" height="4.5"/>
<rect x="1101.41" y="397.38" width="4.5" height="4.5"/>
<rect x="1164.1" y="397.82" width="4.5" height="4.5"/>
<rect x="1122.95" y="400.79" width="4.5" height="4.5"/>
<rect x="1151.18" y="399.9" width="4.5" height="4.5"/>
<rect x="1184.6" y="350.58" width="4.5" height="4.5"/>
<rect x="1186.39" y="356.22" width="4.5" height="4.5"/>
<rect x="1182.67" y="364.25" width="4.5" height="4.5"/>
<rect x="1207.19" y="351.32" width="4.5" height="4.5"/>
<rect x="1194.26" y="378.81" width="4.5" height="4.5"/>
<rect x="1199.46" y="386.23" width="4.5" height="4.5"/>
<rect x="1188.32" y="390.99" width="4.5" height="4.5"/>
<rect x="1187.58" y="392.92" width="4.5" height="4.5"/>
<rect x="1183.86" y="396.34" width="4.5" height="4.5"/>
<rect x="1180.15" y="398.86" width="4.5" height="4.5"/>
<rect x="1193.96" y="395.89" width="4.5" height="4.5"/>
<rect x="1192.03" y="400.35" width="4.5" height="4.5"/>
<rect x="1225.46" y="394.41" width="4.5" height="4.5"/>
<rect x="1225.91" y="398.12" width="4.5" height="4.5"/>
<rect x="1226.2" y="400.79" width="4.5" height="4.5"/>
<rect x="1219.52" y="343.89" width="4.5" height="4.5"/>
<rect x="1206.89" y="345.38" width="4.5" height="4.5"/>
<rect x="1111.06" y="345.38" width="4.5" height="4.5"/>
<rect x="1171.98" y="344.64" width="4.5" height="4.5"/>
<rect x="1197.23" y="402.58" width="4.5" height="4.5"/>
<rect x="1100.66" y="402.28" width="4.5" height="4.5"/>
<rect x="1188.32" y="402.58" width="4.5" height="4.5"/>
</g>
<text x="924" y="347.9" text-anchor="end" font-size="21.8" fill="#231815">1.0</text>
<text x="924" y="380.4" text-anchor="end" font-size="21.8" fill="#231815">0.5</text>
<text x="924" y="412.5" text-anchor="end" font-size="21.8" fill="#231815">0.0</text>
<text x="934.5" y="428.4" text-anchor="middle" font-size="23" fill="#231815">0</text>
<text x="1034.0" y="428.4" text-anchor="middle" font-size="23" fill="#231815">400</text>
<text x="1129.4" y="428.4" text-anchor="middle" font-size="23" fill="#231815">800</text>
<text x="1227.7" y="428.4" text-anchor="middle" font-size="23" fill="#231815">1200</text>
<text transform="translate(879,370) rotate(-90)" text-anchor="middle" font-size="23" font-style="italic" fill="#231815">x<tspan font-size="15" font-style="normal" dy="5">2</tspan></text>
<rect x="932.6" y="447" width="335.4" height="64.5" fill="#fff"/>
<g stroke="#e6e6e6" stroke-width="0.8">
<line x1="1027.85" y1="447" x2="1027.85" y2="511.5"/>
<line x1="1123.1" y1="447" x2="1123.1" y2="511.5"/>
<line x1="1218.35" y1="447" x2="1218.35" y2="511.5"/>
<line x1="932.6" y1="479.3" x2="1268.0" y2="479.3"/>
</g>
<rect x="933.1" y="447" width="291.94" height="62.5" fill="url(#stem)"/>
<rect x="932.6" y="447" width="335.4" height="64.5" fill="none" stroke="#8f8f8f" stroke-width="0.8"/>
<g fill="#4b9bd5">
<rect x="932.2" y="445.5" width="293.3" height="5"/>
<rect x="932.2" y="507.5" width="335.8" height="5"/>
<rect x="956.18" y="450.88" width="4.5" height="4.5"/>
<rect x="965.83" y="450.88" width="4.5" height="4.5"/>
<rect x="974.75" y="450.14" width="4.5" height="4.5"/>
<rect x="975.49" y="453.1" width="4.5" height="4.5"/>
<rect x="985.15" y="452.66" width="4.5" height="4.5"/>
<rect x="996.29" y="450.14" width="4.5" height="4.5"/>
<rect x="1002.98" y="454.13" width="4.5" height="4.5"/>
<rect x="997.78" y="457.54" width="4.5" height="4.5"/>
<rect x="1004.46" y="458.27" width="4.5" height="4.5"/>
<rect x="1008.18" y="456.8" width="4.5" height="4.5"/>
<rect x="1017.83" y="457.54" width="4.5" height="4.5"/>
<rect x="1012.63" y="461.53" width="4.5" height="4.5"/>
<rect x="960.19" y="459.01" width="4.5" height="4.5"/>
<rect x="978.46" y="458.27" width="4.5" height="4.5"/>
<rect x="953.21" y="466.41" width="4.5" height="4.5"/>
<rect x="961.08" y="470.4" width="4.5" height="4.5"/>
<rect x="933.15" y="482.37" width="4.5" height="4.5"/>
<rect x="1033.43" y="474.24" width="4.5" height="4.5"/>
<rect x="1060.92" y="475.28" width="4.5" height="4.5"/>
<rect x="1001.19" y="486.66" width="4.5" height="4.5"/>
<rect x="978.46" y="493.02" width="4.5" height="4.5"/>
<rect x="989.6" y="497.01" width="4.5" height="4.5"/>
<rect x="979.21" y="499.97" width="4.5" height="4.5"/>
<rect x="931.96" y="497.01" width="4.5" height="4.5"/>
<rect x="1043.83" y="456.06" width="4.5" height="4.5"/>
<rect x="1049.03" y="458.27" width="4.5" height="4.5"/>
<rect x="1051.26" y="460.94" width="4.5" height="4.5"/>
<rect x="1052.75" y="451.18" width="4.5" height="4.5"/>
<rect x="1057.95" y="450.44" width="4.5" height="4.5"/>
<rect x="1043.83" y="495.68" width="4.5" height="4.5"/>
<rect x="1049.03" y="497.01" width="4.5" height="4.5"/>
<rect x="1053.49" y="499.97" width="4.5" height="4.5"/>
<rect x="1046.06" y="501.15" width="4.5" height="4.5"/>
<rect x="1063.89" y="500.71" width="4.5" height="4.5"/>
<rect x="1020.8" y="498.93" width="4.5" height="4.5"/>
<rect x="1026.75" y="501.89" width="4.5" height="4.5"/>
<rect x="1031.95" y="504.11" width="4.5" height="4.5"/>
<rect x="1006.69" y="503.37" width="4.5" height="4.5"/>
<rect x="1011.89" y="504.11" width="4.5" height="4.5"/>
<rect x="970.29" y="504.11" width="4.5" height="4.5"/>
<rect x="991.09" y="504.4" width="4.5" height="4.5"/>
<rect x="1042.35" y="504.11" width="4.5" height="4.5"/>
<rect x="1059.43" y="504.4" width="4.5" height="4.5"/>
<rect x="933.15" y="449.4" width="4.5" height="4.5"/>
<rect x="1013.38" y="449.4" width="4.5" height="4.5"/>
<rect x="1038.63" y="448.66" width="4.5" height="4.5"/>
<rect x="1068.35" y="448.66" width="4.5" height="4.5"/>
<rect x="1095.09" y="450.14" width="4.5" height="4.5"/>
<rect x="942.06" y="505.29" width="4.5" height="4.5"/>
<rect x="998.52" y="505.29" width="4.5" height="4.5"/>
<rect x="1019.32" y="505.59" width="4.5" height="4.5"/>
<rect x="1095.46" y="450.88" width="4.5" height="4.5"/>
<rect x="1114.03" y="450.14" width="4.5" height="4.5"/>
<rect x="1136.32" y="450.88" width="4.5" height="4.5"/>
<rect x="1157.12" y="448.66" width="4.5" height="4.5"/>
<rect x="1113.74" y="456.5" width="4.5" height="4.5"/>
<rect x="1119.23" y="459.01" width="4.5" height="4.5"/>
<rect x="1117.01" y="463.45" width="4.5" height="4.5"/>
<rect x="1126.22" y="459.01" width="4.5" height="4.5"/>
<rect x="1130.38" y="461.23" width="4.5" height="4.5"/>
<rect x="1135.58" y="466.41" width="4.5" height="4.5"/>
<rect x="1102.45" y="468.18" width="4.5" height="4.5"/>
<rect x="1154.15" y="472.02" width="4.5" height="4.5"/>
<rect x="1139.29" y="480.01" width="4.5" height="4.5"/>
<rect x="1118.49" y="494.5" width="4.5" height="4.5"/>
<rect x="1119.23" y="497.01" width="4.5" height="4.5"/>
<rect x="1139.29" y="497.01" width="4.5" height="4.5"/>
<rect x="1101.41" y="500.41" width="4.5" height="4.5"/>
<rect x="1164.1" y="500.86" width="4.5" height="4.5"/>
<rect x="1122.95" y="503.81" width="4.5" height="4.5"/>
<rect x="1151.18" y="502.93" width="4.5" height="4.5"/>
<rect x="1184.6" y="453.84" width="4.5" height="4.5"/>
<rect x="1186.39" y="459.46" width="4.5" height="4.5"/>
<rect x="1182.67" y="467.44" width="4.5" height="4.5"/>
<rect x="1207.19" y="454.58" width="4.5" height="4.5"/>
<rect x="1194.26" y="481.93" width="4.5" height="4.5"/>
<rect x="1199.46" y="489.32" width="4.5" height="4.5"/>
<rect x="1188.32" y="494.05" width="4.5" height="4.5"/>
<rect x="1187.58" y="495.98" width="4.5" height="4.5"/>
<rect x="1183.86" y="499.38" width="4.5" height="4.5"/>
<rect x="1180.15" y="501.89" width="4.5" height="4.5"/>
<rect x="1193.96" y="498.93" width="4.5" height="4.5"/>
<rect x="1192.03" y="503.37" width="4.5" height="4.5"/>
<rect x="1225.46" y="497.45" width="4.5" height="4.5"/>
<rect x="1225.91" y="501.15" width="4.5" height="4.5"/>
<rect x="1226.2" y="503.81" width="4.5" height="4.5"/>
<rect x="1219.52" y="447.19" width="4.5" height="4.5"/>
<rect x="1206.89" y="448.66" width="4.5" height="4.5"/>
<rect x="1111.06" y="448.66" width="4.5" height="4.5"/>
<rect x="1171.98" y="447.92" width="4.5" height="4.5"/>
<rect x="1197.23" y="505.59" width="4.5" height="4.5"/>
<rect x="1100.66" y="505.29" width="4.5" height="4.5"/>
<rect x="1188.32" y="505.59" width="4.5" height="4.5"/>
<rect x="936.86" y="457.71" width="4.5" height="4.5"/>
<rect x="957.66" y="452.06" width="4.5" height="4.5"/>
<rect x="964.35" y="464.69" width="4.5" height="4.5"/>
<rect x="962.12" y="471.08" width="4.5" height="4.5"/>
<rect x="968.81" y="474.05" width="4.5" height="4.5"/>
<rect x="962.57" y="485.49" width="4.5" height="4.5"/>
<rect x="933.89" y="482.22" width="4.5" height="4.5"/>
<rect x="933.45" y="497.38" width="4.5" height="4.5"/>
<rect x="979.95" y="458.3" width="4.5" height="4.5"/>
</g>
<text x="924.6" y="451.6" text-anchor="end" font-size="21.8" fill="#231815">0.0</text>
<text x="924.6" y="484" text-anchor="end" font-size="21.8" fill="#231815">-0.5</text>
<text x="924.6" y="521" text-anchor="end" font-size="21.8" fill="#231815">-1.0</text>
<text x="936.3" y="534.3" text-anchor="middle" font-size="23" fill="#231815">0</text>
<text x="1035.8" y="534.3" text-anchor="middle" font-size="23" fill="#231815">400</text>
<text x="1131.2" y="534.3" text-anchor="middle" font-size="23" fill="#231815">800</text>
<text x="1229.5" y="534.3" text-anchor="middle" font-size="23" fill="#231815">1200</text>
<text transform="translate(878.6,464) rotate(-90)" text-anchor="middle" font-size="21.7" fill="#231815">Energy</text>
<text x="1103" y="560.5" text-anchor="middle" font-size="23" fill="#231815">Iteration</text>
</svg>
</body></html>
